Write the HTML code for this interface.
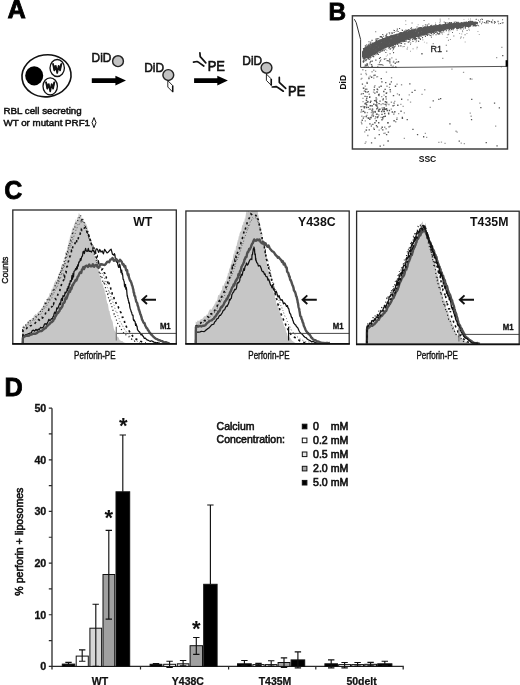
<!DOCTYPE html>
<html lang="en"><head><meta charset="utf-8"><title>Figure: perforin binding to liposomes</title>
<style>html,body{margin:0;padding:0;background:#fff}body{width:520px;height:685px;overflow:hidden}svg{display:block;font-family:"Liberation Sans", Arial, Helvetica, sans-serif;filter:blur(0.35px)}</style></head><body>
<svg width="520" height="685" viewBox="0 0 520 685">
<rect width="520" height="685" fill="#fff"/>
<g id="panelA">
<text x="7.6" y="18" font-size="25.4" font-weight="bold" fill="#000" stroke="#000" stroke-width="0.8">A</text>
<ellipse cx="46.5" cy="75.8" rx="24.6" ry="21" fill="#fff" stroke="#111" stroke-width="1.6" transform="rotate(-8 46.5 75.8)"/>
<ellipse cx="34.2" cy="75.8" rx="9" ry="9.6" fill="#000"/>
<ellipse cx="57.2" cy="68" rx="7.2" ry="8.5" fill="#fff" stroke="#111" stroke-width="1.3"/>
<path d="M52.900000000000006,63.4 L54.300000000000004,70.4 L55.800000000000004,65.8 L57.2,73 L58.6,65.8 L60.1,70.4 L61.5,63.4" fill="none" stroke="#111" stroke-width="1.7" stroke-linejoin="round"/>
<path d="M53.0,63.6 L54.300000000000004,70.2 L55.0,67 z M61.400000000000006,63.6 L60.1,70.2 L59.400000000000006,67 z" fill="#111" stroke="#111" stroke-width="0.8"/>
<ellipse cx="50.2" cy="86.3" rx="7.2" ry="8.5" fill="#fff" stroke="#111" stroke-width="1.3"/>
<path d="M45.900000000000006,81.7 L47.300000000000004,88.7 L48.800000000000004,84.1 L50.2,91.3 L51.6,84.1 L53.1,88.7 L54.5,81.7" fill="none" stroke="#111" stroke-width="1.7" stroke-linejoin="round"/>
<path d="M46.0,81.89999999999999 L47.300000000000004,88.5 L48.0,85.3 z M54.400000000000006,81.89999999999999 L53.1,88.5 L52.400000000000006,85.3 z" fill="#111" stroke="#111" stroke-width="0.8"/>
<text x="3.5" y="114" font-size="9.75" font-weight="normal" text-anchor="start" fill="#111" stroke="#111" stroke-width="0.5">RBL cell secreting</text>
<text x="3.5" y="126.2" font-size="9.75" font-weight="normal" text-anchor="start" fill="#111" stroke="#111" stroke-width="0.5">WT or mutant PRF1</text>
<path d="M94,117.6 l2,5 l-2,5 l-2,-5 z" fill="#fff" stroke="#111" stroke-width="1"/>
<text x="91.6" y="62.3" font-size="13.6" fill="#111" stroke="#111" stroke-width="0.6" textLength="19.8" lengthAdjust="spacingAndGlyphs">DiD</text>
<circle cx="118" cy="61.2" r="5.4" fill="#c2c2c2" stroke="#222" stroke-width="1.45"/>
<path d="M91.8,78.2 H115.4 V75.7 L126,80.6 L115.4,85.5 V82.9 H91.8 z" fill="#000"/>
<text x="144.2" y="71.7" font-size="13.6" fill="#111" stroke="#111" stroke-width="0.6" textLength="19.8" lengthAdjust="spacingAndGlyphs">DiD</text>
<circle cx="168.3" cy="75" r="5.4" fill="#c2c2c2" stroke="#222" stroke-width="1.45"/>
<path d="M167.8,80.6 v6.4 l4.8,4.9 v-6.4 z" fill="#fff" stroke="#111" stroke-width="0.9" stroke-linejoin="round"/>
<path d="M172.70000000000002,85.6 v6.6" stroke="#111" stroke-width="1.5"/>
<path d="M199.9,52.8 L200.2,56.6 L205.8,62.9 M193.5,62.1 L197,61.5 L199,62.6 L203.8,66" fill="none" stroke="#111" stroke-width="1.7" stroke-linecap="round" stroke-linejoin="round"/>
<text x="207.7" y="71.4" font-size="14.2" fill="#111" stroke="#111" stroke-width="0.7" textLength="17.2" lengthAdjust="spacingAndGlyphs">PE</text>
<path d="M194.1,78.2 H217.3 V75.7 L227.9,80.6 L217.3,85.5 V82.9 H194.1 z" fill="#000"/>
<text x="242.3" y="64.6" font-size="13.6" fill="#111" stroke="#111" stroke-width="0.6" textLength="19.8" lengthAdjust="spacingAndGlyphs">DiD</text>
<circle cx="266.5" cy="67.8" r="5.4" fill="#c2c2c2" stroke="#222" stroke-width="1.45"/>
<path d="M266.4,74 v6.4 l4.8,4.9 v-6.4 z" fill="#fff" stroke="#111" stroke-width="0.9" stroke-linejoin="round"/>
<path d="M271.29999999999995,79 v6.6" stroke="#111" stroke-width="1.5"/>
<path d="M279.3,77.4 L279.3,82.3 L285.7,88.4 M272.2,87 L276.1,86.6 L278.2,87.8 L283.3,91.2" fill="none" stroke="#111" stroke-width="1.7" stroke-linecap="round" stroke-linejoin="round"/>
<text x="288.1" y="96.2" font-size="14.2" fill="#111" stroke="#111" stroke-width="0.7" textLength="17.2" lengthAdjust="spacingAndGlyphs">PE</text>
</g>
<g id="panelB">
<text x="328.5" y="19.5" font-size="24.3" font-weight="bold" fill="#000" stroke="#000" stroke-width="0.8">B</text>
<rect x="352.4" y="15.8" width="155.10000000000002" height="133.2" fill="#fff" stroke="#3a3a3a" stroke-width="1.45"/>
<polygon points="362.0,51.9 364.0,48.2 366.0,46.8 368.0,45.5 370.0,44.3 372.0,43.3 374.0,42.3 376.0,41.2 378.0,40.2 380.0,39.4 382.0,38.7 384.0,37.9 386.0,37.1 388.0,36.4 390.0,35.7 392.0,35.1 394.0,34.6 396.0,34.0 398.0,33.4 400.0,32.8 402.0,32.2 404.0,31.6 406.0,31.0 408.0,30.5 410.0,30.0 412.0,29.6 414.0,29.1 416.0,28.7 418.0,28.3 420.0,27.8 422.0,27.4 424.0,27.0 426.0,26.5 428.0,26.2 430.0,25.9 432.0,25.7 434.0,25.4 436.0,25.1 438.0,24.9 440.0,24.6 442.0,24.4 444.0,24.1 446.0,23.8 448.0,23.7 450.0,23.5 452.0,23.4 454.0,23.2 456.0,23.0 458.0,22.9 460.0,22.7 462.0,22.5 464.0,22.4 466.0,22.2 468.0,22.0 470.0,21.9 472.0,21.9 474.0,22.0 476.0,22.0 478.0,22.1 478.0,23.7 476.0,24.1 474.0,24.4 472.0,24.8 470.0,25.1 468.0,25.5 466.0,25.8 464.0,26.2 462.0,26.5 460.0,26.9 458.0,27.2 456.0,27.6 454.0,27.9 452.0,28.3 450.0,28.6 448.0,29.0 446.0,29.4 444.0,29.8 442.0,30.3 440.0,30.7 438.0,31.2 436.0,31.6 434.0,32.1 432.0,32.6 430.0,33.0 428.0,33.5 426.0,34.0 424.0,34.6 422.0,35.2 420.0,35.8 418.0,36.4 416.0,37.0 414.0,37.6 412.0,38.2 410.0,38.8 408.0,39.4 406.0,40.1 404.0,40.9 402.0,41.7 400.0,42.4 398.0,43.2 396.0,44.0 394.0,44.7 392.0,45.5 390.0,46.3 388.0,47.1 386.0,48.0 384.0,49.0 382.0,49.9 380.0,50.8 378.0,51.8 376.0,53.0 374.0,54.2 372.0,55.4 370.0,56.6 368.0,57.4 366.0,57.9 364.0,58.5 362.0,57.1" fill="#585858"/>
<path d="M421.9,37.6h0.9v0.9h-0.9zM469.2,25.9h0.9v0.9h-0.9zM413.5,28.3h0.9v0.9h-0.9zM461.3,33.5h0.9v0.9h-0.9zM431.1,30.6h0.9v0.9h-0.9zM454.8,27.2h0.9v0.9h-0.9zM425.0,35.2h0.9v0.9h-0.9zM466.5,33.1h0.9v0.9h-0.9zM390.7,38.4h0.9v0.9h-0.9zM431.8,32.2h0.9v0.9h-0.9zM431.1,37.1h0.9v0.9h-0.9zM370.0,44.7h0.9v0.9h-0.9zM409.2,38.0h0.9v0.9h-0.9zM438.6,24.2h0.9v0.9h-0.9zM469.3,25.2h0.9v0.9h-0.9zM478.4,25.7h0.9v0.9h-0.9zM459.2,33.1h0.9v0.9h-0.9zM373.1,47.9h0.9v0.9h-0.9zM367.7,50.9h0.9v0.9h-0.9zM441.3,26.5h0.9v0.9h-0.9zM393.0,29.8h0.9v0.9h-0.9zM374.3,50.3h0.9v0.9h-0.9zM457.2,22.1h0.9v0.9h-0.9zM454.9,26.2h0.9v0.9h-0.9zM462.5,25.3h0.9v0.9h-0.9zM435.1,22.6h0.9v0.9h-0.9zM368.4,49.8h0.9v0.9h-0.9zM362.9,61.3h0.9v0.9h-0.9zM457.8,27.9h0.9v0.9h-0.9zM386.4,49.9h0.9v0.9h-0.9zM426.4,42.5h0.9v0.9h-0.9zM462.3,31.4h0.9v0.9h-0.9zM397.7,43.1h0.9v0.9h-0.9zM477.5,31.0h0.9v0.9h-0.9zM375.4,48.5h0.9v0.9h-0.9zM415.8,29.3h0.9v0.9h-0.9zM470.1,18.5h0.9v0.9h-0.9zM462.3,27.4h0.9v0.9h-0.9zM473.2,21.4h0.9v0.9h-0.9zM397.5,34.7h0.9v0.9h-0.9zM414.3,36.9h0.9v0.9h-0.9zM394.4,40.1h0.9v0.9h-0.9zM389.2,43.0h0.9v0.9h-0.9zM452.9,23.9h0.9v0.9h-0.9zM424.8,24.2h0.9v0.9h-0.9zM436.0,24.4h0.9v0.9h-0.9zM381.0,41.8h0.9v0.9h-0.9zM476.2,18.9h0.9v0.9h-0.9zM469.0,29.8h0.9v0.9h-0.9zM478.8,34.1h0.9v0.9h-0.9zM443.5,31.8h0.9v0.9h-0.9zM392.3,36.3h0.9v0.9h-0.9zM392.6,37.0h0.9v0.9h-0.9zM439.4,22.0h0.9v0.9h-0.9zM369.5,46.5h0.9v0.9h-0.9zM378.8,47.2h0.9v0.9h-0.9zM443.1,28.8h0.9v0.9h-0.9zM373.8,45.3h0.9v0.9h-0.9zM414.5,39.6h0.9v0.9h-0.9zM402.4,46.3h0.9v0.9h-0.9zM388.7,44.8h0.9v0.9h-0.9zM394.8,31.2h0.9v0.9h-0.9zM380.6,59.0h0.9v0.9h-0.9zM383.3,39.8h0.9v0.9h-0.9zM407.2,46.8h0.9v0.9h-0.9zM369.6,49.7h0.9v0.9h-0.9zM475.6,21.3h0.9v0.9h-0.9zM455.0,22.9h0.9v0.9h-0.9zM375.2,54.5h0.9v0.9h-0.9zM406.9,31.2h0.9v0.9h-0.9zM387.8,47.0h0.9v0.9h-0.9zM417.7,40.4h0.9v0.9h-0.9zM460.7,28.7h0.9v0.9h-0.9zM375.7,49.6h0.9v0.9h-0.9zM375.9,45.4h0.9v0.9h-0.9zM414.0,38.6h0.9v0.9h-0.9zM417.4,36.0h0.9v0.9h-0.9zM388.2,41.8h0.9v0.9h-0.9zM475.6,19.0h0.9v0.9h-0.9zM423.9,41.7h0.9v0.9h-0.9zM387.1,54.5h0.9v0.9h-0.9zM416.4,48.4h0.9v0.9h-0.9zM399.5,42.0h0.9v0.9h-0.9zM376.1,42.8h0.9v0.9h-0.9zM363.3,55.2h0.9v0.9h-0.9zM417.5,33.3h0.9v0.9h-0.9zM420.9,31.5h0.9v0.9h-0.9zM456.8,23.2h0.9v0.9h-0.9zM405.4,24.0h0.9v0.9h-0.9zM432.6,34.2h0.9v0.9h-0.9zM366.2,55.5h0.9v0.9h-0.9zM450.4,30.3h0.9v0.9h-0.9zM442.1,25.8h0.9v0.9h-0.9zM418.3,31.7h0.9v0.9h-0.9zM479.0,21.4h0.9v0.9h-0.9zM385.8,55.7h0.9v0.9h-0.9zM475.4,25.3h0.9v0.9h-0.9zM440.9,31.8h0.9v0.9h-0.9zM459.7,28.6h0.9v0.9h-0.9zM415.6,30.8h0.9v0.9h-0.9zM390.4,38.4h0.9v0.9h-0.9zM378.2,46.0h0.9v0.9h-0.9zM368.7,45.5h0.9v0.9h-0.9zM415.4,41.5h0.9v0.9h-0.9zM463.5,19.2h0.9v0.9h-0.9zM410.1,50.8h0.9v0.9h-0.9zM364.1,52.8h0.9v0.9h-0.9zM464.7,41.6h0.9v0.9h-0.9zM457.2,23.8h0.9v0.9h-0.9zM390.8,41.5h0.9v0.9h-0.9zM468.1,18.7h0.9v0.9h-0.9zM467.9,27.2h0.9v0.9h-0.9zM392.2,50.3h0.9v0.9h-0.9zM441.9,34.2h0.9v0.9h-0.9zM417.7,24.3h0.9v0.9h-0.9zM418.1,32.4h0.9v0.9h-0.9zM383.3,35.7h0.9v0.9h-0.9zM373.0,74.8h1.4v1.4h-1.4zM374.6,111.7h1.4v1.4h-1.4zM374.6,110.8h1.4v1.4h-1.4zM385.5,103.7h1.4v1.4h-1.4zM375.3,104.5h1.4v1.4h-1.4zM380.4,116.7h1.4v1.4h-1.4zM368.5,93.5h1.4v1.4h-1.4zM371.8,108.0h1.4v1.4h-1.4zM371.0,109.8h1.4v1.4h-1.4zM382.2,118.2h1.4v1.4h-1.4zM385.6,98.3h1.4v1.4h-1.4zM370.0,117.1h1.4v1.4h-1.4zM383.8,108.7h1.4v1.4h-1.4zM385.5,105.1h1.4v1.4h-1.4zM387.3,122.0h1.4v1.4h-1.4zM389.7,91.1h1.4v1.4h-1.4zM375.4,100.6h1.4v1.4h-1.4zM373.0,127.4h1.4v1.4h-1.4zM389.5,125.6h1.4v1.4h-1.4zM383.9,108.4h1.4v1.4h-1.4zM390.7,101.5h1.4v1.4h-1.4zM390.6,108.4h1.4v1.4h-1.4zM367.1,134.8h1.4v1.4h-1.4zM376.2,104.0h1.4v1.4h-1.4zM395.0,121.0h1.4v1.4h-1.4zM378.6,93.5h1.4v1.4h-1.4zM381.0,95.9h1.4v1.4h-1.4zM386.3,85.6h1.4v1.4h-1.4zM385.4,128.1h1.4v1.4h-1.4zM381.5,107.3h1.4v1.4h-1.4zM380.4,103.8h1.4v1.4h-1.4zM393.1,113.7h1.4v1.4h-1.4zM375.8,113.5h1.4v1.4h-1.4zM382.7,110.8h1.4v1.4h-1.4zM361.1,123.0h1.4v1.4h-1.4zM388.2,103.8h1.4v1.4h-1.4zM378.0,114.3h1.4v1.4h-1.4zM384.0,126.5h1.4v1.4h-1.4zM371.2,115.0h1.4v1.4h-1.4zM360.6,93.8h1.3v1.3h-1.3zM373.1,77.5h1.3v1.3h-1.3zM366.4,81.7h1.3v1.3h-1.3zM367.0,100.8h1.3v1.3h-1.3zM365.0,70.0h1.3v1.3h-1.3zM366.7,117.3h1.3v1.3h-1.3zM360.9,92.9h1.3v1.3h-1.3zM373.1,69.6h1.3v1.3h-1.3zM368.3,76.7h1.3v1.3h-1.3zM374.3,111.0h1.3v1.3h-1.3zM376.3,91.1h1.3v1.3h-1.3zM362.3,105.8h1.3v1.3h-1.3zM362.3,97.7h1.3v1.3h-1.3zM364.6,85.5h1.3v1.3h-1.3zM364.7,120.2h1.3v1.3h-1.3zM363.4,116.0h1.3v1.3h-1.3zM362.2,69.1h1.3v1.3h-1.3zM363.6,90.6h1.3v1.3h-1.3zM368.4,108.8h1.3v1.3h-1.3zM369.6,75.5h1.3v1.3h-1.3zM369.1,96.0h1.3v1.3h-1.3zM377.2,89.2h1.3v1.3h-1.3zM361.2,77.7h1.3v1.3h-1.3zM369.3,108.3h1.3v1.3h-1.3zM374.3,85.0h1.3v1.3h-1.3zM376.2,98.4h1.3v1.3h-1.3zM360.5,73.6h1.3v1.3h-1.3zM362.6,87.4h1.3v1.3h-1.3zM365.8,74.0h1.3v1.3h-1.3zM366.0,106.3h1.3v1.3h-1.3zM364.8,102.3h1.3v1.3h-1.3zM362.8,110.7h1.3v1.3h-1.3zM371.5,110.4h1.3v1.3h-1.3zM393.3,112.3h1.3v1.3h-1.3zM389.7,89.1h1.3v1.3h-1.3zM390.9,77.1h1.3v1.3h-1.3zM362.8,106.1h1.3v1.3h-1.3zM400.2,103.8h1.3v1.3h-1.3zM382.1,103.0h1.3v1.3h-1.3zM396.4,117.3h1.3v1.3h-1.3zM371.4,71.1h1.3v1.3h-1.3zM407.3,99.3h1.3v1.3h-1.3zM383.2,132.8h1.3v1.3h-1.3zM383.4,94.5h1.3v1.3h-1.3zM364.5,142.8h1.3v1.3h-1.3zM374.9,70.8h1.3v1.3h-1.3zM370.7,125.7h1.3v1.3h-1.3zM382.4,108.5h1.3v1.3h-1.3zM376.9,75.9h1.3v1.3h-1.3zM376.8,106.0h1.3v1.3h-1.3zM372.4,111.3h1.3v1.3h-1.3zM360.5,78.4h1.3v1.3h-1.3zM364.1,131.3h1.3v1.3h-1.3zM371.5,114.3h1.3v1.3h-1.3zM398.0,113.0h1.3v1.3h-1.3zM380.7,127.9h1.3v1.3h-1.3zM366.3,88.6h1.3v1.3h-1.3zM396.8,93.3h1.3v1.3h-1.3zM370.8,124.6h1.3v1.3h-1.3zM362.4,101.0h1.3v1.3h-1.3zM378.5,94.9h1.3v1.3h-1.3zM396.4,83.6h1.3v1.3h-1.3zM365.3,72.8h1.3v1.3h-1.3zM403.7,112.2h1.3v1.3h-1.3zM384.5,132.5h1.3v1.3h-1.3zM372.9,91.5h1.3v1.3h-1.3zM402.5,105.7h1.3v1.3h-1.3zM366.6,91.8h1.3v1.3h-1.3zM360.8,121.6h1.3v1.3h-1.3zM386.2,92.2h1.3v1.3h-1.3zM385.8,71.4h1.3v1.3h-1.3zM388.8,86.7h1.3v1.3h-1.3zM378.5,129.5h1.3v1.3h-1.3zM386.6,110.2h1.3v1.3h-1.3zM376.0,102.1h1.3v1.3h-1.3zM369.8,108.6h1.3v1.3h-1.3zM375.9,105.1h1.3v1.3h-1.3zM408.6,94.2h1.3v1.3h-1.3zM424.7,132.7h1.3v1.3h-1.3zM366.1,126.8h1.3v1.3h-1.3zM374.5,118.0h1.3v1.3h-1.3zM383.0,144.6h1.3v1.3h-1.3zM393.7,104.7h1.3v1.3h-1.3zM361.2,115.6h1.3v1.3h-1.3zM365.3,141.3h1.3v1.3h-1.3zM370.7,112.0h1.3v1.3h-1.3zM376.1,76.3h1.3v1.3h-1.3zM365.4,129.4h1.3v1.3h-1.3zM364.2,89.8h1.3v1.3h-1.3zM440.8,141.5h1.3v1.3h-1.3zM361.5,110.9h1.3v1.3h-1.3zM382.8,103.3h1.3v1.3h-1.3zM366.8,112.0h1.3v1.3h-1.3zM403.7,137.8h1.3v1.3h-1.3zM366.2,114.7h1.3v1.3h-1.3zM386.3,103.2h1.3v1.3h-1.3zM409.9,101.5h1.3v1.3h-1.3zM360.3,111.4h1.3v1.3h-1.3zM394.1,100.7h1.3v1.3h-1.3zM377.9,94.6h1.3v1.3h-1.3zM371.3,65.6h1.3v1.3h-1.3zM391.5,66.4h1.3v1.3h-1.3zM389.2,59.5h1.3v1.3h-1.3zM392.8,61.6h1.3v1.3h-1.3zM364.5,65.8h1.3v1.3h-1.3zM389.3,62.4h1.3v1.3h-1.3zM377.1,65.9h1.3v1.3h-1.3zM365.3,59.6h1.3v1.3h-1.3zM377.6,63.9h1.3v1.3h-1.3zM385.2,57.9h1.3v1.3h-1.3zM369.3,63.2h1.3v1.3h-1.3zM395.1,66.0h1.3v1.3h-1.3zM382.4,64.7h1.3v1.3h-1.3zM393.0,60.8h1.3v1.3h-1.3zM365.8,64.1h1.3v1.3h-1.3zM363.5,66.4h1.3v1.3h-1.3zM366.3,63.1h1.3v1.3h-1.3zM391.2,57.3h1.3v1.3h-1.3zM392.6,65.5h1.3v1.3h-1.3zM378.6,63.8h1.3v1.3h-1.3zM395.5,58.8h1.3v1.3h-1.3zM365.9,58.8h1.3v1.3h-1.3zM367.5,65.8h1.3v1.3h-1.3zM426.0,136.7h1.3v1.3h-1.3zM463.7,142.9h1.3v1.3h-1.3zM455.4,130.6h1.3v1.3h-1.3zM495.0,125.4h1.3v1.3h-1.3zM424.1,89.1h1.3v1.3h-1.3zM496.0,57.0h1.3v1.3h-1.3zM442.1,57.8h1.3v1.3h-1.3zM451.3,68.4h1.3v1.3h-1.3zM479.2,102.5h1.3v1.3h-1.3zM438.2,141.7h1.3v1.3h-1.3zM460.6,142.5h1.3v1.3h-1.3zM432.6,43.0h1.3v1.3h-1.3zM429.6,106.7h1.3v1.3h-1.3zM471.3,78.4h1.3v1.3h-1.3zM456.5,131.4h1.3v1.3h-1.3zM462.9,71.8h1.3v1.3h-1.3zM501.2,46.8h1.3v1.3h-1.3zM421.4,93.8h1.3v1.3h-1.3zM469.6,112.5h1.3v1.3h-1.3zM470.5,115.6h1.3v1.3h-1.3zM444.4,142.7h1.3v1.3h-1.3zM400.9,84.1h1.3v1.3h-1.3z" fill="#9a9a9a"/>
<path d="M388.7,44.4h1.1v1.1h-1.1zM366.2,56.6h1.1v1.1h-1.1zM412.9,33.0h1.1v1.1h-1.1zM409.5,35.3h1.1v1.1h-1.1zM364.1,52.1h1.1v1.1h-1.1zM367.5,52.3h1.1v1.1h-1.1zM399.8,38.5h1.1v1.1h-1.1zM378.7,44.0h1.1v1.1h-1.1zM424.4,33.9h1.1v1.1h-1.1zM396.6,37.3h1.1v1.1h-1.1zM472.5,25.5h1.1v1.1h-1.1zM385.2,45.0h1.1v1.1h-1.1zM371.7,52.1h1.1v1.1h-1.1zM449.7,27.2h1.1v1.1h-1.1zM374.8,42.9h1.1v1.1h-1.1zM393.9,37.3h1.1v1.1h-1.1zM414.4,34.2h1.1v1.1h-1.1zM377.1,47.0h1.1v1.1h-1.1zM431.3,27.3h1.1v1.1h-1.1zM419.1,33.1h1.1v1.1h-1.1zM403.1,34.8h1.1v1.1h-1.1zM433.8,32.8h1.1v1.1h-1.1zM380.6,40.8h1.1v1.1h-1.1zM457.9,24.2h1.1v1.1h-1.1zM437.8,26.6h1.1v1.1h-1.1zM369.6,61.8h1.1v1.1h-1.1zM399.0,38.0h1.1v1.1h-1.1zM407.3,33.4h1.1v1.1h-1.1zM364.2,50.4h1.1v1.1h-1.1zM417.5,28.3h1.1v1.1h-1.1zM458.0,24.1h1.1v1.1h-1.1zM420.2,35.6h1.1v1.1h-1.1zM418.4,27.1h1.1v1.1h-1.1zM467.9,24.5h1.1v1.1h-1.1zM405.5,35.2h1.1v1.1h-1.1zM434.1,28.0h1.1v1.1h-1.1zM427.0,34.8h1.1v1.1h-1.1zM384.7,42.9h1.1v1.1h-1.1zM395.4,38.8h1.1v1.1h-1.1zM404.1,35.6h1.1v1.1h-1.1zM373.7,49.4h1.1v1.1h-1.1zM443.1,27.6h1.1v1.1h-1.1zM370.4,50.3h1.1v1.1h-1.1zM457.4,26.8h1.1v1.1h-1.1zM366.8,47.4h1.1v1.1h-1.1zM459.1,25.5h1.1v1.1h-1.1zM450.1,27.1h1.1v1.1h-1.1zM398.7,36.0h1.1v1.1h-1.1zM392.4,46.7h1.1v1.1h-1.1zM372.2,42.5h1.1v1.1h-1.1zM374.4,48.3h1.1v1.1h-1.1zM406.8,37.5h1.1v1.1h-1.1zM419.6,31.9h1.1v1.1h-1.1zM399.1,38.2h1.1v1.1h-1.1zM393.6,32.0h1.1v1.1h-1.1zM432.6,26.6h1.1v1.1h-1.1zM410.5,31.0h1.1v1.1h-1.1zM365.1,49.1h1.1v1.1h-1.1zM461.4,25.2h1.1v1.1h-1.1zM447.1,22.5h1.1v1.1h-1.1zM396.1,37.7h1.1v1.1h-1.1zM425.3,31.2h1.1v1.1h-1.1zM365.6,54.8h1.1v1.1h-1.1zM373.2,49.8h1.1v1.1h-1.1zM390.4,40.9h1.1v1.1h-1.1zM372.2,49.2h1.1v1.1h-1.1zM368.3,50.7h1.1v1.1h-1.1zM457.8,25.4h1.1v1.1h-1.1zM422.7,32.3h1.1v1.1h-1.1zM391.2,42.7h1.1v1.1h-1.1zM393.0,44.8h1.1v1.1h-1.1zM475.0,24.5h1.1v1.1h-1.1zM404.6,34.7h1.1v1.1h-1.1zM368.4,51.5h1.1v1.1h-1.1zM390.7,40.1h1.1v1.1h-1.1zM373.1,56.2h1.1v1.1h-1.1zM363.3,57.2h1.1v1.1h-1.1zM371.9,47.9h1.1v1.1h-1.1zM413.8,36.9h1.1v1.1h-1.1zM472.8,23.5h1.1v1.1h-1.1zM456.3,24.8h1.1v1.1h-1.1zM393.3,37.4h1.1v1.1h-1.1zM373.6,49.1h1.1v1.1h-1.1zM444.5,24.4h1.1v1.1h-1.1zM389.3,42.3h1.1v1.1h-1.1zM473.8,25.1h1.1v1.1h-1.1zM454.8,26.6h1.1v1.1h-1.1zM439.2,24.0h1.1v1.1h-1.1zM379.0,42.0h1.1v1.1h-1.1zM363.6,53.2h1.1v1.1h-1.1zM363.6,53.2h1.1v1.1h-1.1zM432.9,30.8h1.1v1.1h-1.1zM469.6,20.6h1.1v1.1h-1.1zM474.2,24.0h1.1v1.1h-1.1zM469.4,23.0h1.1v1.1h-1.1zM379.0,47.6h1.1v1.1h-1.1zM376.2,48.5h1.1v1.1h-1.1zM461.5,26.7h1.1v1.1h-1.1zM453.0,23.1h1.1v1.1h-1.1zM447.4,26.8h1.1v1.1h-1.1zM367.1,47.4h1.1v1.1h-1.1zM445.0,23.0h1.1v1.1h-1.1zM440.6,26.2h1.1v1.1h-1.1zM445.9,26.8h1.1v1.1h-1.1zM389.6,44.1h1.1v1.1h-1.1zM396.5,30.3h1.1v1.1h-1.1zM397.1,43.6h1.1v1.1h-1.1zM373.8,46.2h1.1v1.1h-1.1zM370.3,55.4h1.1v1.1h-1.1zM448.3,29.7h1.1v1.1h-1.1zM371.8,54.6h1.1v1.1h-1.1zM428.3,23.5h1.1v1.1h-1.1zM391.5,38.7h1.1v1.1h-1.1zM363.0,53.5h1.1v1.1h-1.1zM471.7,22.5h1.1v1.1h-1.1zM466.3,22.6h1.1v1.1h-1.1zM400.8,41.5h1.1v1.1h-1.1zM377.5,41.1h1.1v1.1h-1.1zM381.4,43.8h1.1v1.1h-1.1zM419.2,34.0h1.1v1.1h-1.1zM382.1,42.5h1.1v1.1h-1.1zM462.9,24.8h1.1v1.1h-1.1zM391.9,35.9h1.1v1.1h-1.1zM462.1,25.0h1.1v1.1h-1.1zM399.3,41.2h1.1v1.1h-1.1zM412.4,32.1h1.1v1.1h-1.1zM411.4,37.2h1.1v1.1h-1.1zM375.0,48.2h1.1v1.1h-1.1zM362.6,54.6h1.1v1.1h-1.1zM405.4,33.9h1.1v1.1h-1.1zM437.2,26.3h1.1v1.1h-1.1zM410.8,33.3h1.1v1.1h-1.1zM415.3,33.3h1.1v1.1h-1.1zM415.9,31.6h1.1v1.1h-1.1zM381.1,43.6h1.1v1.1h-1.1zM409.5,39.6h1.1v1.1h-1.1zM416.1,33.2h1.1v1.1h-1.1zM401.9,29.9h1.1v1.1h-1.1zM422.5,28.0h1.1v1.1h-1.1zM432.9,28.8h1.1v1.1h-1.1zM403.0,33.1h1.1v1.1h-1.1zM467.4,23.5h1.1v1.1h-1.1zM433.8,32.8h1.1v1.1h-1.1zM382.2,38.0h1.1v1.1h-1.1zM415.9,38.0h1.1v1.1h-1.1zM371.1,47.2h1.1v1.1h-1.1zM369.8,49.1h1.1v1.1h-1.1zM380.3,45.5h1.1v1.1h-1.1zM366.3,49.0h1.1v1.1h-1.1zM461.0,22.3h1.1v1.1h-1.1zM372.5,47.8h1.1v1.1h-1.1zM371.6,43.8h1.1v1.1h-1.1zM459.0,26.0h1.1v1.1h-1.1zM469.0,23.4h1.1v1.1h-1.1zM396.8,28.6h1.1v1.1h-1.1zM451.9,26.3h1.1v1.1h-1.1zM373.1,44.4h1.1v1.1h-1.1zM390.3,42.6h1.1v1.1h-1.1zM376.1,44.4h1.1v1.1h-1.1zM363.2,57.9h1.1v1.1h-1.1zM415.2,32.6h1.1v1.1h-1.1zM389.5,41.4h1.1v1.1h-1.1zM424.0,29.8h1.1v1.1h-1.1zM473.8,23.2h1.1v1.1h-1.1zM445.8,27.6h1.1v1.1h-1.1zM382.7,43.7h1.1v1.1h-1.1zM364.2,53.8h1.1v1.1h-1.1zM370.5,47.0h1.1v1.1h-1.1zM399.5,42.9h1.1v1.1h-1.1zM382.1,40.6h1.1v1.1h-1.1zM372.1,53.8h1.1v1.1h-1.1zM433.9,27.3h1.1v1.1h-1.1zM367.4,57.3h1.1v1.1h-1.1zM399.9,39.4h1.1v1.1h-1.1zM366.2,57.2h1.1v1.1h-1.1zM447.6,25.3h1.1v1.1h-1.1zM367.0,52.8h1.1v1.1h-1.1zM456.2,24.8h1.1v1.1h-1.1zM403.1,34.4h1.1v1.1h-1.1zM465.3,25.6h1.1v1.1h-1.1zM383.0,47.0h1.1v1.1h-1.1zM380.1,48.5h1.1v1.1h-1.1zM368.9,51.7h1.1v1.1h-1.1zM376.7,47.8h1.1v1.1h-1.1zM387.5,39.9h1.1v1.1h-1.1zM385.2,48.7h1.1v1.1h-1.1zM408.6,36.0h1.1v1.1h-1.1zM363.1,56.2h1.1v1.1h-1.1zM381.3,50.7h1.1v1.1h-1.1zM414.8,33.6h1.1v1.1h-1.1zM375.6,38.3h1.1v1.1h-1.1zM368.7,52.6h1.1v1.1h-1.1zM450.0,24.1h1.1v1.1h-1.1zM452.2,26.7h1.1v1.1h-1.1zM396.2,33.8h1.1v1.1h-1.1zM473.4,23.2h1.1v1.1h-1.1zM390.7,43.5h1.1v1.1h-1.1zM425.5,26.8h1.1v1.1h-1.1zM397.5,37.8h1.1v1.1h-1.1zM370.5,51.3h1.1v1.1h-1.1zM366.1,52.1h1.1v1.1h-1.1zM373.3,45.6h1.1v1.1h-1.1zM367.1,56.1h1.1v1.1h-1.1zM430.0,25.3h1.1v1.1h-1.1zM384.4,43.4h1.1v1.1h-1.1zM403.8,38.9h1.1v1.1h-1.1zM372.8,46.0h1.1v1.1h-1.1zM470.4,23.8h1.1v1.1h-1.1zM472.0,22.5h1.1v1.1h-1.1zM471.0,23.2h1.1v1.1h-1.1zM387.2,41.9h1.1v1.1h-1.1zM394.9,39.4h1.1v1.1h-1.1zM405.6,33.6h1.1v1.1h-1.1zM409.2,34.6h1.1v1.1h-1.1zM362.6,54.1h1.1v1.1h-1.1zM396.9,40.1h1.1v1.1h-1.1zM364.3,56.1h1.1v1.1h-1.1zM379.6,45.8h1.1v1.1h-1.1zM419.1,27.5h1.1v1.1h-1.1zM428.3,29.0h1.1v1.1h-1.1zM436.0,30.0h1.1v1.1h-1.1zM388.9,38.9h1.1v1.1h-1.1zM473.8,24.2h1.1v1.1h-1.1zM426.5,33.5h1.1v1.1h-1.1zM364.4,56.9h1.1v1.1h-1.1zM424.4,25.9h1.1v1.1h-1.1zM438.4,28.4h1.1v1.1h-1.1zM411.5,32.5h1.1v1.1h-1.1zM409.1,37.4h1.1v1.1h-1.1zM451.1,23.1h1.1v1.1h-1.1zM418.9,35.4h1.1v1.1h-1.1zM433.0,26.7h1.1v1.1h-1.1zM379.3,47.4h1.1v1.1h-1.1zM392.7,40.5h1.1v1.1h-1.1zM368.6,53.8h1.1v1.1h-1.1zM424.5,27.8h1.1v1.1h-1.1zM424.3,29.4h1.1v1.1h-1.1zM362.6,51.7h1.1v1.1h-1.1zM447.1,26.4h1.1v1.1h-1.1zM412.9,30.2h1.1v1.1h-1.1zM428.5,33.5h1.1v1.1h-1.1zM381.4,47.0h1.1v1.1h-1.1zM366.4,51.6h1.1v1.1h-1.1zM377.0,52.8h1.1v1.1h-1.1zM439.2,30.3h1.1v1.1h-1.1zM395.0,38.7h1.1v1.1h-1.1zM406.1,33.4h1.1v1.1h-1.1zM423.1,26.9h1.1v1.1h-1.1zM426.4,31.4h1.1v1.1h-1.1zM381.6,45.4h1.1v1.1h-1.1zM439.7,26.8h1.1v1.1h-1.1zM362.9,57.1h1.1v1.1h-1.1zM365.5,51.9h1.1v1.1h-1.1zM432.9,32.5h1.1v1.1h-1.1zM430.7,28.6h1.1v1.1h-1.1zM404.4,39.8h1.1v1.1h-1.1zM404.6,40.9h1.1v1.1h-1.1zM376.4,52.4h1.1v1.1h-1.1zM472.8,23.5h1.1v1.1h-1.1zM403.7,36.1h1.1v1.1h-1.1zM450.2,28.1h1.1v1.1h-1.1zM383.1,43.0h1.1v1.1h-1.1zM377.4,48.8h1.1v1.1h-1.1zM418.6,31.5h1.1v1.1h-1.1zM371.5,39.8h1.1v1.1h-1.1zM370.7,48.5h1.1v1.1h-1.1zM450.2,22.2h1.1v1.1h-1.1zM434.3,28.4h1.1v1.1h-1.1zM379.4,48.9h1.1v1.1h-1.1zM363.4,51.6h1.1v1.1h-1.1zM362.6,51.6h1.1v1.1h-1.1zM386.4,42.6h1.1v1.1h-1.1zM371.4,47.7h1.1v1.1h-1.1zM453.0,27.0h1.1v1.1h-1.1zM362.5,54.2h1.1v1.1h-1.1zM369.7,42.8h1.1v1.1h-1.1zM465.3,23.4h1.1v1.1h-1.1zM385.2,35.3h1.1v1.1h-1.1zM393.9,29.9h1.1v1.1h-1.1zM419.6,38.2h1.1v1.1h-1.1zM392.7,37.6h1.1v1.1h-1.1zM364.7,54.2h1.1v1.1h-1.1zM368.3,53.0h1.1v1.1h-1.1zM466.6,23.0h1.1v1.1h-1.1zM381.2,44.2h1.1v1.1h-1.1zM375.6,52.0h1.1v1.1h-1.1zM394.0,46.4h1.1v1.1h-1.1zM449.1,25.1h1.1v1.1h-1.1zM424.9,35.9h1.1v1.1h-1.1zM414.6,29.7h1.1v1.1h-1.1zM436.5,31.8h1.1v1.1h-1.1zM402.8,38.2h1.1v1.1h-1.1zM440.9,26.4h1.1v1.1h-1.1zM364.7,50.6h1.1v1.1h-1.1zM465.3,25.2h1.1v1.1h-1.1zM390.8,43.6h1.1v1.1h-1.1zM386.0,41.9h1.1v1.1h-1.1zM382.2,34.0h1.1v1.1h-1.1zM428.1,28.8h1.1v1.1h-1.1zM396.4,42.9h1.1v1.1h-1.1zM373.6,49.9h1.1v1.1h-1.1zM462.3,25.4h1.1v1.1h-1.1zM408.2,36.1h1.1v1.1h-1.1zM475.5,25.1h1.1v1.1h-1.1zM402.7,38.0h1.1v1.1h-1.1zM367.5,53.6h1.1v1.1h-1.1zM390.6,43.0h1.1v1.1h-1.1zM382.0,45.8h1.1v1.1h-1.1zM417.1,36.1h1.1v1.1h-1.1zM398.4,34.6h1.1v1.1h-1.1zM398.6,34.9h1.1v1.1h-1.1zM390.2,40.4h1.1v1.1h-1.1zM365.6,50.9h1.1v1.1h-1.1zM370.2,60.8h1.1v1.1h-1.1zM409.0,30.6h1.1v1.1h-1.1zM378.0,40.4h1.1v1.1h-1.1zM383.3,43.8h1.1v1.1h-1.1zM402.2,40.1h1.1v1.1h-1.1zM469.3,25.2h1.1v1.1h-1.1zM363.3,49.0h1.1v1.1h-1.1zM363.8,51.7h1.1v1.1h-1.1zM405.4,29.4h1.1v1.1h-1.1zM419.3,34.7h1.1v1.1h-1.1zM465.3,24.1h1.1v1.1h-1.1zM451.0,29.0h1.1v1.1h-1.1zM381.1,36.7h1.1v1.1h-1.1zM368.9,53.9h1.1v1.1h-1.1zM431.5,31.6h1.1v1.1h-1.1zM467.4,23.5h1.1v1.1h-1.1zM442.6,24.2h1.1v1.1h-1.1zM403.5,35.6h1.1v1.1h-1.1zM445.0,26.6h1.1v1.1h-1.1zM379.5,50.1h1.1v1.1h-1.1zM386.6,39.8h1.1v1.1h-1.1zM370.3,50.2h1.1v1.1h-1.1zM433.7,32.2h1.1v1.1h-1.1zM369.1,55.4h1.1v1.1h-1.1zM418.8,33.6h1.1v1.1h-1.1zM395.7,39.8h1.1v1.1h-1.1zM362.8,57.4h1.1v1.1h-1.1zM386.4,33.5h1.1v1.1h-1.1zM426.6,31.7h1.1v1.1h-1.1zM459.2,23.7h1.1v1.1h-1.1zM380.9,45.2h1.1v1.1h-1.1zM470.2,23.2h1.1v1.1h-1.1zM363.3,51.4h1.1v1.1h-1.1zM408.4,33.4h1.1v1.1h-1.1zM381.9,40.8h1.1v1.1h-1.1zM429.6,31.1h1.1v1.1h-1.1zM363.9,52.3h1.1v1.1h-1.1zM390.2,36.2h1.1v1.1h-1.1zM376.3,49.7h1.1v1.1h-1.1zM447.0,26.3h1.1v1.1h-1.1zM377.0,42.0h1.1v1.1h-1.1zM471.6,22.5h1.1v1.1h-1.1zM379.4,51.9h1.1v1.1h-1.1zM378.5,46.0h1.1v1.1h-1.1zM469.0,22.5h1.1v1.1h-1.1zM408.1,35.7h1.1v1.1h-1.1zM398.9,40.1h1.1v1.1h-1.1zM429.3,30.9h1.1v1.1h-1.1zM396.3,38.3h1.1v1.1h-1.1zM377.7,48.3h1.1v1.1h-1.1zM364.9,52.5h1.1v1.1h-1.1zM365.4,46.5h1.1v1.1h-1.1zM459.1,27.0h1.1v1.1h-1.1zM438.3,33.1h1.1v1.1h-1.1zM389.3,41.1h1.1v1.1h-1.1zM375.2,53.5h1.1v1.1h-1.1zM363.8,51.4h1.1v1.1h-1.1zM429.2,27.9h1.1v1.1h-1.1zM389.5,43.5h1.1v1.1h-1.1zM373.8,51.6h1.1v1.1h-1.1zM391.7,40.5h1.1v1.1h-1.1zM469.5,26.0h1.1v1.1h-1.1zM377.2,53.5h1.1v1.1h-1.1zM392.2,43.0h1.1v1.1h-1.1zM400.7,32.0h1.1v1.1h-1.1zM364.8,49.5h1.1v1.1h-1.1zM464.3,24.5h1.1v1.1h-1.1zM375.9,41.7h1.1v1.1h-1.1zM363.7,58.7h1.1v1.1h-1.1zM398.2,40.3h1.1v1.1h-1.1zM364.3,47.7h1.1v1.1h-1.1zM363.9,60.5h1.1v1.1h-1.1zM381.9,47.5h1.1v1.1h-1.1zM440.2,29.2h1.1v1.1h-1.1zM383.4,41.7h1.1v1.1h-1.1zM469.8,22.8h1.1v1.1h-1.1zM436.1,27.2h1.1v1.1h-1.1zM387.9,41.7h1.1v1.1h-1.1zM441.4,27.6h1.1v1.1h-1.1zM463.8,21.9h1.1v1.1h-1.1zM363.4,48.4h1.1v1.1h-1.1zM379.7,35.9h1.1v1.1h-1.1zM469.2,24.1h1.1v1.1h-1.1zM395.5,39.1h1.1v1.1h-1.1zM407.8,38.2h1.1v1.1h-1.1zM465.5,25.1h1.1v1.1h-1.1zM439.0,31.5h1.1v1.1h-1.1zM450.6,26.4h1.1v1.1h-1.1zM389.1,36.5h1.1v1.1h-1.1zM388.3,37.6h1.1v1.1h-1.1zM366.7,57.1h1.1v1.1h-1.1zM376.3,47.0h1.1v1.1h-1.1zM365.7,49.7h1.1v1.1h-1.1zM363.9,50.6h1.1v1.1h-1.1zM473.1,23.0h1.1v1.1h-1.1zM459.1,26.2h1.1v1.1h-1.1zM367.0,51.7h1.1v1.1h-1.1zM367.9,45.3h1.1v1.1h-1.1zM402.3,36.9h1.1v1.1h-1.1zM379.7,40.7h1.1v1.1h-1.1zM430.5,31.1h1.1v1.1h-1.1zM440.3,29.4h1.1v1.1h-1.1zM369.8,45.6h1.1v1.1h-1.1zM453.1,25.1h1.1v1.1h-1.1zM394.0,43.9h1.1v1.1h-1.1zM439.0,28.4h1.1v1.1h-1.1zM380.8,47.5h1.1v1.1h-1.1zM372.4,53.0h1.1v1.1h-1.1zM389.0,38.2h1.1v1.1h-1.1zM396.5,42.7h1.1v1.1h-1.1zM379.4,45.2h1.1v1.1h-1.1zM448.6,22.9h1.1v1.1h-1.1zM368.4,41.2h1.1v1.1h-1.1zM405.6,38.2h1.1v1.1h-1.1zM463.5,21.8h1.1v1.1h-1.1zM364.2,52.7h1.1v1.1h-1.1zM375.6,49.3h1.1v1.1h-1.1zM472.0,21.0h1.1v1.1h-1.1zM393.9,35.7h1.1v1.1h-1.1zM456.7,24.0h1.1v1.1h-1.1zM444.4,27.4h1.1v1.1h-1.1zM468.1,25.2h1.1v1.1h-1.1zM423.5,33.1h1.1v1.1h-1.1zM378.1,44.5h1.1v1.1h-1.1zM376.9,48.2h1.1v1.1h-1.1zM381.7,40.0h1.1v1.1h-1.1zM376.8,43.4h1.1v1.1h-1.1zM362.8,52.2h1.1v1.1h-1.1zM375.2,52.8h1.1v1.1h-1.1zM387.5,43.8h1.1v1.1h-1.1zM414.4,38.2h1.1v1.1h-1.1zM365.6,55.5h1.1v1.1h-1.1zM414.7,34.9h1.1v1.1h-1.1zM425.9,31.6h1.1v1.1h-1.1zM433.3,29.6h1.1v1.1h-1.1zM398.1,37.7h1.1v1.1h-1.1zM469.1,24.7h1.1v1.1h-1.1zM387.5,38.8h1.1v1.1h-1.1zM398.8,36.7h1.1v1.1h-1.1zM456.4,26.9h1.1v1.1h-1.1zM376.3,46.9h1.1v1.1h-1.1zM437.6,28.2h1.1v1.1h-1.1zM461.7,24.7h1.1v1.1h-1.1zM399.7,39.1h1.1v1.1h-1.1zM459.0,23.4h1.1v1.1h-1.1zM404.0,36.5h1.1v1.1h-1.1zM414.9,33.6h1.1v1.1h-1.1zM426.1,31.2h1.1v1.1h-1.1zM423.7,30.2h1.1v1.1h-1.1zM393.8,37.8h1.1v1.1h-1.1zM384.5,43.1h1.1v1.1h-1.1zM411.1,35.4h1.1v1.1h-1.1zM407.5,34.4h1.1v1.1h-1.1zM448.1,27.6h1.1v1.1h-1.1zM370.2,49.8h1.1v1.1h-1.1zM467.7,25.4h1.1v1.1h-1.1zM365.0,52.2h1.1v1.1h-1.1zM465.2,21.7h1.1v1.1h-1.1zM423.5,34.6h1.1v1.1h-1.1zM450.8,27.7h1.1v1.1h-1.1zM378.5,51.5h1.1v1.1h-1.1zM397.5,42.0h1.1v1.1h-1.1zM375.0,41.6h1.1v1.1h-1.1zM378.2,42.2h1.1v1.1h-1.1zM395.2,41.7h1.1v1.1h-1.1zM369.9,50.6h1.1v1.1h-1.1zM461.1,27.1h1.1v1.1h-1.1zM364.3,47.8h1.1v1.1h-1.1zM364.1,51.1h1.1v1.1h-1.1zM452.7,27.5h1.1v1.1h-1.1zM414.7,35.8h1.1v1.1h-1.1zM424.4,29.7h1.1v1.1h-1.1zM418.7,34.9h1.1v1.1h-1.1zM399.9,35.7h1.1v1.1h-1.1zM401.3,34.2h1.1v1.1h-1.1zM363.4,51.2h1.1v1.1h-1.1zM379.8,42.2h1.1v1.1h-1.1zM442.4,27.7h1.1v1.1h-1.1zM374.7,43.6h1.1v1.1h-1.1zM405.4,37.0h1.1v1.1h-1.1zM400.5,38.5h1.1v1.1h-1.1zM367.6,47.3h1.1v1.1h-1.1zM364.3,54.7h1.1v1.1h-1.1zM425.6,34.0h1.1v1.1h-1.1zM444.3,28.5h1.1v1.1h-1.1zM410.0,37.7h1.1v1.1h-1.1zM394.5,40.8h1.1v1.1h-1.1zM468.8,25.4h1.1v1.1h-1.1zM475.4,24.5h1.1v1.1h-1.1zM438.2,28.6h1.1v1.1h-1.1zM473.3,22.6h1.1v1.1h-1.1zM407.6,41.5h1.1v1.1h-1.1zM373.4,46.2h1.1v1.1h-1.1zM445.8,27.3h1.1v1.1h-1.1zM391.6,39.9h1.1v1.1h-1.1zM441.4,29.9h1.1v1.1h-1.1zM383.7,50.2h1.1v1.1h-1.1zM449.6,27.5h1.1v1.1h-1.1zM464.3,25.6h1.1v1.1h-1.1zM377.3,46.0h1.1v1.1h-1.1zM388.2,45.9h1.1v1.1h-1.1zM364.1,54.2h1.1v1.1h-1.1zM466.7,24.7h1.1v1.1h-1.1zM431.2,30.4h1.1v1.1h-1.1zM445.3,26.0h1.1v1.1h-1.1zM369.3,45.1h1.1v1.1h-1.1zM392.5,39.2h1.1v1.1h-1.1zM457.6,23.1h1.1v1.1h-1.1zM459.0,24.2h1.1v1.1h-1.1zM368.5,56.9h1.1v1.1h-1.1zM396.3,38.6h1.1v1.1h-1.1zM447.1,25.9h1.1v1.1h-1.1zM418.1,40.8h1.1v1.1h-1.1zM392.6,40.5h1.1v1.1h-1.1zM374.4,43.7h1.1v1.1h-1.1zM439.7,31.6h1.1v1.1h-1.1zM381.6,46.5h1.1v1.1h-1.1zM425.9,33.7h1.1v1.1h-1.1zM429.1,29.3h1.1v1.1h-1.1zM387.5,42.9h1.1v1.1h-1.1zM372.1,49.3h1.1v1.1h-1.1zM423.0,28.1h1.1v1.1h-1.1zM460.8,25.5h1.1v1.1h-1.1zM370.7,50.9h1.1v1.1h-1.1zM363.3,58.0h1.1v1.1h-1.1zM362.5,53.5h1.1v1.1h-1.1zM392.3,41.5h1.1v1.1h-1.1zM378.8,41.3h1.1v1.1h-1.1zM376.9,44.0h1.1v1.1h-1.1zM424.0,29.4h1.1v1.1h-1.1zM466.7,24.0h1.1v1.1h-1.1zM380.6,45.9h1.1v1.1h-1.1zM425.8,31.2h1.1v1.1h-1.1zM457.4,25.5h1.1v1.1h-1.1zM382.6,40.3h1.1v1.1h-1.1zM362.8,52.0h1.1v1.1h-1.1zM391.5,36.9h1.1v1.1h-1.1zM426.8,24.4h1.1v1.1h-1.1zM438.4,29.8h1.1v1.1h-1.1zM381.1,45.6h1.1v1.1h-1.1zM412.4,33.3h1.1v1.1h-1.1zM397.7,38.5h1.1v1.1h-1.1zM444.5,27.6h1.1v1.1h-1.1zM362.9,48.2h1.1v1.1h-1.1zM371.5,46.6h1.1v1.1h-1.1zM376.5,43.3h1.1v1.1h-1.1zM426.2,28.3h1.1v1.1h-1.1zM449.3,26.9h1.1v1.1h-1.1zM386.3,45.2h1.1v1.1h-1.1zM364.7,57.7h1.1v1.1h-1.1zM435.9,25.8h1.1v1.1h-1.1zM362.7,56.3h1.1v1.1h-1.1zM404.5,31.8h1.1v1.1h-1.1zM439.5,26.3h1.1v1.1h-1.1zM368.6,52.0h1.1v1.1h-1.1zM379.5,48.7h1.1v1.1h-1.1zM440.5,28.0h1.1v1.1h-1.1zM433.2,31.0h1.1v1.1h-1.1zM382.8,39.1h1.1v1.1h-1.1zM415.1,28.4h1.1v1.1h-1.1zM411.4,36.1h1.1v1.1h-1.1zM382.7,37.9h1.1v1.1h-1.1zM378.1,38.2h1.1v1.1h-1.1zM458.6,26.2h1.1v1.1h-1.1zM379.9,45.5h1.1v1.1h-1.1zM439.8,31.1h1.1v1.1h-1.1zM389.0,39.3h1.1v1.1h-1.1zM458.6,24.4h1.1v1.1h-1.1zM462.6,25.4h1.1v1.1h-1.1zM424.8,29.2h1.1v1.1h-1.1zM472.9,21.7h1.1v1.1h-1.1zM405.0,38.5h1.1v1.1h-1.1zM455.4,23.1h1.1v1.1h-1.1zM401.2,36.5h1.1v1.1h-1.1zM387.0,37.5h1.1v1.1h-1.1zM377.6,45.1h1.1v1.1h-1.1zM463.0,24.0h1.1v1.1h-1.1zM371.7,51.4h1.1v1.1h-1.1zM465.6,24.2h1.1v1.1h-1.1zM390.9,41.2h1.1v1.1h-1.1zM364.3,53.8h1.1v1.1h-1.1zM432.9,26.5h1.1v1.1h-1.1zM438.8,25.3h1.1v1.1h-1.1zM365.8,49.5h1.1v1.1h-1.1zM449.9,25.1h1.1v1.1h-1.1zM450.1,26.6h1.1v1.1h-1.1zM456.9,24.8h1.1v1.1h-1.1zM463.5,25.0h1.1v1.1h-1.1zM377.0,45.9h1.1v1.1h-1.1zM369.1,58.7h1.1v1.1h-1.1zM449.1,27.0h1.1v1.1h-1.1zM425.3,32.1h1.1v1.1h-1.1zM384.9,38.4h1.1v1.1h-1.1zM368.2,56.8h1.1v1.1h-1.1zM377.0,50.3h1.1v1.1h-1.1zM388.2,41.0h1.1v1.1h-1.1zM381.9,44.7h1.1v1.1h-1.1zM384.5,42.5h1.1v1.1h-1.1zM388.4,38.2h1.1v1.1h-1.1zM470.7,21.0h1.1v1.1h-1.1zM423.2,30.9h1.1v1.1h-1.1zM363.7,50.5h1.1v1.1h-1.1zM443.7,28.2h1.1v1.1h-1.1zM391.1,39.4h1.1v1.1h-1.1zM378.0,41.4h1.1v1.1h-1.1zM456.1,27.9h1.1v1.1h-1.1zM373.9,52.3h1.1v1.1h-1.1zM362.5,55.4h1.1v1.1h-1.1zM472.7,25.1h1.1v1.1h-1.1zM362.6,51.4h1.1v1.1h-1.1zM447.0,26.6h1.1v1.1h-1.1zM375.1,44.0h1.1v1.1h-1.1zM451.8,25.9h1.1v1.1h-1.1zM382.3,47.0h1.1v1.1h-1.1zM377.9,45.0h1.1v1.1h-1.1zM433.8,27.6h1.1v1.1h-1.1zM425.6,30.4h1.1v1.1h-1.1zM366.8,53.4h1.1v1.1h-1.1zM445.6,23.7h1.1v1.1h-1.1zM424.5,29.0h1.1v1.1h-1.1zM396.4,41.5h1.1v1.1h-1.1zM460.1,27.6h1.1v1.1h-1.1zM363.4,56.9h1.1v1.1h-1.1zM377.1,45.8h1.1v1.1h-1.1zM408.7,41.2h1.1v1.1h-1.1zM394.7,41.3h1.1v1.1h-1.1zM404.0,34.7h1.1v1.1h-1.1zM412.4,33.9h1.1v1.1h-1.1zM426.9,25.7h1.1v1.1h-1.1zM391.3,39.6h1.1v1.1h-1.1zM453.4,26.6h1.1v1.1h-1.1zM428.9,29.6h1.1v1.1h-1.1zM401.4,35.2h1.1v1.1h-1.1zM443.8,26.1h1.1v1.1h-1.1zM404.1,35.4h1.1v1.1h-1.1zM459.4,25.0h1.1v1.1h-1.1zM386.4,44.8h1.1v1.1h-1.1zM434.3,29.4h1.1v1.1h-1.1zM372.6,47.1h1.1v1.1h-1.1zM381.0,42.6h1.1v1.1h-1.1zM373.1,53.0h1.1v1.1h-1.1zM389.2,44.9h1.1v1.1h-1.1zM437.7,33.7h1.1v1.1h-1.1zM368.3,53.1h1.1v1.1h-1.1zM395.2,38.9h1.1v1.1h-1.1zM473.6,23.7h1.1v1.1h-1.1zM401.0,32.3h1.1v1.1h-1.1zM376.2,45.8h1.1v1.1h-1.1zM377.1,45.1h1.1v1.1h-1.1zM395.7,42.4h1.1v1.1h-1.1zM446.2,27.0h1.1v1.1h-1.1zM433.0,25.6h1.1v1.1h-1.1zM404.2,36.2h1.1v1.1h-1.1zM371.5,46.4h1.1v1.1h-1.1zM439.4,26.4h1.1v1.1h-1.1zM462.6,22.7h1.1v1.1h-1.1zM440.5,28.8h1.1v1.1h-1.1zM399.4,38.5h1.1v1.1h-1.1zM458.6,27.5h1.1v1.1h-1.1zM443.9,25.7h1.1v1.1h-1.1zM431.2,24.7h1.1v1.1h-1.1zM426.2,28.1h1.1v1.1h-1.1zM424.5,31.3h1.1v1.1h-1.1zM368.0,45.4h1.1v1.1h-1.1zM435.6,30.4h1.1v1.1h-1.1zM424.7,30.6h1.1v1.1h-1.1zM403.3,39.8h1.1v1.1h-1.1zM423.7,27.5h1.1v1.1h-1.1zM465.8,25.2h1.1v1.1h-1.1zM375.0,43.8h1.1v1.1h-1.1zM395.7,34.2h1.1v1.1h-1.1zM407.4,35.9h1.1v1.1h-1.1zM413.9,33.3h1.1v1.1h-1.1zM373.1,50.6h1.1v1.1h-1.1zM410.9,27.3h1.1v1.1h-1.1zM368.3,46.9h1.1v1.1h-1.1zM436.2,27.1h1.1v1.1h-1.1zM410.1,30.8h1.1v1.1h-1.1zM411.2,29.8h1.1v1.1h-1.1zM398.2,40.4h1.1v1.1h-1.1zM431.8,28.6h1.1v1.1h-1.1zM396.1,39.0h1.1v1.1h-1.1zM473.7,22.7h1.1v1.1h-1.1zM392.1,42.9h1.1v1.1h-1.1zM397.0,39.6h1.1v1.1h-1.1zM362.9,51.6h1.1v1.1h-1.1zM433.7,30.0h1.1v1.1h-1.1zM391.7,40.2h1.1v1.1h-1.1zM439.4,29.3h1.1v1.1h-1.1zM467.2,22.9h1.1v1.1h-1.1zM447.6,26.2h1.1v1.1h-1.1zM396.1,39.3h1.1v1.1h-1.1zM444.2,28.0h1.1v1.1h-1.1zM448.7,24.8h1.1v1.1h-1.1zM416.2,30.4h1.1v1.1h-1.1zM378.9,49.1h1.1v1.1h-1.1zM425.9,29.7h1.1v1.1h-1.1zM450.0,26.9h1.1v1.1h-1.1zM385.6,39.0h1.1v1.1h-1.1zM414.5,37.1h1.1v1.1h-1.1zM392.0,45.0h1.1v1.1h-1.1zM454.5,25.3h1.1v1.1h-1.1zM381.6,48.1h1.1v1.1h-1.1zM399.9,37.7h1.1v1.1h-1.1zM436.8,28.4h1.1v1.1h-1.1zM384.3,43.4h1.1v1.1h-1.1zM406.2,38.1h1.1v1.1h-1.1zM400.2,34.4h1.1v1.1h-1.1zM392.8,36.2h1.1v1.1h-1.1zM465.6,24.4h1.1v1.1h-1.1zM451.3,25.4h1.1v1.1h-1.1zM462.3,24.7h1.1v1.1h-1.1zM451.8,24.9h1.1v1.1h-1.1zM425.2,30.9h1.1v1.1h-1.1zM468.9,23.7h1.1v1.1h-1.1zM428.1,29.8h1.1v1.1h-1.1zM371.5,51.5h1.1v1.1h-1.1zM379.6,45.9h1.1v1.1h-1.1zM372.4,45.5h1.1v1.1h-1.1zM462.1,24.8h1.1v1.1h-1.1zM460.2,23.8h1.1v1.1h-1.1zM422.0,32.1h1.1v1.1h-1.1zM460.6,22.4h1.1v1.1h-1.1zM445.8,27.3h1.1v1.1h-1.1zM432.9,27.6h1.1v1.1h-1.1zM412.3,33.6h1.1v1.1h-1.1zM459.0,23.2h1.1v1.1h-1.1zM415.3,32.8h1.1v1.1h-1.1zM371.3,52.7h1.1v1.1h-1.1zM407.8,38.2h1.1v1.1h-1.1zM371.7,51.1h1.1v1.1h-1.1zM407.6,31.3h1.1v1.1h-1.1zM456.2,25.3h1.1v1.1h-1.1zM362.7,55.6h1.1v1.1h-1.1zM416.2,30.1h1.1v1.1h-1.1zM429.3,30.9h1.1v1.1h-1.1zM399.1,35.2h1.1v1.1h-1.1zM470.2,25.1h1.1v1.1h-1.1zM425.5,32.1h1.1v1.1h-1.1zM363.6,49.9h1.1v1.1h-1.1zM466.0,22.7h1.1v1.1h-1.1zM389.4,45.4h1.1v1.1h-1.1zM406.8,34.9h1.1v1.1h-1.1zM461.1,27.1h1.1v1.1h-1.1zM424.1,31.6h1.1v1.1h-1.1zM390.3,43.1h1.1v1.1h-1.1zM405.6,33.5h1.1v1.1h-1.1zM411.7,34.2h1.1v1.1h-1.1zM401.0,35.1h1.1v1.1h-1.1zM399.5,32.0h1.1v1.1h-1.1zM385.5,40.5h1.1v1.1h-1.1zM451.3,24.1h1.1v1.1h-1.1zM383.4,46.2h1.1v1.1h-1.1zM409.4,38.9h1.1v1.1h-1.1zM446.3,26.1h1.1v1.1h-1.1zM389.5,40.0h1.1v1.1h-1.1zM419.2,34.1h1.1v1.1h-1.1zM425.4,30.6h1.1v1.1h-1.1zM436.9,27.6h1.1v1.1h-1.1zM459.4,24.4h1.1v1.1h-1.1zM386.3,42.1h1.1v1.1h-1.1zM362.7,56.1h1.1v1.1h-1.1zM422.0,36.9h1.1v1.1h-1.1zM428.4,31.1h1.1v1.1h-1.1zM422.4,25.5h1.1v1.1h-1.1zM423.0,28.2h1.1v1.1h-1.1zM420.5,28.7h1.1v1.1h-1.1zM431.4,30.1h1.1v1.1h-1.1zM403.6,40.9h1.1v1.1h-1.1zM442.3,28.3h1.1v1.1h-1.1zM364.1,54.6h1.1v1.1h-1.1zM443.9,29.5h1.1v1.1h-1.1zM393.5,37.2h1.1v1.1h-1.1zM450.6,26.6h1.1v1.1h-1.1zM382.0,39.6h1.1v1.1h-1.1zM386.4,39.6h1.1v1.1h-1.1zM400.5,38.8h1.1v1.1h-1.1zM426.3,31.0h1.1v1.1h-1.1zM416.8,32.3h1.1v1.1h-1.1zM364.2,57.9h1.1v1.1h-1.1zM417.8,35.8h1.1v1.1h-1.1zM464.1,24.0h1.1v1.1h-1.1zM395.6,39.3h1.1v1.1h-1.1zM419.9,39.0h1.1v1.1h-1.1zM405.7,32.4h1.1v1.1h-1.1zM398.4,41.9h1.1v1.1h-1.1zM377.6,49.5h1.1v1.1h-1.1zM372.3,49.6h1.1v1.1h-1.1zM431.7,29.2h1.1v1.1h-1.1zM369.8,52.2h1.1v1.1h-1.1zM457.1,25.0h1.1v1.1h-1.1zM370.4,56.6h1.1v1.1h-1.1zM380.5,45.6h1.1v1.1h-1.1zM438.4,28.2h1.1v1.1h-1.1zM443.9,27.6h1.1v1.1h-1.1zM435.7,30.7h1.1v1.1h-1.1zM367.1,47.0h1.1v1.1h-1.1zM424.6,29.9h1.1v1.1h-1.1zM466.1,22.5h1.1v1.1h-1.1zM381.6,50.3h1.1v1.1h-1.1zM362.8,53.1h1.1v1.1h-1.1zM363.0,51.1h1.1v1.1h-1.1zM366.7,46.3h1.1v1.1h-1.1zM387.4,41.7h1.1v1.1h-1.1zM455.9,24.3h1.1v1.1h-1.1zM407.0,38.0h1.1v1.1h-1.1zM417.8,33.4h1.1v1.1h-1.1zM401.4,36.3h1.1v1.1h-1.1zM447.1,25.5h1.1v1.1h-1.1zM392.9,37.0h1.1v1.1h-1.1zM399.0,34.3h1.1v1.1h-1.1zM395.4,41.0h1.1v1.1h-1.1zM445.3,22.0h1.1v1.1h-1.1zM416.8,32.4h1.1v1.1h-1.1zM472.2,23.7h1.1v1.1h-1.1zM434.3,29.7h1.1v1.1h-1.1zM421.7,29.2h1.1v1.1h-1.1zM472.7,24.0h1.1v1.1h-1.1zM387.1,37.8h1.1v1.1h-1.1zM400.2,39.9h1.1v1.1h-1.1zM431.9,27.6h1.1v1.1h-1.1zM421.1,35.4h1.1v1.1h-1.1zM384.5,39.2h1.1v1.1h-1.1zM362.5,54.0h1.1v1.1h-1.1zM419.2,34.9h1.1v1.1h-1.1zM449.6,26.6h1.1v1.1h-1.1zM452.0,25.5h1.1v1.1h-1.1zM449.0,27.9h1.1v1.1h-1.1zM383.6,40.0h1.1v1.1h-1.1zM454.6,26.4h1.1v1.1h-1.1zM463.4,22.2h1.1v1.1h-1.1zM391.2,44.4h1.1v1.1h-1.1zM447.1,27.7h1.1v1.1h-1.1zM376.5,46.8h1.1v1.1h-1.1zM379.7,36.5h1.1v1.1h-1.1zM421.8,30.0h1.1v1.1h-1.1zM377.1,42.6h1.1v1.1h-1.1zM381.7,44.5h1.1v1.1h-1.1zM403.8,30.7h1.1v1.1h-1.1zM367.3,54.1h1.1v1.1h-1.1zM379.6,39.2h1.1v1.1h-1.1zM418.4,36.8h1.1v1.1h-1.1zM411.2,30.4h1.1v1.1h-1.1zM405.8,33.9h1.1v1.1h-1.1zM375.8,45.9h1.1v1.1h-1.1zM374.8,46.7h1.1v1.1h-1.1zM416.5,30.2h1.1v1.1h-1.1zM397.3,36.7h1.1v1.1h-1.1zM364.5,52.9h1.1v1.1h-1.1zM475.6,22.8h1.1v1.1h-1.1zM425.1,31.4h1.1v1.1h-1.1zM445.7,28.2h1.1v1.1h-1.1zM390.9,44.6h1.1v1.1h-1.1zM410.9,34.9h1.1v1.1h-1.1zM474.6,23.2h1.1v1.1h-1.1zM456.7,23.1h1.1v1.1h-1.1zM382.4,44.5h1.1v1.1h-1.1zM444.6,22.5h1.1v1.1h-1.1zM442.9,29.4h1.1v1.1h-1.1zM450.0,27.5h1.1v1.1h-1.1zM364.1,52.7h1.1v1.1h-1.1zM376.6,47.5h1.1v1.1h-1.1zM364.9,54.2h1.1v1.1h-1.1zM415.6,35.1h1.1v1.1h-1.1zM468.3,22.6h1.1v1.1h-1.1zM462.9,26.3h1.1v1.1h-1.1zM396.7,40.5h1.1v1.1h-1.1zM369.7,53.6h1.1v1.1h-1.1zM416.5,32.2h1.1v1.1h-1.1zM426.1,33.9h1.1v1.1h-1.1zM396.2,37.5h1.1v1.1h-1.1zM402.5,41.2h1.1v1.1h-1.1zM474.8,25.3h1.1v1.1h-1.1zM378.5,48.6h1.1v1.1h-1.1zM391.7,41.1h1.1v1.1h-1.1zM461.9,27.0h1.1v1.1h-1.1zM364.6,49.2h1.1v1.1h-1.1zM445.5,26.0h1.1v1.1h-1.1zM473.9,21.7h1.1v1.1h-1.1zM365.2,56.4h1.1v1.1h-1.1zM467.1,25.7h1.1v1.1h-1.1zM430.8,28.3h1.1v1.1h-1.1zM441.7,30.1h1.1v1.1h-1.1zM368.6,49.8h1.1v1.1h-1.1zM370.0,53.2h1.1v1.1h-1.1zM406.4,36.6h1.1v1.1h-1.1zM371.6,52.2h1.1v1.1h-1.1zM430.9,33.2h1.1v1.1h-1.1zM376.1,47.6h1.1v1.1h-1.1zM364.0,55.6h1.1v1.1h-1.1zM466.4,23.5h1.1v1.1h-1.1zM456.7,25.9h1.1v1.1h-1.1zM402.4,35.7h1.1v1.1h-1.1zM368.0,58.3h1.1v1.1h-1.1zM424.5,28.5h1.1v1.1h-1.1zM403.0,33.5h1.1v1.1h-1.1zM405.9,40.5h1.1v1.1h-1.1zM424.5,31.8h1.1v1.1h-1.1zM365.2,54.7h1.1v1.1h-1.1zM435.7,27.2h1.1v1.1h-1.1zM457.3,24.8h1.1v1.1h-1.1zM382.8,42.1h1.1v1.1h-1.1zM383.3,44.9h1.1v1.1h-1.1zM452.9,25.2h1.1v1.1h-1.1zM407.5,36.7h1.1v1.1h-1.1zM388.1,43.1h1.1v1.1h-1.1zM472.9,23.0h1.1v1.1h-1.1zM365.2,56.9h1.1v1.1h-1.1zM377.5,42.7h1.1v1.1h-1.1zM405.9,35.1h1.1v1.1h-1.1zM376.7,49.7h1.1v1.1h-1.1zM393.0,52.1h1.1v1.1h-1.1zM465.1,23.8h1.1v1.1h-1.1zM368.0,49.4h1.1v1.1h-1.1zM365.3,60.1h1.1v1.1h-1.1zM437.4,26.5h1.1v1.1h-1.1zM363.0,61.1h1.1v1.1h-1.1zM448.4,25.7h1.1v1.1h-1.1zM362.5,55.3h1.1v1.1h-1.1zM451.9,24.7h1.1v1.1h-1.1zM401.0,36.9h1.1v1.1h-1.1zM463.2,24.8h1.1v1.1h-1.1zM371.2,54.9h1.1v1.1h-1.1zM374.7,48.6h1.1v1.1h-1.1zM376.2,40.9h1.1v1.1h-1.1zM366.7,56.5h1.1v1.1h-1.1zM408.1,37.1h1.1v1.1h-1.1zM383.6,45.0h1.1v1.1h-1.1zM434.9,31.7h1.1v1.1h-1.1zM449.0,25.1h1.1v1.1h-1.1zM365.8,51.2h1.1v1.1h-1.1zM438.3,25.0h1.1v1.1h-1.1zM365.1,55.9h1.1v1.1h-1.1zM448.9,24.4h1.1v1.1h-1.1zM456.4,28.0h1.1v1.1h-1.1zM407.8,41.6h1.1v1.1h-1.1zM405.8,36.3h1.1v1.1h-1.1zM457.5,25.0h1.1v1.1h-1.1zM451.8,27.0h1.1v1.1h-1.1zM393.3,41.6h1.1v1.1h-1.1zM420.3,34.0h1.1v1.1h-1.1zM362.6,51.6h1.1v1.1h-1.1zM410.5,33.9h1.1v1.1h-1.1zM369.8,48.9h1.1v1.1h-1.1zM456.6,22.2h1.1v1.1h-1.1zM388.4,40.7h1.1v1.1h-1.1zM440.8,25.5h1.1v1.1h-1.1zM365.5,58.9h1.1v1.1h-1.1zM408.0,29.5h1.1v1.1h-1.1zM410.2,30.7h1.1v1.1h-1.1zM363.2,53.1h1.1v1.1h-1.1zM471.2,23.5h1.1v1.1h-1.1zM368.4,53.8h1.1v1.1h-1.1zM381.3,45.0h1.1v1.1h-1.1zM367.9,50.6h1.1v1.1h-1.1zM433.8,28.9h1.1v1.1h-1.1zM420.8,32.1h1.1v1.1h-1.1zM418.0,28.0h1.1v1.1h-1.1zM368.4,50.4h1.1v1.1h-1.1zM457.1,25.1h1.1v1.1h-1.1zM369.9,49.3h1.1v1.1h-1.1zM407.8,32.5h1.1v1.1h-1.1zM369.9,50.5h1.1v1.1h-1.1zM397.6,41.3h1.1v1.1h-1.1zM455.9,27.0h1.1v1.1h-1.1zM371.9,43.4h1.1v1.1h-1.1zM373.3,45.7h1.1v1.1h-1.1zM451.0,27.6h1.1v1.1h-1.1zM399.3,36.6h1.1v1.1h-1.1zM452.9,23.9h1.1v1.1h-1.1zM467.4,23.6h1.1v1.1h-1.1zM444.2,26.1h1.1v1.1h-1.1zM389.9,43.2h1.1v1.1h-1.1zM401.0,43.0h1.1v1.1h-1.1zM463.3,24.0h1.1v1.1h-1.1zM449.5,26.5h1.1v1.1h-1.1zM410.7,33.4h1.1v1.1h-1.1zM469.8,24.4h1.1v1.1h-1.1zM399.5,36.8h1.1v1.1h-1.1zM425.1,28.4h1.1v1.1h-1.1zM366.0,55.8h1.1v1.1h-1.1zM400.7,36.7h1.1v1.1h-1.1zM371.3,49.7h1.1v1.1h-1.1zM471.5,23.9h1.1v1.1h-1.1zM425.2,24.4h1.1v1.1h-1.1zM448.7,29.2h1.1v1.1h-1.1zM363.9,48.7h1.1v1.1h-1.1zM426.2,29.8h1.1v1.1h-1.1zM383.5,49.2h1.1v1.1h-1.1zM413.7,37.0h1.1v1.1h-1.1zM381.3,42.2h1.1v1.1h-1.1zM411.0,27.5h1.1v1.1h-1.1zM385.0,46.7h1.1v1.1h-1.1zM386.8,41.1h1.1v1.1h-1.1zM420.2,30.7h1.1v1.1h-1.1zM469.6,22.5h1.1v1.1h-1.1zM404.6,35.8h1.1v1.1h-1.1zM412.7,34.6h1.1v1.1h-1.1zM370.6,51.8h1.1v1.1h-1.1zM385.6,40.3h1.1v1.1h-1.1zM380.6,46.6h1.1v1.1h-1.1zM367.3,44.7h1.1v1.1h-1.1zM422.2,29.8h1.1v1.1h-1.1zM417.2,31.4h1.1v1.1h-1.1zM435.3,27.3h1.1v1.1h-1.1zM404.0,32.1h1.1v1.1h-1.1zM404.9,34.7h1.1v1.1h-1.1zM387.3,42.1h1.1v1.1h-1.1zM410.1,36.5h1.1v1.1h-1.1zM395.1,38.8h1.1v1.1h-1.1zM391.8,40.1h1.1v1.1h-1.1zM456.1,25.5h1.1v1.1h-1.1zM407.6,38.9h1.1v1.1h-1.1zM384.7,46.2h1.1v1.1h-1.1zM443.6,26.9h1.1v1.1h-1.1zM372.9,56.2h1.1v1.1h-1.1zM401.5,39.7h1.1v1.1h-1.1zM365.6,49.6h1.1v1.1h-1.1zM438.6,29.5h1.1v1.1h-1.1zM368.9,52.7h1.1v1.1h-1.1zM439.1,33.3h1.1v1.1h-1.1zM372.5,47.1h1.1v1.1h-1.1zM430.6,31.3h1.1v1.1h-1.1zM423.0,33.9h1.1v1.1h-1.1zM410.7,29.8h1.1v1.1h-1.1zM439.1,27.7h1.1v1.1h-1.1zM405.7,30.5h1.1v1.1h-1.1zM445.3,25.6h1.1v1.1h-1.1zM370.3,41.6h1.1v1.1h-1.1zM457.3,28.0h1.1v1.1h-1.1zM419.1,32.2h1.1v1.1h-1.1zM408.3,38.7h1.1v1.1h-1.1zM399.0,37.0h1.1v1.1h-1.1zM445.2,28.7h1.1v1.1h-1.1zM394.7,36.1h1.1v1.1h-1.1zM403.0,31.7h1.1v1.1h-1.1zM385.5,44.3h1.1v1.1h-1.1zM395.9,35.9h1.1v1.1h-1.1zM388.5,40.3h1.1v1.1h-1.1zM445.6,28.0h1.1v1.1h-1.1zM402.0,33.9h1.1v1.1h-1.1zM375.1,46.9h1.1v1.1h-1.1zM417.8,33.8h1.1v1.1h-1.1zM418.6,37.5h1.1v1.1h-1.1zM388.7,45.6h1.1v1.1h-1.1zM453.5,28.0h1.1v1.1h-1.1zM376.9,38.3h1.1v1.1h-1.1zM400.0,38.0h1.1v1.1h-1.1zM364.7,52.7h1.1v1.1h-1.1zM416.5,26.4h1.1v1.1h-1.1zM443.8,27.1h1.1v1.1h-1.1zM413.3,37.1h1.1v1.1h-1.1zM410.7,34.2h1.1v1.1h-1.1zM431.9,27.4h1.1v1.1h-1.1zM420.3,33.4h1.1v1.1h-1.1zM391.6,45.4h1.1v1.1h-1.1zM411.6,32.6h1.1v1.1h-1.1zM368.1,48.6h1.1v1.1h-1.1zM416.1,34.9h1.1v1.1h-1.1zM417.7,37.7h1.1v1.1h-1.1zM407.0,29.8h1.1v1.1h-1.1zM401.6,29.5h1.1v1.1h-1.1zM390.8,32.5h1.1v1.1h-1.1zM412.2,34.5h1.1v1.1h-1.1zM388.1,39.7h1.1v1.1h-1.1zM472.8,23.9h1.1v1.1h-1.1zM369.0,46.7h1.1v1.1h-1.1zM460.7,23.6h1.1v1.1h-1.1zM474.6,21.4h1.1v1.1h-1.1zM459.8,24.0h1.1v1.1h-1.1zM385.2,43.9h1.1v1.1h-1.1zM410.0,32.5h1.1v1.1h-1.1zM374.9,47.6h1.1v1.1h-1.1zM424.8,28.6h1.1v1.1h-1.1zM475.1,22.6h1.1v1.1h-1.1zM425.6,32.9h1.1v1.1h-1.1zM445.7,27.2h1.1v1.1h-1.1zM386.9,42.1h1.1v1.1h-1.1zM386.7,42.0h1.1v1.1h-1.1zM453.3,23.4h1.1v1.1h-1.1zM376.2,44.0h1.1v1.1h-1.1zM408.3,32.6h1.1v1.1h-1.1zM426.9,29.4h1.1v1.1h-1.1zM412.4,37.6h1.1v1.1h-1.1zM398.2,38.1h1.1v1.1h-1.1zM369.8,54.3h1.1v1.1h-1.1zM368.7,56.8h1.1v1.1h-1.1zM368.2,53.7h1.1v1.1h-1.1zM450.6,28.0h1.1v1.1h-1.1zM422.6,31.5h1.1v1.1h-1.1zM362.9,53.1h1.1v1.1h-1.1zM443.4,25.6h1.1v1.1h-1.1zM391.9,45.3h1.1v1.1h-1.1zM373.8,48.2h1.1v1.1h-1.1zM462.0,25.2h1.1v1.1h-1.1zM418.7,30.4h1.1v1.1h-1.1zM395.4,42.2h1.1v1.1h-1.1zM365.1,56.4h1.1v1.1h-1.1zM470.1,22.4h1.1v1.1h-1.1zM401.5,35.3h1.1v1.1h-1.1zM364.5,51.3h1.1v1.1h-1.1zM465.9,24.8h1.1v1.1h-1.1zM461.3,23.6h1.1v1.1h-1.1zM449.6,25.3h1.1v1.1h-1.1zM470.1,25.1h1.1v1.1h-1.1zM408.1,37.1h1.1v1.1h-1.1zM395.8,38.2h1.1v1.1h-1.1zM436.3,28.7h1.1v1.1h-1.1zM458.0,26.4h1.1v1.1h-1.1zM406.7,35.9h1.1v1.1h-1.1zM374.1,45.3h1.1v1.1h-1.1zM392.4,43.8h1.1v1.1h-1.1zM385.3,51.9h1.1v1.1h-1.1zM416.1,35.4h1.1v1.1h-1.1zM395.4,41.9h1.1v1.1h-1.1zM397.3,40.1h1.1v1.1h-1.1zM451.0,26.3h1.1v1.1h-1.1zM391.6,40.5h1.1v1.1h-1.1zM384.6,45.6h1.1v1.1h-1.1zM380.0,50.6h1.1v1.1h-1.1zM390.6,41.9h1.1v1.1h-1.1zM372.6,48.5h1.1v1.1h-1.1zM383.2,42.2h1.1v1.1h-1.1zM452.3,27.1h1.1v1.1h-1.1zM452.5,27.2h1.1v1.1h-1.1zM448.1,27.3h1.1v1.1h-1.1zM436.9,30.0h1.1v1.1h-1.1zM394.4,41.7h1.1v1.1h-1.1zM468.8,23.4h1.1v1.1h-1.1zM409.2,35.1h1.1v1.1h-1.1zM370.6,54.5h1.1v1.1h-1.1zM434.7,28.3h1.1v1.1h-1.1zM419.4,37.9h1.1v1.1h-1.1zM393.4,39.9h1.1v1.1h-1.1zM377.7,51.5h1.1v1.1h-1.1zM457.5,26.5h1.1v1.1h-1.1zM413.8,35.8h1.1v1.1h-1.1zM383.2,44.3h1.1v1.1h-1.1zM428.3,27.3h1.1v1.1h-1.1zM416.9,31.6h1.1v1.1h-1.1zM367.2,55.4h1.1v1.1h-1.1zM374.5,50.0h1.1v1.1h-1.1zM429.0,27.9h1.1v1.1h-1.1zM368.9,47.5h1.1v1.1h-1.1zM408.6,33.7h1.1v1.1h-1.1zM385.9,45.5h1.1v1.1h-1.1zM379.0,46.9h1.1v1.1h-1.1zM370.2,49.7h1.1v1.1h-1.1zM397.4,35.9h1.1v1.1h-1.1zM462.7,24.9h1.1v1.1h-1.1zM456.0,21.8h1.1v1.1h-1.1zM370.7,49.9h1.1v1.1h-1.1zM431.2,29.8h1.1v1.1h-1.1zM429.1,28.1h1.1v1.1h-1.1zM428.5,31.8h1.1v1.1h-1.1zM433.8,28.8h1.1v1.1h-1.1zM391.7,47.1h1.1v1.1h-1.1zM424.6,31.2h1.1v1.1h-1.1zM463.3,25.0h1.1v1.1h-1.1zM438.4,27.8h1.1v1.1h-1.1zM364.2,52.3h1.1v1.1h-1.1zM373.2,49.8h1.1v1.1h-1.1zM394.8,42.1h1.1v1.1h-1.1zM364.2,51.4h1.1v1.1h-1.1zM374.7,53.0h1.1v1.1h-1.1zM452.9,23.1h1.1v1.1h-1.1zM381.7,41.9h1.1v1.1h-1.1zM401.0,36.1h1.1v1.1h-1.1zM362.5,52.3h1.1v1.1h-1.1zM452.2,26.0h1.1v1.1h-1.1zM364.4,50.3h1.1v1.1h-1.1zM455.0,25.0h1.1v1.1h-1.1zM380.7,44.1h1.1v1.1h-1.1zM369.0,51.7h1.1v1.1h-1.1zM463.5,23.3h1.1v1.1h-1.1zM440.5,30.4h1.1v1.1h-1.1zM396.3,41.5h1.1v1.1h-1.1zM440.3,28.5h1.1v1.1h-1.1zM367.5,48.9h1.1v1.1h-1.1zM468.2,21.0h1.1v1.1h-1.1zM432.8,31.5h1.1v1.1h-1.1zM439.0,29.3h1.1v1.1h-1.1zM403.0,32.7h1.1v1.1h-1.1zM365.1,51.6h1.1v1.1h-1.1zM410.0,31.4h1.1v1.1h-1.1zM465.5,25.8h1.1v1.1h-1.1zM364.4,57.4h1.1v1.1h-1.1zM434.3,29.3h1.1v1.1h-1.1zM414.2,31.2h1.1v1.1h-1.1zM471.5,22.4h1.1v1.1h-1.1zM381.2,41.0h1.1v1.1h-1.1zM365.4,50.3h1.1v1.1h-1.1zM376.6,49.9h1.1v1.1h-1.1zM387.3,45.7h1.1v1.1h-1.1zM430.0,32.4h1.1v1.1h-1.1zM380.0,45.4h1.1v1.1h-1.1zM402.1,40.7h1.1v1.1h-1.1zM466.6,23.2h1.1v1.1h-1.1zM459.3,26.0h1.1v1.1h-1.1zM371.5,46.3h1.1v1.1h-1.1zM449.6,25.5h1.1v1.1h-1.1zM414.5,33.4h1.1v1.1h-1.1zM429.5,28.0h1.1v1.1h-1.1zM420.8,27.1h1.1v1.1h-1.1zM451.7,26.6h1.1v1.1h-1.1zM369.3,49.9h1.1v1.1h-1.1zM377.1,50.1h1.1v1.1h-1.1zM365.4,52.1h1.1v1.1h-1.1zM434.1,30.3h1.1v1.1h-1.1zM402.5,38.9h1.1v1.1h-1.1zM404.9,37.8h1.1v1.1h-1.1zM392.9,40.7h1.1v1.1h-1.1zM362.8,54.9h1.1v1.1h-1.1zM474.8,23.1h1.1v1.1h-1.1zM436.2,27.4h1.1v1.1h-1.1zM473.1,22.8h1.1v1.1h-1.1zM407.3,34.6h1.1v1.1h-1.1zM400.9,38.8h1.1v1.1h-1.1zM362.7,56.9h1.1v1.1h-1.1zM464.3,23.0h1.1v1.1h-1.1zM466.5,22.4h1.1v1.1h-1.1zM427.7,29.9h1.1v1.1h-1.1zM371.2,52.8h1.1v1.1h-1.1zM363.6,54.5h1.1v1.1h-1.1zM385.8,35.8h1.1v1.1h-1.1zM375.2,42.6h1.1v1.1h-1.1zM465.3,22.0h1.1v1.1h-1.1zM373.7,50.0h1.1v1.1h-1.1zM439.5,23.7h1.1v1.1h-1.1zM389.0,44.0h1.1v1.1h-1.1zM388.3,47.7h1.1v1.1h-1.1zM393.5,36.7h1.1v1.1h-1.1zM451.8,25.3h1.1v1.1h-1.1zM380.2,49.8h1.1v1.1h-1.1zM424.5,31.5h1.1v1.1h-1.1zM450.2,24.9h1.1v1.1h-1.1zM467.9,20.9h1.1v1.1h-1.1zM407.9,33.2h1.1v1.1h-1.1zM386.2,42.5h1.1v1.1h-1.1zM418.5,35.9h1.1v1.1h-1.1zM373.3,51.5h1.1v1.1h-1.1zM401.9,38.3h1.1v1.1h-1.1zM364.2,53.0h1.1v1.1h-1.1zM401.5,39.0h1.1v1.1h-1.1zM362.6,57.6h1.1v1.1h-1.1zM453.1,27.6h1.1v1.1h-1.1zM399.9,33.1h1.1v1.1h-1.1zM384.5,40.9h1.1v1.1h-1.1zM399.4,34.5h1.1v1.1h-1.1zM390.3,36.1h1.1v1.1h-1.1zM451.0,27.0h1.1v1.1h-1.1zM462.0,25.2h1.1v1.1h-1.1zM401.9,39.3h1.1v1.1h-1.1zM416.3,31.7h1.1v1.1h-1.1zM367.1,53.9h1.1v1.1h-1.1zM388.7,32.2h1.1v1.1h-1.1zM462.7,25.4h1.1v1.1h-1.1zM456.6,29.5h1.1v1.1h-1.1zM423.5,29.8h1.1v1.1h-1.1zM449.0,28.9h1.1v1.1h-1.1zM422.1,32.8h1.1v1.1h-1.1zM385.9,34.5h1.1v1.1h-1.1zM406.3,32.2h1.1v1.1h-1.1zM427.0,29.3h1.1v1.1h-1.1zM459.3,26.3h1.1v1.1h-1.1zM363.6,55.4h1.1v1.1h-1.1zM402.4,41.2h1.1v1.1h-1.1zM367.1,49.9h1.1v1.1h-1.1zM418.5,29.9h1.1v1.1h-1.1zM398.8,33.8h1.1v1.1h-1.1zM396.6,38.0h1.1v1.1h-1.1zM369.3,54.5h1.1v1.1h-1.1zM414.4,38.7h1.1v1.1h-1.1zM369.1,53.0h1.1v1.1h-1.1zM367.8,49.2h1.1v1.1h-1.1zM412.3,33.8h1.1v1.1h-1.1zM415.2,36.4h1.1v1.1h-1.1zM379.0,43.9h1.1v1.1h-1.1zM410.2,33.7h1.1v1.1h-1.1zM419.5,34.4h1.1v1.1h-1.1zM366.3,54.1h1.1v1.1h-1.1zM401.5,39.8h1.1v1.1h-1.1zM435.8,26.2h1.1v1.1h-1.1zM441.5,32.3h1.1v1.1h-1.1zM436.8,32.8h1.1v1.1h-1.1zM368.3,53.2h1.1v1.1h-1.1zM373.9,44.8h1.1v1.1h-1.1zM470.1,21.4h1.1v1.1h-1.1zM371.0,47.2h1.1v1.1h-1.1zM444.1,28.3h1.1v1.1h-1.1zM393.9,40.6h1.1v1.1h-1.1zM363.0,52.4h1.1v1.1h-1.1zM386.2,41.1h1.1v1.1h-1.1zM434.9,24.2h1.1v1.1h-1.1zM423.6,33.4h1.1v1.1h-1.1zM457.5,21.7h1.1v1.1h-1.1zM457.3,23.7h1.1v1.1h-1.1zM373.7,48.3h1.1v1.1h-1.1zM442.4,25.3h1.1v1.1h-1.1zM431.3,29.8h1.1v1.1h-1.1zM394.0,38.1h1.1v1.1h-1.1zM438.9,31.2h1.1v1.1h-1.1zM364.4,51.3h1.1v1.1h-1.1zM421.4,34.2h1.1v1.1h-1.1zM447.8,27.8h1.1v1.1h-1.1zM369.2,56.4h1.1v1.1h-1.1zM381.7,41.9h1.1v1.1h-1.1zM375.9,40.1h1.1v1.1h-1.1zM418.6,33.9h1.1v1.1h-1.1zM369.2,52.8h1.1v1.1h-1.1zM447.5,26.5h1.1v1.1h-1.1zM375.2,44.5h1.1v1.1h-1.1zM432.2,28.4h1.1v1.1h-1.1zM394.9,43.6h1.1v1.1h-1.1zM413.3,38.2h1.1v1.1h-1.1zM432.5,31.1h1.1v1.1h-1.1zM362.9,48.0h1.1v1.1h-1.1zM390.7,43.2h1.1v1.1h-1.1zM457.6,26.7h1.1v1.1h-1.1zM447.5,27.6h1.1v1.1h-1.1zM450.0,26.4h1.1v1.1h-1.1zM431.2,27.1h1.1v1.1h-1.1zM372.8,51.7h1.1v1.1h-1.1zM453.7,22.8h1.1v1.1h-1.1zM422.3,34.6h1.1v1.1h-1.1zM366.5,50.9h1.1v1.1h-1.1zM460.6,25.7h1.1v1.1h-1.1zM419.6,33.5h1.1v1.1h-1.1zM392.7,40.7h1.1v1.1h-1.1zM404.8,33.3h1.1v1.1h-1.1zM391.9,38.8h1.1v1.1h-1.1zM362.6,52.2h1.1v1.1h-1.1zM363.2,52.6h1.1v1.1h-1.1zM403.8,37.3h1.1v1.1h-1.1zM371.8,49.3h1.1v1.1h-1.1zM430.1,29.2h1.1v1.1h-1.1zM408.6,37.2h1.1v1.1h-1.1zM382.4,40.0h1.1v1.1h-1.1zM469.7,22.9h1.1v1.1h-1.1zM474.8,24.4h1.1v1.1h-1.1zM443.4,27.6h1.1v1.1h-1.1zM457.5,25.5h1.1v1.1h-1.1zM425.3,26.8h1.1v1.1h-1.1zM392.9,38.8h1.1v1.1h-1.1zM457.6,28.0h1.1v1.1h-1.1zM467.0,23.4h1.1v1.1h-1.1zM442.4,25.6h1.1v1.1h-1.1zM439.2,24.7h1.1v1.1h-1.1zM391.5,40.2h1.1v1.1h-1.1zM414.8,32.3h1.1v1.1h-1.1zM390.1,41.6h1.1v1.1h-1.1zM388.6,45.5h1.1v1.1h-1.1zM393.4,39.6h1.1v1.1h-1.1zM380.6,45.2h1.1v1.1h-1.1zM371.0,53.6h1.1v1.1h-1.1zM362.7,55.9h1.1v1.1h-1.1zM402.2,34.3h1.1v1.1h-1.1zM417.0,32.0h1.1v1.1h-1.1zM365.8,54.5h1.1v1.1h-1.1zM386.4,40.3h1.1v1.1h-1.1zM414.8,37.5h1.1v1.1h-1.1zM466.9,22.2h1.1v1.1h-1.1zM418.8,37.4h1.1v1.1h-1.1zM366.8,54.2h1.1v1.1h-1.1zM474.2,24.4h1.1v1.1h-1.1zM392.2,40.8h1.1v1.1h-1.1zM457.0,23.4h1.1v1.1h-1.1zM365.9,44.5h1.1v1.1h-1.1zM383.8,44.3h1.1v1.1h-1.1zM382.0,46.5h1.1v1.1h-1.1zM383.0,44.2h1.1v1.1h-1.1zM434.5,29.1h1.1v1.1h-1.1zM376.5,50.7h1.1v1.1h-1.1zM421.3,34.0h1.1v1.1h-1.1zM376.2,42.8h1.1v1.1h-1.1zM438.4,30.9h1.1v1.1h-1.1zM366.7,50.8h1.1v1.1h-1.1zM448.7,27.5h1.1v1.1h-1.1zM371.0,47.3h1.1v1.1h-1.1zM375.4,39.6h1.1v1.1h-1.1zM426.0,29.0h1.1v1.1h-1.1zM464.8,24.5h1.1v1.1h-1.1zM440.5,29.4h1.1v1.1h-1.1zM427.2,26.8h1.1v1.1h-1.1zM390.2,43.9h1.1v1.1h-1.1zM365.3,51.7h1.1v1.1h-1.1zM424.3,31.1h1.1v1.1h-1.1zM389.8,36.3h1.1v1.1h-1.1zM381.9,44.5h1.1v1.1h-1.1zM404.3,43.3h1.1v1.1h-1.1zM416.4,33.3h1.1v1.1h-1.1zM474.2,24.5h1.1v1.1h-1.1zM437.1,29.3h1.1v1.1h-1.1zM389.3,43.0h1.1v1.1h-1.1zM371.5,50.9h1.1v1.1h-1.1zM442.9,30.4h1.1v1.1h-1.1zM399.6,40.9h1.1v1.1h-1.1zM413.3,30.4h1.1v1.1h-1.1zM428.3,28.1h1.1v1.1h-1.1zM421.1,29.4h1.1v1.1h-1.1zM382.0,49.7h1.1v1.1h-1.1zM435.4,28.8h1.1v1.1h-1.1zM387.2,35.9h1.1v1.1h-1.1zM443.7,29.3h1.1v1.1h-1.1zM384.0,42.8h1.1v1.1h-1.1zM411.4,35.5h1.1v1.1h-1.1zM362.8,53.6h1.1v1.1h-1.1zM405.7,32.7h1.1v1.1h-1.1zM392.8,35.1h1.1v1.1h-1.1zM474.5,23.4h1.1v1.1h-1.1zM367.5,58.2h1.1v1.1h-1.1zM363.6,54.3h1.1v1.1h-1.1zM408.8,35.5h1.1v1.1h-1.1zM415.3,35.8h1.1v1.1h-1.1zM393.2,47.3h1.1v1.1h-1.1zM372.1,52.2h1.1v1.1h-1.1zM464.6,26.3h1.1v1.1h-1.1zM373.2,55.5h1.1v1.1h-1.1zM380.5,46.1h1.1v1.1h-1.1zM473.4,21.7h1.1v1.1h-1.1zM390.9,40.7h1.1v1.1h-1.1zM447.5,24.7h1.1v1.1h-1.1zM462.0,24.9h1.1v1.1h-1.1zM368.8,50.9h1.1v1.1h-1.1zM426.7,29.1h1.1v1.1h-1.1zM397.2,39.3h1.1v1.1h-1.1zM416.4,32.0h1.1v1.1h-1.1zM398.1,45.2h1.1v1.1h-1.1zM424.4,27.6h1.1v1.1h-1.1zM378.7,45.6h1.1v1.1h-1.1zM400.8,39.8h1.1v1.1h-1.1zM379.4,47.2h1.1v1.1h-1.1zM426.4,34.3h1.1v1.1h-1.1zM386.1,45.1h1.1v1.1h-1.1zM417.1,32.5h1.1v1.1h-1.1zM372.7,54.2h1.1v1.1h-1.1zM382.9,38.2h1.1v1.1h-1.1zM440.8,28.3h1.1v1.1h-1.1zM389.5,38.6h1.1v1.1h-1.1zM406.9,36.7h1.1v1.1h-1.1zM431.6,28.3h1.1v1.1h-1.1zM420.6,28.2h1.1v1.1h-1.1zM459.0,25.5h1.1v1.1h-1.1zM377.4,49.0h1.1v1.1h-1.1zM444.6,25.6h1.1v1.1h-1.1zM456.3,26.7h1.1v1.1h-1.1zM475.2,24.9h1.1v1.1h-1.1zM386.0,44.3h1.1v1.1h-1.1zM472.2,23.4h1.1v1.1h-1.1zM362.8,55.3h1.1v1.1h-1.1zM438.7,27.2h1.1v1.1h-1.1zM368.0,54.4h1.1v1.1h-1.1zM367.5,56.8h1.1v1.1h-1.1zM390.4,45.7h1.1v1.1h-1.1zM458.9,23.7h1.1v1.1h-1.1zM473.0,24.1h1.1v1.1h-1.1zM446.3,26.9h1.1v1.1h-1.1zM432.5,31.8h1.1v1.1h-1.1zM379.5,46.4h1.1v1.1h-1.1zM400.4,38.0h1.1v1.1h-1.1zM474.6,23.3h1.1v1.1h-1.1zM387.9,43.1h1.1v1.1h-1.1zM407.1,34.1h1.1v1.1h-1.1zM371.0,47.6h1.1v1.1h-1.1zM432.0,29.8h1.1v1.1h-1.1zM372.0,49.0h1.1v1.1h-1.1zM369.1,46.1h1.1v1.1h-1.1zM391.9,32.6h1.1v1.1h-1.1zM391.4,40.7h1.1v1.1h-1.1zM377.9,53.9h1.1v1.1h-1.1zM438.1,27.1h1.1v1.1h-1.1zM383.5,44.9h1.1v1.1h-1.1zM366.0,55.0h1.1v1.1h-1.1zM364.4,49.5h1.1v1.1h-1.1zM415.5,32.8h1.1v1.1h-1.1zM392.9,45.3h1.1v1.1h-1.1zM427.7,30.1h1.1v1.1h-1.1zM413.9,29.2h1.1v1.1h-1.1zM473.4,22.7h1.1v1.1h-1.1zM457.8,24.7h1.1v1.1h-1.1zM388.1,38.1h1.1v1.1h-1.1zM399.2,41.1h1.1v1.1h-1.1zM395.4,38.6h1.1v1.1h-1.1zM398.1,45.6h1.1v1.1h-1.1zM362.6,60.8h1.1v1.1h-1.1zM421.9,33.2h1.1v1.1h-1.1zM422.3,30.3h1.1v1.1h-1.1zM394.4,39.6h1.1v1.1h-1.1zM369.4,53.5h1.1v1.1h-1.1zM453.4,26.5h1.1v1.1h-1.1zM364.8,45.3h1.1v1.1h-1.1zM433.1,27.4h1.1v1.1h-1.1zM414.5,36.9h1.1v1.1h-1.1zM387.8,41.9h1.1v1.1h-1.1zM440.1,27.6h1.1v1.1h-1.1zM454.9,23.1h1.1v1.1h-1.1zM475.2,23.0h1.1v1.1h-1.1zM379.7,41.0h1.1v1.1h-1.1zM394.6,35.4h1.1v1.1h-1.1zM435.5,26.3h1.1v1.1h-1.1zM422.6,33.2h1.1v1.1h-1.1zM430.9,27.8h1.1v1.1h-1.1zM413.8,37.1h1.1v1.1h-1.1zM378.7,43.4h1.1v1.1h-1.1zM462.7,23.7h1.1v1.1h-1.1zM405.4,35.1h1.1v1.1h-1.1zM405.8,31.9h1.1v1.1h-1.1zM378.5,51.3h1.1v1.1h-1.1zM412.1,39.1h1.1v1.1h-1.1zM411.5,28.7h1.1v1.1h-1.1zM380.1,43.9h1.1v1.1h-1.1zM374.0,50.1h1.1v1.1h-1.1zM426.1,27.6h1.1v1.1h-1.1zM451.2,28.8h1.1v1.1h-1.1zM364.4,48.8h1.1v1.1h-1.1zM394.9,42.4h1.1v1.1h-1.1zM369.9,44.0h1.1v1.1h-1.1zM372.5,49.1h1.1v1.1h-1.1zM392.2,41.9h1.1v1.1h-1.1zM447.9,24.3h1.1v1.1h-1.1zM367.3,51.2h1.1v1.1h-1.1zM396.5,43.9h1.1v1.1h-1.1zM402.6,36.6h1.1v1.1h-1.1zM406.0,37.1h1.1v1.1h-1.1zM372.1,42.8h1.1v1.1h-1.1zM431.3,27.3h1.1v1.1h-1.1zM380.0,48.5h1.1v1.1h-1.1zM393.7,37.9h1.1v1.1h-1.1zM363.1,56.1h1.1v1.1h-1.1zM376.6,45.6h1.1v1.1h-1.1zM374.6,47.3h1.1v1.1h-1.1zM436.3,28.0h1.1v1.1h-1.1zM380.4,48.3h1.1v1.1h-1.1zM452.2,28.0h1.1v1.1h-1.1zM455.6,26.7h1.1v1.1h-1.1zM376.7,40.6h1.1v1.1h-1.1zM423.2,33.2h1.1v1.1h-1.1zM393.8,43.2h1.1v1.1h-1.1zM393.4,40.9h1.1v1.1h-1.1zM435.6,27.8h1.1v1.1h-1.1zM427.1,32.5h1.1v1.1h-1.1zM448.9,25.1h1.1v1.1h-1.1zM418.2,34.5h1.1v1.1h-1.1zM465.0,25.5h1.1v1.1h-1.1zM435.5,34.2h1.1v1.1h-1.1zM393.9,38.1h1.1v1.1h-1.1zM366.1,49.4h1.1v1.1h-1.1zM441.4,25.5h1.1v1.1h-1.1zM408.2,37.4h1.1v1.1h-1.1zM461.7,24.6h1.1v1.1h-1.1zM420.0,31.2h1.1v1.1h-1.1zM404.2,30.4h1.1v1.1h-1.1zM398.7,39.5h1.1v1.1h-1.1zM405.5,38.3h1.1v1.1h-1.1zM407.6,33.0h1.1v1.1h-1.1zM410.0,36.4h1.1v1.1h-1.1zM439.3,24.9h1.1v1.1h-1.1zM397.2,43.4h1.1v1.1h-1.1zM415.2,34.2h1.1v1.1h-1.1zM443.2,27.2h1.1v1.1h-1.1zM378.4,43.9h1.1v1.1h-1.1zM366.6,52.8h1.1v1.1h-1.1zM367.3,50.1h1.1v1.1h-1.1zM441.0,26.8h1.1v1.1h-1.1zM431.4,28.9h1.1v1.1h-1.1zM435.4,27.7h1.1v1.1h-1.1zM432.7,29.1h1.1v1.1h-1.1zM399.0,27.9h1.1v1.1h-1.1zM449.8,22.8h1.1v1.1h-1.1zM457.5,26.0h1.1v1.1h-1.1zM410.8,36.3h1.1v1.1h-1.1zM362.6,56.0h1.1v1.1h-1.1zM382.4,43.9h1.1v1.1h-1.1zM387.6,41.7h1.1v1.1h-1.1zM415.4,38.6h1.1v1.1h-1.1zM409.9,33.6h1.1v1.1h-1.1zM386.7,42.8h1.1v1.1h-1.1zM456.7,26.3h1.1v1.1h-1.1zM381.9,37.3h1.1v1.1h-1.1zM376.7,51.3h1.1v1.1h-1.1zM394.1,41.0h1.1v1.1h-1.1zM404.4,32.0h1.1v1.1h-1.1zM393.2,40.2h1.1v1.1h-1.1zM447.6,27.7h1.1v1.1h-1.1zM415.4,39.1h1.1v1.1h-1.1zM364.9,51.1h1.1v1.1h-1.1zM398.0,42.0h1.1v1.1h-1.1zM416.5,31.7h1.1v1.1h-1.1zM446.9,27.9h1.1v1.1h-1.1zM385.4,41.2h1.1v1.1h-1.1zM419.9,27.1h1.1v1.1h-1.1zM403.2,39.7h1.1v1.1h-1.1zM458.3,24.3h1.1v1.1h-1.1zM365.3,47.9h1.1v1.1h-1.1zM364.7,55.0h1.1v1.1h-1.1zM456.2,27.3h1.1v1.1h-1.1zM374.7,50.1h1.1v1.1h-1.1zM464.7,21.8h1.1v1.1h-1.1zM408.4,32.8h1.1v1.1h-1.1zM430.4,28.5h1.1v1.1h-1.1zM377.5,43.4h1.1v1.1h-1.1zM452.7,28.2h1.1v1.1h-1.1zM377.1,53.3h1.1v1.1h-1.1zM368.3,57.1h1.1v1.1h-1.1zM468.8,25.0h1.1v1.1h-1.1zM398.6,36.7h1.1v1.1h-1.1zM462.3,23.5h1.1v1.1h-1.1zM432.0,29.6h1.1v1.1h-1.1zM433.3,29.5h1.1v1.1h-1.1zM364.3,54.7h1.1v1.1h-1.1zM379.6,42.6h1.1v1.1h-1.1zM418.7,30.7h1.1v1.1h-1.1zM372.5,53.7h1.1v1.1h-1.1zM463.2,23.1h1.1v1.1h-1.1zM372.3,56.0h1.1v1.1h-1.1zM447.3,28.4h1.1v1.1h-1.1zM363.8,53.0h1.1v1.1h-1.1zM394.8,37.9h1.1v1.1h-1.1zM414.1,31.7h1.1v1.1h-1.1zM367.7,45.4h1.1v1.1h-1.1zM400.4,38.6h1.1v1.1h-1.1zM431.1,32.7h1.1v1.1h-1.1zM369.9,55.5h1.1v1.1h-1.1zM464.8,27.6h1.1v1.1h-1.1zM411.8,33.8h1.1v1.1h-1.1zM385.3,39.4h1.1v1.1h-1.1zM408.2,39.0h1.1v1.1h-1.1zM465.8,25.4h1.1v1.1h-1.1zM456.4,26.3h1.1v1.1h-1.1zM420.6,30.5h1.1v1.1h-1.1zM371.3,49.3h1.1v1.1h-1.1zM383.3,49.3h1.1v1.1h-1.1zM379.0,41.0h1.1v1.1h-1.1zM465.0,26.1h1.1v1.1h-1.1zM471.2,23.7h1.1v1.1h-1.1zM390.9,45.5h1.1v1.1h-1.1zM364.8,51.1h1.1v1.1h-1.1zM389.7,38.6h1.1v1.1h-1.1zM439.6,28.3h1.1v1.1h-1.1zM374.6,48.7h1.1v1.1h-1.1zM366.0,49.3h1.1v1.1h-1.1zM415.8,35.9h1.1v1.1h-1.1zM445.8,28.1h1.1v1.1h-1.1zM420.4,31.0h1.1v1.1h-1.1zM410.2,34.5h1.1v1.1h-1.1zM368.0,50.2h1.1v1.1h-1.1zM418.2,31.1h1.1v1.1h-1.1zM391.8,36.8h1.1v1.1h-1.1zM373.3,52.8h1.1v1.1h-1.1zM373.8,51.6h1.1v1.1h-1.1zM453.3,25.1h1.1v1.1h-1.1zM457.7,24.2h1.1v1.1h-1.1zM367.7,51.8h1.1v1.1h-1.1zM458.5,26.4h1.1v1.1h-1.1zM413.0,35.9h1.1v1.1h-1.1zM369.5,48.3h1.1v1.1h-1.1zM412.9,34.0h1.1v1.1h-1.1zM409.4,33.2h1.1v1.1h-1.1zM397.4,40.1h1.1v1.1h-1.1zM376.8,48.7h1.1v1.1h-1.1zM457.4,26.0h1.1v1.1h-1.1zM408.8,35.1h1.1v1.1h-1.1zM467.7,23.6h1.1v1.1h-1.1zM407.2,36.2h1.1v1.1h-1.1zM432.4,26.0h1.1v1.1h-1.1zM379.2,45.5h1.1v1.1h-1.1zM382.6,41.9h1.1v1.1h-1.1zM363.7,50.4h1.1v1.1h-1.1zM385.4,45.6h1.1v1.1h-1.1zM460.1,26.6h1.1v1.1h-1.1zM379.7,47.8h1.1v1.1h-1.1zM420.3,32.6h1.1v1.1h-1.1zM365.6,46.9h1.1v1.1h-1.1zM380.8,36.1h1.1v1.1h-1.1zM364.3,47.4h1.1v1.1h-1.1zM423.2,29.2h1.1v1.1h-1.1zM390.6,34.8h1.1v1.1h-1.1zM448.9,22.1h1.1v1.1h-1.1zM362.8,55.4h1.1v1.1h-1.1zM467.3,22.7h1.1v1.1h-1.1zM367.3,53.8h1.1v1.1h-1.1zM380.7,44.3h1.1v1.1h-1.1zM372.2,43.2h1.1v1.1h-1.1zM390.9,42.2h1.1v1.1h-1.1zM378.3,47.8h1.1v1.1h-1.1zM389.5,53.2h1.1v1.1h-1.1zM446.3,25.5h1.1v1.1h-1.1zM406.2,30.2h1.1v1.1h-1.1zM462.6,24.5h1.1v1.1h-1.1zM440.8,26.6h1.1v1.1h-1.1zM424.1,29.4h1.1v1.1h-1.1zM453.8,25.8h1.1v1.1h-1.1zM436.2,27.4h1.1v1.1h-1.1zM391.4,45.3h1.1v1.1h-1.1zM430.3,34.9h1.1v1.1h-1.1zM440.0,30.4h1.1v1.1h-1.1zM466.8,25.9h1.1v1.1h-1.1zM462.2,24.4h1.1v1.1h-1.1zM447.7,22.7h1.1v1.1h-1.1zM419.7,27.2h1.1v1.1h-1.1zM445.3,28.2h1.1v1.1h-1.1zM457.3,23.9h1.1v1.1h-1.1zM412.4,40.9h1.1v1.1h-1.1zM468.1,26.4h1.1v1.1h-1.1zM445.7,30.1h1.1v1.1h-1.1zM381.4,46.0h1.1v1.1h-1.1zM376.3,44.5h1.1v1.1h-1.1zM403.6,36.7h1.1v1.1h-1.1zM462.6,26.2h1.1v1.1h-1.1zM431.9,28.5h1.1v1.1h-1.1zM445.2,24.8h1.1v1.1h-1.1zM446.5,24.6h1.1v1.1h-1.1zM451.0,21.9h1.1v1.1h-1.1zM397.7,42.5h1.1v1.1h-1.1zM452.5,27.1h1.1v1.1h-1.1zM390.4,35.3h1.1v1.1h-1.1zM446.4,24.4h1.1v1.1h-1.1zM362.6,53.7h1.1v1.1h-1.1zM369.0,51.1h1.1v1.1h-1.1zM449.1,23.9h1.1v1.1h-1.1zM403.6,38.5h1.1v1.1h-1.1zM389.9,41.8h1.1v1.1h-1.1zM453.6,27.2h1.1v1.1h-1.1zM423.4,30.6h1.1v1.1h-1.1zM383.3,45.3h1.1v1.1h-1.1zM434.0,25.5h1.1v1.1h-1.1zM448.4,27.3h1.1v1.1h-1.1zM369.8,50.1h1.1v1.1h-1.1zM450.6,25.5h1.1v1.1h-1.1zM375.1,46.3h1.1v1.1h-1.1zM392.8,48.6h1.1v1.1h-1.1zM378.7,49.7h1.1v1.1h-1.1zM460.6,23.3h1.1v1.1h-1.1zM396.4,30.5h1.1v1.1h-1.1zM409.4,34.6h1.1v1.1h-1.1zM474.3,23.9h1.1v1.1h-1.1zM373.2,55.6h1.1v1.1h-1.1zM411.9,35.7h1.1v1.1h-1.1zM468.0,23.8h1.1v1.1h-1.1zM403.2,37.4h1.1v1.1h-1.1zM391.7,37.9h1.1v1.1h-1.1zM368.3,43.8h1.1v1.1h-1.1zM410.3,32.4h1.1v1.1h-1.1zM394.4,46.0h1.1v1.1h-1.1zM429.5,27.3h1.1v1.1h-1.1zM366.5,49.2h1.1v1.1h-1.1zM469.8,22.5h1.1v1.1h-1.1zM392.8,37.5h1.1v1.1h-1.1zM394.3,35.5h1.1v1.1h-1.1zM411.3,31.2h1.1v1.1h-1.1zM408.4,28.9h1.1v1.1h-1.1zM393.0,41.1h1.1v1.1h-1.1zM452.3,25.7h1.1v1.1h-1.1zM431.7,26.7h1.1v1.1h-1.1zM440.7,26.7h1.1v1.1h-1.1zM460.2,24.4h1.1v1.1h-1.1zM364.0,47.7h1.1v1.1h-1.1zM388.9,47.1h1.1v1.1h-1.1zM460.2,27.7h1.1v1.1h-1.1zM371.7,45.0h1.1v1.1h-1.1zM364.6,50.6h1.1v1.1h-1.1zM396.1,38.8h1.1v1.1h-1.1zM384.3,38.0h1.1v1.1h-1.1zM442.3,26.6h1.1v1.1h-1.1zM399.3,41.8h1.1v1.1h-1.1zM472.8,22.1h1.1v1.1h-1.1zM430.8,25.8h1.1v1.1h-1.1zM394.8,44.5h1.1v1.1h-1.1zM432.7,28.1h1.1v1.1h-1.1zM383.9,46.0h1.1v1.1h-1.1zM451.0,28.0h1.1v1.1h-1.1zM446.5,25.9h1.1v1.1h-1.1zM410.5,35.6h1.1v1.1h-1.1zM458.3,26.4h1.1v1.1h-1.1zM373.9,53.8h1.1v1.1h-1.1zM387.5,44.8h1.1v1.1h-1.1zM395.1,40.2h1.1v1.1h-1.1zM471.1,24.2h1.1v1.1h-1.1zM387.2,41.5h1.1v1.1h-1.1zM467.8,24.2h1.1v1.1h-1.1zM401.3,39.8h1.1v1.1h-1.1zM368.8,50.8h1.1v1.1h-1.1zM395.4,42.5h1.1v1.1h-1.1zM470.7,23.4h1.1v1.1h-1.1zM462.7,25.5h1.1v1.1h-1.1zM402.7,39.0h1.1v1.1h-1.1zM444.5,24.4h1.1v1.1h-1.1zM454.1,26.6h1.0v1.0h-1.0zM462.3,26.1h1.0v1.0h-1.0zM467.9,22.2h1.0v1.0h-1.0zM452.4,23.2h1.0v1.0h-1.0zM456.4,26.4h1.0v1.0h-1.0zM452.9,24.4h1.0v1.0h-1.0zM472.7,22.7h1.0v1.0h-1.0zM445.4,28.9h1.0v1.0h-1.0zM487.8,20.5h1.0v1.0h-1.0zM497.5,20.7h1.0v1.0h-1.0zM452.0,25.5h1.0v1.0h-1.0zM467.2,24.0h1.0v1.0h-1.0zM481.9,21.5h1.0v1.0h-1.0zM486.2,20.5h1.0v1.0h-1.0zM446.7,25.4h1.0v1.0h-1.0zM500.0,23.1h1.0v1.0h-1.0zM473.0,22.0h1.0v1.0h-1.0zM458.1,22.2h1.0v1.0h-1.0zM497.6,21.2h1.0v1.0h-1.0zM458.0,23.3h1.0v1.0h-1.0zM486.1,21.3h1.0v1.0h-1.0zM491.6,22.3h1.0v1.0h-1.0zM466.1,21.4h1.0v1.0h-1.0zM494.1,21.1h1.0v1.0h-1.0zM447.3,25.7h1.0v1.0h-1.0zM459.1,25.0h1.0v1.0h-1.0zM464.3,25.2h1.0v1.0h-1.0zM469.1,21.4h1.0v1.0h-1.0zM458.6,23.5h1.0v1.0h-1.0zM489.3,21.1h1.0v1.0h-1.0zM484.7,22.5h1.0v1.0h-1.0zM475.7,21.9h1.0v1.0h-1.0zM481.9,19.0h1.0v1.0h-1.0zM493.9,21.4h1.0v1.0h-1.0zM481.1,23.2h1.0v1.0h-1.0zM492.2,19.5h1.0v1.0h-1.0zM447.3,25.4h1.0v1.0h-1.0zM471.5,20.7h1.0v1.0h-1.0zM452.4,27.2h1.0v1.0h-1.0zM487.6,22.6h1.0v1.0h-1.0zM452.3,25.6h1.0v1.0h-1.0zM446.3,27.2h1.0v1.0h-1.0zM476.0,25.3h1.0v1.0h-1.0zM456.3,24.4h1.0v1.0h-1.0zM477.7,25.1h1.0v1.0h-1.0zM454.6,26.3h1.0v1.0h-1.0zM445.0,25.8h1.0v1.0h-1.0zM452.4,24.8h1.0v1.0h-1.0zM445.6,24.5h1.0v1.0h-1.0zM486.2,22.5h1.0v1.0h-1.0zM445.3,26.7h1.0v1.0h-1.0zM450.3,25.0h1.0v1.0h-1.0zM472.7,22.2h1.0v1.0h-1.0zM468.5,24.4h1.0v1.0h-1.0zM450.1,26.0h1.0v1.0h-1.0zM488.8,20.7h1.0v1.0h-1.0zM486.3,21.5h1.0v1.0h-1.0zM483.8,22.0h1.0v1.0h-1.0zM445.2,24.8h1.0v1.0h-1.0zM445.7,26.2h1.0v1.0h-1.0zM472.7,22.6h1.0v1.0h-1.0zM458.4,22.6h1.0v1.0h-1.0zM464.9,22.8h1.0v1.0h-1.0zM491.2,21.0h1.0v1.0h-1.0zM502.6,22.2h1.0v1.0h-1.0zM454.8,21.5h1.0v1.0h-1.0zM501.7,22.6h1.0v1.0h-1.0zM447.3,26.8h1.0v1.0h-1.0zM461.4,23.2h1.0v1.0h-1.0zM461.4,22.1h1.0v1.0h-1.0zM455.4,25.5h1.0v1.0h-1.0zM452.7,26.8h1.0v1.0h-1.0zM449.2,25.6h1.0v1.0h-1.0zM460.5,22.5h1.0v1.0h-1.0zM449.3,25.5h1.0v1.0h-1.0zM452.0,24.5h1.0v1.0h-1.0zM468.0,22.1h1.0v1.0h-1.0zM481.4,18.4h1.0v1.0h-1.0zM498.3,23.3h1.0v1.0h-1.0zM479.3,21.2h1.0v1.0h-1.0zM445.7,26.3h1.0v1.0h-1.0zM490.9,21.8h1.0v1.0h-1.0zM479.4,21.6h1.0v1.0h-1.0zM456.1,24.0h1.0v1.0h-1.0zM448.2,22.8h1.0v1.0h-1.0zM453.7,21.8h1.0v1.0h-1.0zM445.4,26.9h1.0v1.0h-1.0zM493.9,22.7h1.0v1.0h-1.0zM486.0,21.2h1.0v1.0h-1.0zM446.6,26.3h1.0v1.0h-1.0zM447.9,26.2h1.0v1.0h-1.0zM502.1,19.3h1.0v1.0h-1.0zM495.0,21.8h1.0v1.0h-1.0zM487.4,20.2h1.0v1.0h-1.0zM447.2,27.5h1.0v1.0h-1.0zM386.7,43.3h0.9v0.9h-0.9zM445.8,44.8h0.9v0.9h-0.9zM448.4,18.4h0.9v0.9h-0.9zM377.8,51.6h0.9v0.9h-0.9zM406.7,48.6h0.9v0.9h-0.9zM416.7,46.8h0.9v0.9h-0.9zM370.4,47.2h0.9v0.9h-0.9zM419.2,30.2h0.9v0.9h-0.9zM468.9,22.4h0.9v0.9h-0.9zM376.9,49.8h0.9v0.9h-0.9zM437.1,27.3h0.9v0.9h-0.9zM447.5,34.3h0.9v0.9h-0.9zM441.4,27.3h0.9v0.9h-0.9zM443.7,24.5h0.9v0.9h-0.9zM432.7,34.4h0.9v0.9h-0.9zM389.0,33.4h0.9v0.9h-0.9zM436.8,29.2h0.9v0.9h-0.9zM477.2,24.6h0.9v0.9h-0.9zM390.4,46.0h0.9v0.9h-0.9zM380.1,57.0h0.9v0.9h-0.9zM476.8,22.9h0.9v0.9h-0.9zM381.2,42.6h0.9v0.9h-0.9zM467.0,25.3h0.9v0.9h-0.9zM427.6,34.2h0.9v0.9h-0.9zM432.2,30.9h0.9v0.9h-0.9zM426.4,29.5h0.9v0.9h-0.9zM449.9,39.2h0.9v0.9h-0.9zM416.0,40.6h0.9v0.9h-0.9zM412.6,48.4h0.9v0.9h-0.9zM403.6,46.1h0.9v0.9h-0.9zM462.1,30.5h0.9v0.9h-0.9zM452.0,32.1h0.9v0.9h-0.9zM452.7,29.3h0.9v0.9h-0.9zM443.7,21.6h0.9v0.9h-0.9zM410.1,28.2h0.9v0.9h-0.9zM448.5,31.4h0.9v0.9h-0.9zM446.6,37.2h0.9v0.9h-0.9zM412.8,37.6h0.9v0.9h-0.9zM414.1,33.0h0.9v0.9h-0.9zM403.1,36.2h0.9v0.9h-0.9zM460.7,36.6h0.9v0.9h-0.9zM391.5,40.4h0.9v0.9h-0.9zM466.6,30.0h0.9v0.9h-0.9zM453.4,35.5h0.9v0.9h-0.9zM374.4,51.6h0.9v0.9h-0.9zM405.3,20.4h0.9v0.9h-0.9zM424.6,26.9h0.9v0.9h-0.9zM410.1,43.9h0.9v0.9h-0.9zM372.6,51.3h0.9v0.9h-0.9zM363.6,53.9h0.9v0.9h-0.9zM382.8,35.8h0.9v0.9h-0.9zM450.0,27.2h0.9v0.9h-0.9zM365.3,52.1h0.9v0.9h-0.9zM475.8,18.7h0.9v0.9h-0.9zM432.5,28.1h0.9v0.9h-0.9zM369.9,57.6h0.9v0.9h-0.9zM375.3,31.3h0.9v0.9h-0.9zM394.3,41.0h0.9v0.9h-0.9zM397.8,31.0h0.9v0.9h-0.9zM447.9,39.8h0.9v0.9h-0.9zM460.2,37.7h0.9v0.9h-0.9zM462.9,28.6h0.9v0.9h-0.9zM363.2,60.0h0.9v0.9h-0.9zM439.8,20.5h0.9v0.9h-0.9zM379.0,61.8h0.9v0.9h-0.9zM439.0,24.7h0.9v0.9h-0.9zM363.7,56.6h0.9v0.9h-0.9zM404.9,36.3h0.9v0.9h-0.9zM391.7,36.1h0.9v0.9h-0.9zM391.3,43.1h0.9v0.9h-0.9zM452.2,27.5h0.9v0.9h-0.9zM407.3,30.0h0.9v0.9h-0.9zM464.6,34.3h0.9v0.9h-0.9zM389.7,49.0h0.9v0.9h-0.9zM416.3,33.1h0.9v0.9h-0.9zM418.6,35.3h0.9v0.9h-0.9zM376.0,53.7h0.9v0.9h-0.9zM472.5,22.0h0.9v0.9h-0.9zM463.2,37.4h0.9v0.9h-0.9zM390.3,48.1h0.9v0.9h-0.9zM371.8,49.0h0.9v0.9h-0.9zM448.3,33.7h0.9v0.9h-0.9zM386.2,40.3h0.9v0.9h-0.9zM478.1,19.8h0.9v0.9h-0.9zM439.1,27.4h0.9v0.9h-0.9zM449.4,22.5h0.9v0.9h-0.9zM433.4,27.7h0.9v0.9h-0.9zM473.6,23.5h0.9v0.9h-0.9zM468.5,26.6h0.9v0.9h-0.9zM468.4,28.7h0.9v0.9h-0.9zM413.8,37.1h0.9v0.9h-0.9zM430.8,36.4h0.9v0.9h-0.9zM363.5,59.1h0.9v0.9h-0.9zM422.4,39.4h0.9v0.9h-0.9zM435.3,32.1h0.9v0.9h-0.9zM480.0,19.3h0.9v0.9h-0.9zM400.0,33.6h0.9v0.9h-0.9zM364.7,51.2h0.9v0.9h-0.9zM362.0,51.6h0.9v0.9h-0.9zM428.3,29.9h0.9v0.9h-0.9zM376.2,51.6h0.9v0.9h-0.9zM423.6,20.1h0.9v0.9h-0.9zM389.6,46.4h0.9v0.9h-0.9zM410.3,42.6h0.9v0.9h-0.9zM474.9,22.3h0.9v0.9h-0.9zM368.1,55.0h0.9v0.9h-0.9zM396.2,35.8h0.9v0.9h-0.9zM411.6,22.6h0.9v0.9h-0.9zM439.1,25.6h0.9v0.9h-0.9zM439.7,18.7h0.9v0.9h-0.9zM475.6,25.0h0.9v0.9h-0.9zM429.3,34.8h0.9v0.9h-0.9zM389.9,36.7h0.9v0.9h-0.9zM370.7,50.6h0.9v0.9h-0.9zM441.3,28.7h0.9v0.9h-0.9zM442.0,25.9h0.9v0.9h-0.9zM475.1,25.2h0.9v0.9h-0.9zM388.0,113.1h1.4v1.4h-1.4zM387.4,140.3h1.4v1.4h-1.4zM392.8,94.9h1.4v1.4h-1.4zM388.7,109.8h1.4v1.4h-1.4zM384.8,108.6h1.4v1.4h-1.4zM381.3,119.1h1.4v1.4h-1.4zM380.6,77.9h1.4v1.4h-1.4zM369.0,96.5h1.4v1.4h-1.4zM370.3,116.8h1.4v1.4h-1.4zM387.7,131.4h1.4v1.4h-1.4zM385.9,133.9h1.4v1.4h-1.4zM375.6,120.0h1.4v1.4h-1.4zM369.1,118.7h1.4v1.4h-1.4zM377.8,110.3h1.4v1.4h-1.4zM394.8,85.5h1.4v1.4h-1.4zM369.2,123.2h1.4v1.4h-1.4zM380.4,85.5h1.4v1.4h-1.4zM376.0,108.2h1.4v1.4h-1.4zM379.2,108.6h1.4v1.4h-1.4zM378.3,110.5h1.4v1.4h-1.4zM379.5,145.4h1.4v1.4h-1.4zM385.2,96.0h1.4v1.4h-1.4zM378.0,94.1h1.4v1.4h-1.4zM381.9,116.7h1.4v1.4h-1.4zM381.5,126.6h1.4v1.4h-1.4zM372.7,115.3h1.4v1.4h-1.4zM365.7,99.5h1.4v1.4h-1.4zM397.1,104.5h1.4v1.4h-1.4zM378.0,122.1h1.4v1.4h-1.4zM387.9,112.5h1.4v1.4h-1.4zM394.1,111.1h1.4v1.4h-1.4zM376.1,101.9h1.4v1.4h-1.4zM364.2,111.8h1.4v1.4h-1.4zM385.9,101.5h1.4v1.4h-1.4zM377.2,116.0h1.4v1.4h-1.4zM386.6,109.7h1.4v1.4h-1.4zM385.6,92.6h1.4v1.4h-1.4zM376.9,107.3h1.4v1.4h-1.4zM373.1,103.6h1.4v1.4h-1.4zM368.1,117.3h1.4v1.4h-1.4zM375.7,100.7h1.4v1.4h-1.4zM384.0,112.8h1.4v1.4h-1.4zM393.4,120.1h1.4v1.4h-1.4zM375.1,104.2h1.4v1.4h-1.4zM385.9,108.1h1.4v1.4h-1.4zM376.7,126.2h1.4v1.4h-1.4zM382.1,129.2h1.4v1.4h-1.4zM372.4,111.4h1.4v1.4h-1.4zM383.1,90.8h1.4v1.4h-1.4zM389.2,83.5h1.4v1.4h-1.4zM376.3,113.5h1.4v1.4h-1.4zM385.4,108.6h1.4v1.4h-1.4zM391.6,111.3h1.4v1.4h-1.4zM380.9,110.8h1.4v1.4h-1.4zM370.9,76.5h1.4v1.4h-1.4zM374.2,122.1h1.4v1.4h-1.4zM384.7,101.1h1.4v1.4h-1.4zM384.6,115.6h1.4v1.4h-1.4zM376.6,88.6h1.4v1.4h-1.4zM382.0,109.1h1.4v1.4h-1.4zM364.4,103.1h1.4v1.4h-1.4zM381.3,113.7h1.4v1.4h-1.4zM378.4,102.9h1.4v1.4h-1.4zM382.0,117.1h1.4v1.4h-1.4zM381.2,81.2h1.4v1.4h-1.4zM383.6,110.5h1.4v1.4h-1.4zM370.1,105.0h1.4v1.4h-1.4zM401.7,117.6h1.4v1.4h-1.4zM383.4,107.1h1.4v1.4h-1.4zM373.6,128.7h1.4v1.4h-1.4zM375.9,105.0h1.4v1.4h-1.4zM365.5,115.8h1.4v1.4h-1.4zM383.1,115.9h1.4v1.4h-1.4zM371.9,109.2h1.4v1.4h-1.4zM392.4,105.0h1.4v1.4h-1.4zM383.7,108.5h1.4v1.4h-1.4zM387.2,122.0h1.4v1.4h-1.4zM363.7,107.1h1.4v1.4h-1.4zM372.2,123.8h1.3v1.3h-1.3zM375.5,97.3h1.3v1.3h-1.3zM366.5,82.6h1.3v1.3h-1.3zM364.1,105.9h1.3v1.3h-1.3zM374.2,92.4h1.3v1.3h-1.3zM367.9,117.8h1.3v1.3h-1.3zM376.5,91.5h1.3v1.3h-1.3zM371.7,105.3h1.3v1.3h-1.3zM374.3,74.6h1.3v1.3h-1.3zM375.1,116.2h1.3v1.3h-1.3zM373.5,89.1h1.3v1.3h-1.3zM368.3,78.0h1.3v1.3h-1.3zM375.4,99.6h1.3v1.3h-1.3zM365.7,103.5h1.3v1.3h-1.3zM362.6,92.9h1.3v1.3h-1.3zM366.1,97.7h1.3v1.3h-1.3zM369.4,105.2h1.3v1.3h-1.3zM367.7,106.7h1.3v1.3h-1.3zM367.4,101.2h1.3v1.3h-1.3zM360.9,109.3h1.3v1.3h-1.3zM364.4,95.7h1.3v1.3h-1.3zM365.2,88.6h1.3v1.3h-1.3zM366.0,104.1h1.3v1.3h-1.3zM365.0,91.1h1.3v1.3h-1.3zM378.3,109.0h1.3v1.3h-1.3zM369.7,101.7h1.3v1.3h-1.3zM367.6,90.9h1.3v1.3h-1.3zM363.1,87.6h1.3v1.3h-1.3zM366.3,101.7h1.3v1.3h-1.3zM361.6,119.6h1.3v1.3h-1.3zM363.0,110.7h1.3v1.3h-1.3zM375.8,125.0h1.3v1.3h-1.3zM373.9,99.9h1.3v1.3h-1.3zM361.8,83.5h1.3v1.3h-1.3zM396.2,118.7h1.3v1.3h-1.3zM384.5,103.8h1.3v1.3h-1.3zM382.7,98.2h1.3v1.3h-1.3zM360.4,105.9h1.3v1.3h-1.3zM382.3,99.3h1.3v1.3h-1.3zM384.5,88.7h1.3v1.3h-1.3zM365.8,129.5h1.3v1.3h-1.3zM374.4,137.4h1.3v1.3h-1.3zM385.1,82.0h1.3v1.3h-1.3zM409.2,83.2h1.3v1.3h-1.3zM401.7,116.8h1.3v1.3h-1.3zM398.7,94.3h1.3v1.3h-1.3zM370.9,142.3h1.3v1.3h-1.3zM390.7,81.2h1.3v1.3h-1.3zM373.8,86.5h1.3v1.3h-1.3zM393.4,102.5h1.3v1.3h-1.3zM379.4,100.5h1.3v1.3h-1.3zM365.9,106.9h1.3v1.3h-1.3zM370.2,100.6h1.3v1.3h-1.3zM372.4,113.2h1.3v1.3h-1.3zM406.6,118.9h1.3v1.3h-1.3zM400.4,110.6h1.3v1.3h-1.3zM366.4,96.0h1.3v1.3h-1.3zM388.4,126.3h1.3v1.3h-1.3zM374.5,111.1h1.3v1.3h-1.3zM376.8,116.9h1.3v1.3h-1.3zM368.6,129.3h1.3v1.3h-1.3zM378.6,86.5h1.3v1.3h-1.3zM411.5,91.7h1.3v1.3h-1.3zM362.7,117.5h1.3v1.3h-1.3zM389.6,88.9h1.3v1.3h-1.3zM378.6,133.9h1.3v1.3h-1.3zM390.4,64.5h1.3v1.3h-1.3zM386.6,60.0h1.3v1.3h-1.3zM383.8,58.5h1.3v1.3h-1.3zM371.5,65.8h1.3v1.3h-1.3zM389.1,58.4h1.3v1.3h-1.3zM394.6,62.6h1.3v1.3h-1.3zM364.7,64.4h1.3v1.3h-1.3zM365.6,65.3h1.3v1.3h-1.3zM370.9,63.9h1.3v1.3h-1.3zM379.5,63.9h1.3v1.3h-1.3zM371.6,60.5h1.3v1.3h-1.3zM397.9,61.1h1.3v1.3h-1.3zM389.2,61.3h1.3v1.3h-1.3zM396.2,61.5h1.3v1.3h-1.3zM366.8,63.5h1.3v1.3h-1.3zM381.2,64.0h1.3v1.3h-1.3zM375.2,59.4h1.3v1.3h-1.3zM378.9,57.8h1.3v1.3h-1.3zM362.8,61.4h1.3v1.3h-1.3zM388.1,60.3h1.3v1.3h-1.3zM366.5,64.7h1.3v1.3h-1.3zM379.8,60.2h1.3v1.3h-1.3zM449.3,123.3h1.3v1.3h-1.3zM423.0,136.1h1.3v1.3h-1.3zM480.2,106.9h1.3v1.3h-1.3zM446.1,50.4h1.3v1.3h-1.3zM470.9,118.9h1.3v1.3h-1.3zM485.6,142.0h1.3v1.3h-1.3zM471.1,98.7h1.3v1.3h-1.3zM414.3,89.8h1.3v1.3h-1.3zM438.2,98.7h1.3v1.3h-1.3zM416.9,133.9h1.3v1.3h-1.3zM502.1,54.9h1.3v1.3h-1.3zM440.0,98.0h1.3v1.3h-1.3zM421.3,53.1h1.3v1.3h-1.3zM458.6,140.5h1.3v1.3h-1.3zM498.7,107.2h1.3v1.3h-1.3zM469.7,78.2h1.3v1.3h-1.3zM500.8,65.9h1.3v1.3h-1.3zM401.0,98.6h1.3v1.3h-1.3zM412.3,128.7h1.3v1.3h-1.3zM496.4,145.2h1.3v1.3h-1.3zM400.2,45.2h1.3v1.3h-1.3zM432.6,100.3h1.3v1.3h-1.3zM493.9,102.5h1.3v1.3h-1.3z" fill="#555"/>
<path d="M397,67.4 L507,66.4" fill="none" stroke="#555" stroke-width="1"/>
<path d="M354.3,19.2 L356.2,22.6 L360.6,39.5 V67.4 H397" fill="none" stroke="#333" stroke-width="1.0" stroke-linejoin="round"/>
<rect x="505.6" y="60.2" width="2.2" height="6.4" fill="#000"/>
<text x="430.6" y="52.3" font-size="9" font-weight="normal" text-anchor="start" fill="#222" stroke="#222" stroke-width="0.3">R1</text>
<text x="427.5" y="161.6" font-size="8.6" font-weight="bold" text-anchor="middle" fill="#111" >SSC</text>
<text transform="translate(346.3,82.2) rotate(-90)" font-size="8.6" font-weight="bold" text-anchor="middle" fill="#111">DiD</text>
</g>
<g id="panelC">
<text x="4.2" y="199.4" font-size="25" font-weight="bold" fill="#000" stroke="#000" stroke-width="0.8">C</text>
<g id="hist1">
<clipPath id="clip1"><rect x="12.8" y="210" width="163.5" height="133.8"/></clipPath>
<g clip-path="url(#clip1)">
<polygon points="22.7,343.2 22.7,327.0 23.6,325.3 24.6,326.3 25.5,325.4 26.5,323.4 27.4,323.1 28.4,321.1 29.3,320.3 30.3,319.6 31.2,319.9 32.1,317.7 33.0,319.0 33.9,315.4 34.7,314.9 35.6,313.7 36.5,315.0 37.4,312.8 38.3,312.2 39.1,310.9 40.0,311.0 40.9,309.3 41.8,307.7 42.4,307.5 43.0,305.9 43.6,304.1 44.2,305.8 44.7,304.2 45.3,303.1 45.9,303.0 46.5,299.9 47.1,298.7 47.7,297.8 48.3,296.7 48.9,296.8 49.5,292.7 50.0,293.8 50.6,293.1 51.2,291.1 51.8,288.4 52.4,290.7 52.9,286.1 53.3,287.8 53.8,284.6 54.2,282.8 54.7,282.4 55.2,280.7 55.6,280.0 56.1,281.9 56.5,281.0 57.0,277.9 57.5,278.4 57.9,276.3 58.4,275.3 58.9,276.3 59.3,272.1 59.8,274.1 60.2,272.0 60.7,270.8 61.2,266.0 61.6,265.3 62.1,263.9 62.5,264.6 63.0,266.8 63.3,265.2 63.6,263.8 63.9,258.7 64.2,260.7 64.6,259.9 64.9,258.9 65.2,257.7 65.5,252.9 65.8,251.9 66.1,254.1 66.4,252.7 66.7,252.3 67.0,248.7 67.4,250.0 67.7,244.7 68.0,248.0 68.3,246.4 68.6,242.2 68.9,239.5 69.2,241.0 69.5,240.6 69.8,237.6 70.2,234.8 70.5,234.8 70.8,236.6 71.1,231.4 71.4,234.9 71.8,230.0 72.2,228.6 72.7,227.0 73.1,230.6 73.5,229.0 73.9,224.7 74.3,222.3 74.7,224.3 75.2,224.4 75.6,218.5 76.0,220.7 76.6,220.9 77.1,217.6 77.7,217.1 78.2,217.3 78.8,213.1 79.6,214.1 80.4,217.0 81.2,217.3 81.9,218.0 82.7,217.8 83.5,221.9 83.9,219.4 84.4,222.6 84.8,224.9 85.2,223.2 85.7,222.4 86.1,224.3 86.6,224.6 87.0,226.1 87.4,227.1 87.8,229.5 88.1,230.8 88.5,232.4 88.9,234.7 89.2,236.0 89.6,237.2 90.0,236.6 90.4,239.4 90.8,239.9 91.1,238.8 91.5,242.3 91.8,242.2 92.1,245.3 92.4,246.8 92.7,245.2 93.0,247.5 93.2,248.8 93.5,249.0 93.8,248.8 94.1,250.0 94.4,256.4 94.7,256.2 95.0,255.7 95.3,258.1 95.6,257.0 95.9,260.6 96.1,263.1 96.4,263.2 96.7,262.7 97.0,266.7 97.3,267.5 97.6,263.9 97.9,266.9 98.1,268.3 98.4,268.5 98.7,271.5 99.0,270.0 99.3,274.5 99.7,276.3 100.0,273.1 100.4,277.7 100.7,276.5 101.1,279.7 101.4,281.1 101.8,283.9 102.1,284.0 102.5,282.7 102.8,285.9 103.2,284.0 103.5,288.1 103.8,287.8 104.1,288.2 104.4,289.3 104.7,290.4 105.0,294.4 105.2,292.2 105.5,294.1 105.8,295.1 106.1,296.2 106.4,299.9 106.7,300.5 107.0,302.0 107.3,304.1 107.6,303.5 107.8,303.0 108.1,304.9 108.4,307.3 108.7,309.2 109.0,311.1 109.3,310.8 109.6,311.1 109.9,313.5 110.2,315.7 110.6,315.0 110.9,318.0 111.2,319.1 111.5,319.3 111.8,320.2 112.2,320.4 112.5,321.6 112.8,322.6 113.1,325.2 113.4,326.6 113.7,328.4 114.0,328.7 114.4,330.7 114.7,330.6 115.0,331.3 115.6,332.2 116.2,333.7 116.9,335.2 117.5,337.0 118.1,336.9 118.8,337.9 119.4,339.7 120.0,340.3 121.2,340.9 122.3,340.9 123.5,342.2 124.7,342.8 125.8,343.0 127.0,343.2 127.0,343.2" fill="#c6c6c6"/>
<polyline points="22.7,342.9 22.7,341.3 22.7,340.2 22.8,339.5 22.8,337.8 22.8,336.2 22.8,334.8 22.8,333.5 22.8,332.6 22.8,332.0 22.9,330.7 22.9,329.2 22.9,327.9 23.9,326.1 25.0,326.2 26.0,324.4 27.0,324.0 28.1,322.3 29.1,323.0 30.2,320.6 31.2,320.7 32.2,319.9 33.1,319.0 34.1,318.2 35.1,316.6 36.0,316.6 37.0,316.1 37.9,314.4 38.9,314.4 39.9,313.2 40.8,310.3 41.8,310.9 42.5,308.3 43.1,308.6 43.8,306.7 44.4,306.9 45.1,303.4 45.8,304.9 46.4,301.0 47.1,299.9 47.8,298.6 48.4,297.8 49.1,299.3 49.8,297.7 50.4,296.9 51.1,293.2 51.7,293.8 52.4,293.0 52.9,291.6 53.4,288.8 53.9,290.2 54.4,288.1 54.9,286.8 55.5,284.1 56.0,283.3 56.5,283.6 57.0,281.4 57.5,280.1 58.0,280.7 58.5,277.5 58.9,278.0 59.4,273.5 59.9,274.3 60.3,273.8 60.8,269.8 61.2,271.3 61.7,268.4 62.2,268.6 62.6,267.4 63.1,264.2 63.6,266.2 64.0,262.2 64.5,260.5 64.9,260.5 65.2,257.7 65.6,256.5 65.9,257.9 66.3,254.0 66.6,254.5 67.0,254.5 67.4,251.5 67.7,251.7 68.1,250.5 68.4,246.5 68.8,244.9 69.1,246.4 69.5,245.5 69.9,244.2 70.2,242.4 70.6,240.3 71.0,240.8 71.4,238.7 71.8,237.6 72.1,236.9 72.5,232.2 72.9,233.7 73.2,231.8 73.6,228.3 74.0,228.0 74.5,228.6 75.0,226.6 75.5,225.5 76.0,223.1 76.5,223.0 77.0,223.0 77.5,222.2 78.0,219.2 78.8,219.1 79.7,215.7 80.5,215.1 81.1,217.8 81.7,220.0 82.2,218.2 82.8,219.4 83.4,221.9 84.0,222.2 84.5,222.8 85.0,224.1 85.5,226.4 86.0,229.2 86.5,227.9 87.0,231.7 87.5,230.0 88.0,232.0 88.4,234.9 88.8,233.5 89.2,236.0 89.7,236.6 90.1,238.2 90.5,242.0 90.9,240.4 91.3,243.9 91.8,245.9 92.2,244.5 92.6,248.2 93.0,247.3 93.3,250.3 93.7,250.8 94.0,251.1 94.4,254.5 94.7,255.0 95.0,254.7 95.4,256.9 95.7,257.1 96.1,258.3 96.4,262.1 96.7,263.5 97.1,261.5 97.4,265.7 97.8,266.1 98.1,264.6 98.4,266.2 98.8,268.7 99.1,271.8 99.5,273.0 99.8,271.7 100.3,273.7 100.7,276.8 101.2,275.2 101.7,276.0 102.2,278.4 102.6,280.7 103.1,282.7 103.6,283.9 104.1,281.6 104.5,283.5 105.0,284.6 105.4,287.6 105.8,288.2 106.3,291.3 106.7,291.5 107.1,292.7 107.5,294.2 107.9,293.9 108.4,297.4 108.8,298.6 109.2,299.7 109.6,300.8 110.0,300.2 110.5,301.1 110.9,303.3 111.3,305.6 111.7,305.4 112.1,308.4 112.6,309.6 113.0,310.4 113.4,311.0 113.8,311.4 114.2,314.2 114.7,313.9 115.1,315.9 115.5,317.7 115.9,318.6 116.3,319.0 116.7,321.5 117.2,321.6 117.6,323.0 118.0,324.3 118.8,325.8 119.5,325.8 120.2,327.9 121.0,328.7 121.8,330.2 122.5,330.7 123.2,332.0 124.0,333.6 125.0,333.3 126.1,335.0 127.1,335.5 128.1,336.1 129.2,336.9 130.2,337.7 131.3,339.2 132.5,339.4 133.6,340.9 134.7,341.3 135.9,342.0 137.0,343.2" fill="none" stroke="#222" stroke-width="1.2" stroke-dasharray="1.1 2.7"/>
<polyline points="22.7,343.1 22.7,342.0 22.7,340.0 22.8,339.2 22.8,337.2 22.8,336.0 22.8,335.0 22.8,333.5 22.8,332.2 22.9,331.2 22.9,330.2 22.9,328.4 23.9,327.8 25.0,327.5 26.0,325.8 27.0,326.4 28.1,323.9 29.1,323.8 30.2,323.9 31.2,322.0 32.2,321.3 33.1,320.1 34.1,320.9 35.1,319.8 36.0,317.3 37.0,317.4 37.9,315.7 38.9,314.5 39.9,314.1 40.8,314.3 41.8,313.1 42.5,311.4 43.2,311.1 43.9,308.7 44.6,308.3 45.3,306.6 46.0,307.5 46.7,305.2 47.5,305.1 48.2,302.9 48.9,302.1 49.6,301.5 50.3,299.5 51.0,299.3 51.7,298.9 52.4,295.6 52.9,294.8 53.4,292.9 53.9,293.3 54.4,290.7 54.9,290.9 55.4,288.4 56.0,288.5 56.5,286.3 57.0,286.9 57.5,285.9 58.0,285.3 58.5,282.1 59.0,282.6 59.4,281.2 59.9,277.8 60.3,279.1 60.7,277.8 61.2,273.3 61.6,274.4 62.0,272.9 62.5,271.3 62.9,270.4 63.3,267.4 63.8,268.4 64.2,266.7 64.6,263.3 65.1,265.1 65.5,262.9 65.9,259.0 66.3,257.7 66.7,257.0 67.0,257.7 67.4,256.7 67.8,256.3 68.2,254.9 68.6,251.0 69.0,249.7 69.3,248.0 69.7,248.0 70.1,246.9 70.5,245.5 70.9,246.1 71.3,244.1 71.7,243.7 72.1,242.7 72.5,241.2 73.0,239.0 73.4,237.4 73.8,236.7 74.2,235.2 74.6,234.9 75.0,234.4 75.5,232.5 76.0,229.6 76.5,229.7 77.0,228.1 77.5,225.6 78.0,224.3 78.5,224.5 79.0,225.3 79.8,223.4 80.5,220.0 81.2,222.5 82.0,220.9 82.5,221.6 83.0,220.3 83.5,222.7 84.0,223.9 84.5,225.6 85.0,225.3 85.5,228.5 86.0,229.6 86.4,231.0 86.8,231.6 87.3,233.0 87.8,232.5 88.2,236.5 88.7,237.9 89.1,239.0 89.5,239.9 90.0,239.0 90.5,240.4 90.9,240.7 91.4,244.9 91.8,246.4 92.3,248.0 92.8,247.9 93.2,249.9 93.7,251.4 94.1,249.7 94.6,250.8 95.0,255.3 95.5,256.9 96.0,257.1 96.4,257.9 96.9,258.2 97.4,261.2 97.8,260.1 98.3,260.4 98.8,264.6 99.2,262.8 99.7,266.7 100.2,267.6 100.6,266.6 101.1,269.1 101.6,269.7 102.0,273.0 102.5,274.1 103.0,273.6 103.4,274.1 103.9,276.1 104.3,277.8 104.8,279.7 105.2,282.3 105.7,281.0 106.2,281.6 106.6,284.7 107.1,285.2 107.5,287.7 108.0,288.6 108.4,289.4 108.8,291.6 109.2,290.7 109.7,294.0 110.1,293.2 110.5,295.4 110.9,296.9 111.3,298.1 111.8,298.0 112.2,300.4 112.6,301.1 113.0,302.3 113.5,304.0 113.9,305.1 114.4,305.8 114.9,308.2 115.3,310.1 115.8,311.3 116.3,310.5 116.8,311.8 117.2,313.5 117.7,315.1 118.2,316.5 118.6,317.4 119.1,318.4 119.6,320.7 120.0,321.7 120.5,322.6 121.2,322.6 121.8,324.7 122.5,324.5 123.1,327.2 123.8,327.8 124.4,329.3 125.0,329.6 125.7,331.1 126.3,331.6 127.0,333.6 127.8,333.6 128.7,334.4 129.5,335.7 130.3,337.2 131.2,338.0 132.0,339.3 133.1,339.8 134.3,340.4 135.4,341.1 136.6,340.9 137.7,341.5 138.9,342.3 140.0,342.7" fill="none" stroke="#444" stroke-width="0.9" stroke-dasharray="0.9 2.3"/>
<polyline points="22.7,343.0 22.7,341.9 22.7,340.2 22.8,339.2 22.8,337.8 22.8,336.3 22.8,335.3 22.8,334.0 22.9,333.2 22.9,332.3 22.9,329.9 24.1,329.8 25.3,329.0 26.5,328.5 27.6,327.1 28.8,327.6 30.0,325.9 31.2,325.6 32.3,324.6 33.3,324.1 34.4,323.9 35.4,322.7 36.5,321.5 37.6,321.8 38.6,319.7 39.7,320.3 40.7,319.1 41.8,317.5 42.6,318.0 43.4,316.8 44.2,315.1 45.1,314.8 45.9,312.3 46.7,311.7 47.5,311.2 48.3,311.3 49.1,309.0 50.0,309.5 50.8,307.6 51.6,307.0 52.4,306.2 53.0,303.4 53.5,304.2 54.1,302.2 54.6,299.8 55.2,298.7 55.8,299.3 56.3,297.5 56.9,297.4 57.4,296.1 58.0,294.0 58.6,292.4 59.1,292.3 59.7,291.8 60.2,288.5 60.8,288.1 61.2,285.5 61.6,284.0 61.9,282.7 62.3,282.6 62.7,282.2 63.1,281.8 63.5,280.1 63.9,279.6 64.2,275.9 64.6,276.7 65.0,273.6 65.4,272.6 65.8,271.9 66.1,272.2 66.5,269.1 66.9,266.5 67.2,266.3 67.6,265.8 67.9,265.0 68.2,261.9 68.5,261.2 68.9,259.5 69.2,259.5 69.5,257.9 69.9,256.4 70.2,255.9 70.5,255.5 70.8,253.8 71.2,253.0 71.5,250.7 72.1,251.4 72.6,247.5 73.2,246.3 73.7,245.3 74.3,245.6 74.8,244.0 75.4,242.4 75.9,240.7 76.5,242.3 77.0,238.7 77.6,239.6 78.1,239.6 78.7,236.0 79.2,236.1 79.7,236.0 80.3,233.4 80.8,233.9 81.4,229.7 81.9,230.5 82.5,230.1 83.0,228.0 84.0,228.2 85.0,227.7 85.5,228.4 86.0,228.4 86.5,230.4 87.0,232.3 87.5,232.7 88.0,231.9 88.5,233.7 88.9,236.3 89.4,235.8 89.8,237.1 90.3,241.2 90.7,240.7 91.2,243.6 91.6,244.3 92.1,245.3 92.5,245.2 93.0,245.8 93.5,246.4 93.9,248.1 94.4,250.2 94.8,251.8 95.3,251.4 95.8,253.6 96.2,254.5 96.7,257.4 97.2,256.6 97.6,259.7 98.1,260.2 98.5,262.3 99.0,261.2 99.6,262.4 100.2,264.3 100.8,264.7 101.4,267.0 102.0,269.4 102.5,269.1 103.1,269.1 103.7,269.7 104.3,272.9 104.9,273.4 105.5,273.1 106.0,275.5 106.4,278.2 106.9,278.8 107.3,279.0 107.8,282.4 108.2,283.7 108.7,281.5 109.1,283.5 109.6,286.0 110.0,286.3 110.5,287.1 111.0,290.2 111.4,291.7 111.8,291.6 112.3,294.3 112.8,294.3 113.2,295.7 113.7,296.6 114.1,298.6 114.5,300.1 115.0,300.2 115.5,301.3 116.1,303.3 116.6,304.6 117.1,305.3 117.7,305.2 118.2,306.4 118.7,308.1 119.2,308.6 119.8,310.4 120.3,311.7 120.8,312.3 121.4,313.6 121.9,315.7 122.4,317.4 123.0,317.3 123.5,319.4 124.0,320.2 124.4,320.8 124.8,323.7 125.3,323.7 125.8,325.6 126.2,326.3 127.0,327.8 127.8,329.0 128.6,330.1 129.4,331.4 130.2,333.1 131.0,333.7 131.8,334.6 132.6,336.1 133.4,336.9 134.2,338.2 135.4,338.5 136.5,339.4 137.7,339.4 138.8,340.0 140.0,341.0 141.1,341.6 142.3,341.9 143.5,342.0 144.8,342.7 146.0,342.7" fill="none" stroke="#111" stroke-width="1.6" stroke-dasharray="2.2 3.3"/>
<polyline points="22.7,342.9 22.7,342.2 22.8,340.9 22.8,339.7 22.8,337.2 22.9,337.0 22.9,334.4 24.1,335.8 25.3,334.9 26.4,334.5 27.6,334.2 28.8,333.7 30.0,333.1 31.2,333.0 32.3,330.6 33.5,330.2 34.7,331.2 35.9,329.3 37.1,330.5 38.3,329.1 39.4,329.5 40.6,327.3 41.8,328.0 42.7,327.6 43.6,326.8 44.4,324.3 45.3,323.6 46.2,324.5 47.1,323.5 48.0,321.7 48.9,319.3 49.8,320.7 50.6,319.9 51.5,318.7 52.4,319.0 53.0,316.7 53.6,316.2 54.3,313.0 54.9,312.0 55.5,313.6 56.1,312.6 56.8,307.8 57.4,308.8 58.0,308.0 58.6,306.6 59.3,304.4 59.9,303.1 60.5,304.7 61.1,299.8 61.8,298.4 62.4,300.6 63.0,295.7 63.5,296.4 64.0,296.2 64.6,295.7 65.1,292.2 65.6,293.2 66.2,292.1 66.7,292.0 67.2,288.7 67.7,290.4 68.2,286.3 68.8,288.1 69.3,283.6 69.8,284.6 70.3,280.6 70.9,281.6 71.4,281.3 71.9,275.6 72.5,279.1 73.0,273.5 73.5,276.9 74.0,271.5 74.6,270.9 75.1,270.2 75.6,268.7 76.1,269.8 76.7,266.9 77.2,268.8 77.7,264.8 78.2,266.2 78.8,262.0 79.3,262.2 79.8,261.4 80.4,258.6 80.9,260.3 81.4,258.1 81.9,256.4 82.5,255.9 83.0,251.9 83.6,251.3 84.3,253.6 84.9,251.2 85.6,248.4 86.2,250.6 86.9,251.4 87.6,251.1 88.3,248.4 89.0,251.3 90.2,251.1 91.4,252.0 92.6,250.1 93.8,251.0 95.0,253.5 96.2,248.9 97.4,249.1 98.6,252.4 99.8,249.5 101.0,252.1 102.2,250.9 103.4,253.8 104.6,249.4 105.8,251.2 107.0,252.9 108.4,251.9 109.8,250.3 111.1,249.2 112.5,254.4 113.1,254.5 113.7,255.2 114.3,253.6 114.9,254.7 115.5,260.0 116.1,260.9 116.7,262.2 117.2,259.9 117.7,263.8 118.1,265.6 118.6,267.3 119.1,267.3 119.6,264.2 120.0,265.3 120.5,268.0 121.0,272.5 121.3,270.8 121.7,270.1 122.0,274.1 122.4,273.3 122.8,276.2 123.1,279.3 123.5,279.3 123.8,280.7 124.2,281.8 124.5,285.9 124.9,286.9 125.2,285.5 125.5,284.3 125.8,289.1 126.0,287.1 126.3,287.6 126.6,289.4 126.9,292.7 127.2,296.2 127.4,295.5 127.7,298.3 128.0,298.2 128.3,300.5 128.6,300.7 128.8,303.0 129.1,302.4 129.4,303.3 129.8,307.0 130.1,308.2 130.5,309.4 130.8,310.1 131.2,311.8 131.6,312.2 131.9,313.7 132.3,315.1 132.6,315.2 133.0,315.2 133.3,319.3 133.7,320.6 134.2,319.9 134.7,321.4 135.1,321.6 135.6,325.3 136.1,323.9 136.6,326.1 137.0,326.2 137.5,329.6 138.0,330.3 138.8,331.5 139.6,332.1 140.3,333.4 141.1,334.9 141.9,334.3 142.6,335.7 143.4,336.5 144.2,338.3 145.4,338.1 146.6,339.6 147.8,340.1 149.1,340.8 150.3,341.4 151.5,340.8 152.7,341.4 153.9,342.1 155.1,342.4 156.3,342.9 157.6,342.6 158.8,343.2 160.0,343.2" fill="none" stroke="#111" stroke-width="1.25" stroke-linejoin="round"/>
<polyline points="22.7,343.0 22.8,341.7 22.8,340.5 22.8,339.0 22.9,337.8 24.2,336.7 25.4,336.2 26.7,335.7 27.9,335.8 29.2,335.5 30.5,334.5 31.7,334.5 33.0,333.7 34.2,333.7 35.5,333.7 36.8,333.1 38.0,332.0 39.3,331.4 40.5,331.1 41.8,331.0 42.8,329.9 43.7,329.2 44.7,328.4 45.7,328.1 46.6,326.5 47.6,325.7 48.5,324.7 49.5,324.2 50.5,322.7 51.4,322.4 52.4,321.5 53.1,320.9 53.8,319.3 54.5,318.8 55.2,316.7 55.9,315.8 56.6,314.4 57.3,312.6 58.1,312.9 58.8,311.7 59.5,311.1 60.2,308.1 60.9,308.7 61.6,307.4 62.3,306.5 63.0,303.7 63.6,302.8 64.2,302.7 64.8,301.4 65.3,298.8 65.9,297.4 66.5,298.7 67.1,296.9 67.7,294.8 68.2,293.9 68.8,291.8 69.4,291.0 70.0,291.8 70.6,288.0 71.2,289.4 71.8,287.8 72.3,285.3 72.9,285.4 73.5,283.6 74.2,282.8 74.9,281.5 75.6,280.0 76.3,280.6 77.0,279.0 77.7,276.7 78.4,276.1 79.1,274.2 79.8,272.7 80.5,272.1 81.2,272.9 81.9,269.8 82.6,268.9 83.3,267.1 84.0,269.1 85.3,266.3 86.6,265.7 87.9,266.9 89.2,264.5 90.5,266.4 91.7,266.3 92.9,264.2 94.1,266.8 95.3,265.1 96.5,264.9 97.7,267.2 98.9,267.3 100.1,265.0 101.3,264.3 102.4,264.5 103.6,264.9 104.8,265.0 106.0,263.6 107.1,262.0 108.2,261.6 109.2,262.2 110.3,259.6 111.4,259.3 112.5,258.0 113.8,260.8 115.0,260.4 116.2,258.9 117.5,260.8 118.8,261.6 120.0,259.8 120.9,260.8 121.7,261.7 122.6,264.5 123.5,264.2 124.3,266.6 125.2,266.0 125.7,268.4 126.1,270.2 126.6,269.9 127.1,270.1 127.5,273.5 128.0,275.0 128.5,274.3 128.9,277.1 129.4,278.6 129.8,279.8 130.1,280.7 130.5,280.6 130.8,281.4 131.2,282.3 131.6,283.6 131.9,284.9 132.3,285.8 132.6,286.6 133.0,288.8 133.3,289.4 133.7,292.5 134.1,292.8 134.4,295.6 134.8,296.0 135.1,296.1 135.5,298.5 135.8,299.5 136.2,301.6 136.6,302.2 136.9,302.4 137.3,303.4 137.6,305.2 138.0,306.2 138.4,307.3 138.8,309.8 139.2,310.0 139.6,311.7 140.0,312.7 140.4,314.5 140.8,314.9 141.2,316.5 141.6,317.6 142.0,319.4 142.7,320.6 143.3,322.2 143.9,323.1 144.6,323.2 145.2,325.5 145.9,326.8 146.6,328.1 147.2,328.3 147.8,329.9 148.5,330.6 149.4,332.2 150.3,333.3 151.2,334.5 152.1,335.2 153.0,336.3 153.9,337.1 154.8,338.0 156.0,338.8 157.2,339.1 158.4,340.0 159.7,340.2 160.9,340.9 162.1,341.1 163.3,341.9 164.6,342.5 165.8,342.2 167.1,342.7 168.3,343.1 169.6,343.2" fill="none" stroke="#505050" stroke-width="2.4" stroke-linejoin="round"/>
</g>
<path d="M116.3,333.4 H176.3" stroke="#333" stroke-width="0.9" fill="none"/>
<path d="M116.3,326.7 V340.4" stroke="#777" stroke-width="1.2" fill="none"/>
<text x="159.9" y="329.0" font-size="8.7" font-weight="bold" fill="#111" stroke="#111" stroke-width="0.3" textLength="10.8" lengthAdjust="spacingAndGlyphs">M1</text>
<rect x="12.8" y="210" width="163.5" height="133.8" fill="none" stroke="#2a2a2a" stroke-width="1.3"/>
<path d="M12.200000000000001,343.8 H176.9" stroke="#111" stroke-width="1.7"/>
<text x="152.3" y="225.5" font-size="12.3" font-weight="bold" text-anchor="end" fill="#111" >WT</text>
<path d="M156,299.7 H142.8 M147,295.4 L142.3,299.7 L147,304.0" fill="none" stroke="#111" stroke-width="1.9" stroke-linejoin="miter"/>
<text x="74.1" y="358.8" font-size="10" fill="#111" stroke="#111" stroke-width="0.4" textLength="41.4" lengthAdjust="spacingAndGlyphs">Perforin-PE</text>
<text transform="translate(8.0,283.8) rotate(-90)" font-size="9.8" textLength="27.2" lengthAdjust="spacingAndGlyphs" fill="#111" stroke="#111" stroke-width="0.4">Counts</text>
</g>
<g id="hist2">
<clipPath id="clip2"><rect x="185.9" y="211" width="163.29999999999998" height="132.8"/></clipPath>
<g clip-path="url(#clip2)">
<polygon points="195.7,343.2 195.7,321.6 196.8,322.2 197.8,320.3 198.9,321.1 199.9,320.2 201.0,318.9 202.1,318.9 203.1,318.1 204.2,315.9 205.0,316.5 205.7,315.9 206.5,314.6 207.2,314.9 208.0,313.5 208.7,311.4 209.5,310.0 210.3,308.7 211.0,310.3 211.8,308.9 212.5,307.7 213.3,306.2 214.0,305.5 214.8,303.5 215.3,303.6 215.8,300.9 216.3,301.8 216.8,300.7 217.3,299.8 217.8,296.8 218.3,295.0 218.8,295.0 219.3,295.5 219.8,293.6 220.4,293.6 220.9,290.9 221.4,289.7 221.9,291.1 222.4,286.2 222.9,285.3 223.4,286.2 223.9,285.3 224.4,283.2 224.9,282.7 225.4,281.0 225.8,281.1 226.1,281.2 226.5,279.7 226.8,277.5 227.2,275.5 227.5,277.0 227.9,273.1 228.2,273.0 228.6,273.2 228.9,271.0 229.3,268.3 229.6,269.1 230.0,267.2 230.3,267.8 230.7,265.0 231.1,263.4 231.4,264.7 231.8,261.1 232.1,259.3 232.5,261.1 232.8,260.0 233.2,254.6 233.5,253.0 233.9,256.1 234.2,255.2 234.6,251.3 234.9,249.4 235.3,250.7 235.6,251.0 236.0,245.8 236.4,246.0 236.7,246.0 237.1,242.4 237.4,242.4 237.8,239.7 238.1,240.4 238.5,237.9 238.8,236.0 239.2,236.5 239.5,234.1 239.9,232.8 240.2,231.8 240.6,232.1 240.9,230.4 241.3,231.5 241.6,228.7 242.0,226.6 242.3,225.1 242.7,224.5 243.1,225.7 243.4,221.6 243.8,221.8 244.1,222.5 244.4,221.4 244.8,218.2 245.2,219.1 245.5,216.8 246.0,213.3 246.5,211.4 247.0,210.7 247.5,212.9 248.0,209.6 248.5,210.9 249.6,211.9 250.8,212.1 251.9,210.0 253.0,207.8 254.2,209.0 255.3,208.5 256.5,210.6 257.7,210.6 257.9,213.0 258.0,212.9 258.2,215.4 258.4,214.8 258.5,215.0 258.7,218.2 258.8,216.2 259.0,220.1 259.2,221.0 259.3,222.9 259.5,219.6 259.7,221.5 259.9,226.9 260.1,223.7 260.3,226.7 260.5,228.7 260.7,229.3 260.8,232.7 261.0,234.4 261.2,232.2 261.4,232.3 261.6,237.8 261.8,236.5 262.0,236.6 262.3,237.2 262.5,237.7 262.8,242.0 263.0,241.5 263.3,244.2 263.5,247.4 263.8,246.1 264.0,249.9 264.3,246.2 264.5,251.2 264.8,252.3 265.0,254.6 265.3,250.7 265.5,254.5 265.8,256.0 266.0,257.4 266.3,257.8 266.5,257.9 266.7,262.5 266.9,263.6 267.1,263.7 267.3,266.3 267.5,265.2 267.7,263.8 267.9,268.3 268.1,266.2 268.2,271.0 268.4,271.6 268.6,270.3 268.8,271.1 269.0,271.8 269.2,273.6 269.4,279.2 269.6,276.2 269.8,281.0 270.0,278.0 270.3,280.3 270.7,282.1 271.0,282.7 271.3,287.1 271.7,284.4 272.0,286.8 272.3,286.5 272.7,287.2 273.0,291.3 273.4,290.7 273.7,292.6 274.0,294.7 274.4,293.0 274.7,294.1 275.0,298.1 275.4,300.6 275.7,297.5 276.0,300.5 276.4,303.9 276.7,304.3 277.1,306.1 277.5,305.4 277.8,308.2 278.2,305.9 278.6,308.5 279.0,311.0 279.3,310.5 279.7,311.8 280.1,313.0 280.5,313.9 280.9,316.4 281.2,318.0 281.6,316.9 282.0,318.3 282.4,320.8 282.7,321.7 283.1,323.0 283.5,323.8 283.9,325.4 284.3,326.4 284.7,327.0 285.1,327.3 285.5,328.0 285.9,330.7 286.2,331.8 286.6,333.0 287.0,332.9 287.4,334.9 287.8,336.3 288.2,336.2 289.1,336.7 289.9,337.7 290.8,338.6 291.6,340.0 292.5,340.9 293.3,341.6 294.2,342.2 295.5,342.9 296.7,343.2 298.0,342.9 298.0,343.2" fill="#c6c6c6"/>
<polyline points="195.7,343.2 195.7,341.9 195.7,340.3 195.7,339.3 195.8,337.6 195.8,336.6 195.8,335.7 195.8,333.6 195.8,332.9 195.8,331.5 195.9,330.0 195.9,328.5 195.9,327.8 195.9,326.3 197.1,325.4 198.3,325.2 199.5,325.0 200.6,323.6 201.8,324.1 203.0,322.4 204.2,322.5 205.2,321.4 206.1,321.3 207.1,320.4 208.1,319.3 209.0,317.6 210.0,316.7 210.9,316.7 211.9,315.2 212.9,314.6 213.8,313.8 214.8,311.9 215.4,311.1 216.0,311.2 216.7,308.7 217.3,308.7 217.9,306.0 218.5,304.5 219.2,304.5 219.8,302.8 220.4,302.4 221.0,301.7 221.7,298.7 222.3,298.7 222.9,297.3 223.5,297.5 224.2,296.2 224.8,295.2 225.4,293.7 225.8,291.3 226.3,290.9 226.7,289.4 227.2,287.6 227.6,286.1 228.1,286.0 228.5,285.5 228.9,282.2 229.4,281.3 229.8,279.4 230.3,278.8 230.7,277.6 231.1,275.4 231.6,276.0 232.0,273.7 232.5,274.0 232.9,270.9 233.3,271.3 233.8,270.8 234.2,266.9 234.7,266.3 235.1,267.0 235.6,263.9 236.0,262.4 236.4,260.7 236.8,261.6 237.2,258.8 237.7,259.3 238.1,257.1 238.5,254.6 238.9,256.0 239.3,254.5 239.8,252.8 240.2,251.1 240.6,250.4 241.0,249.8 241.4,246.1 241.8,245.0 242.2,245.5 242.7,243.2 243.1,243.8 243.5,242.1 243.9,239.8 244.3,237.4 244.8,237.6 245.2,236.3 245.6,235.0 246.0,234.4 246.4,232.2 246.8,232.3 247.2,230.1 247.7,227.4 248.1,228.3 248.5,224.9 249.1,226.2 249.6,225.1 250.2,221.6 250.8,220.5 251.4,220.9 251.9,219.0 252.5,217.6 254.0,219.0 255.5,217.8 257.0,217.3 257.4,219.9 257.9,222.1 258.3,223.6 258.8,222.0 259.2,225.2 259.6,225.1 260.1,228.3 260.5,227.6 260.7,227.9 261.0,229.9 261.2,231.7 261.4,231.9 261.7,235.0 261.9,234.8 262.1,237.4 262.3,237.0 262.6,239.0 262.8,240.8 263.0,240.6 263.3,242.1 263.5,245.1 263.8,244.9 264.1,246.1 264.5,248.2 264.8,249.8 265.1,251.6 265.4,251.9 265.8,254.2 266.1,255.6 266.4,257.0 266.7,258.2 267.0,258.8 267.4,260.1 267.7,260.4 268.0,260.7 268.3,264.6 268.6,264.2 268.9,265.2 269.2,267.2 269.6,269.1 269.9,270.6 270.2,269.5 270.5,272.9 270.8,274.7 271.1,276.1 271.4,277.2 271.8,277.2 272.1,279.5 272.4,279.8 272.7,281.9 273.0,283.6 273.4,282.8 273.8,283.2 274.2,286.4 274.6,288.2 275.0,289.2 275.4,289.1 275.8,290.3 276.2,290.5 276.6,293.8 277.0,293.4 277.4,294.2 277.8,295.3 278.2,298.7 278.6,298.6 279.0,300.7 279.5,300.2 279.9,302.4 280.4,304.3 280.8,305.6 281.3,305.5 281.8,307.3 282.2,309.3 282.7,310.7 283.2,310.2 283.6,312.5 284.1,314.3 284.5,315.0 285.0,316.5 285.5,316.8 286.0,318.3 286.5,318.6 287.1,321.1 287.6,321.9 288.1,322.4 288.6,324.7 289.1,324.8 289.6,325.7 290.2,327.8 290.7,328.2 291.2,330.0 291.7,330.6 292.6,331.4 293.5,333.1 294.4,333.9 295.3,334.9 296.2,335.8 297.1,336.8 298.0,337.2 299.2,338.1 300.4,339.0 301.6,339.9 302.8,340.4 304.0,341.0 305.3,341.6 306.7,341.9 308.0,341.8 309.3,342.1 310.7,342.3 312.0,343.2" fill="none" stroke="#444" stroke-width="0.9" stroke-dasharray="0.9 2.3"/>
<polyline points="195.7,342.8 195.7,341.7 195.7,340.3 195.7,339.1 195.8,338.0 195.8,336.4 195.8,334.6 195.8,333.5 195.8,331.9 195.8,330.8 195.9,329.8 195.9,328.4 195.9,327.0 195.9,326.0 197.1,325.5 198.3,323.9 199.5,323.9 200.6,323.1 201.8,321.6 203.0,322.4 204.2,320.8 205.1,320.3 206.0,318.7 206.8,318.1 207.7,316.7 208.6,317.2 209.5,314.7 210.4,313.8 211.3,314.1 212.2,312.9 213.0,311.5 213.9,311.8 214.8,310.4 215.4,308.8 216.0,308.1 216.6,307.5 217.2,306.2 217.7,304.0 218.3,303.8 218.9,301.4 219.5,300.6 220.1,300.9 220.7,299.2 221.3,297.2 221.9,296.4 222.5,295.0 223.0,294.6 223.6,293.0 224.2,291.7 224.8,290.4 225.4,290.5 225.8,289.2 226.2,286.3 226.6,285.6 227.0,285.8 227.4,284.1 227.8,282.5 228.3,281.4 228.7,278.9 229.1,278.8 229.5,278.1 229.9,276.0 230.3,274.7 230.7,273.5 231.1,272.8 231.5,270.5 231.9,271.1 232.3,267.6 232.7,268.5 233.1,266.6 233.6,264.5 234.0,263.3 234.4,262.2 234.8,260.6 235.2,261.9 235.6,258.5 236.0,256.8 236.4,257.3 236.8,257.0 237.2,253.7 237.6,252.3 237.9,252.1 238.3,250.1 238.7,249.3 239.1,248.4 239.5,248.5 239.9,245.4 240.3,244.1 240.7,244.0 241.1,242.3 241.4,242.0 241.8,239.5 242.2,238.9 242.6,237.3 243.0,236.3 243.4,234.7 243.8,232.4 244.2,231.1 244.6,230.6 245.0,231.1 245.5,228.4 245.9,227.1 246.3,225.7 246.7,225.4 247.1,222.8 247.5,221.7 248.1,220.3 248.7,219.7 249.2,218.2 249.8,217.3 250.4,217.1 251.0,214.0 252.2,214.9 253.5,216.0 254.8,215.2 256.0,215.5 256.5,216.7 257.0,216.1 257.5,218.7 258.0,219.0 258.5,220.3 259.0,220.9 259.2,224.1 259.5,225.7 259.7,226.8 259.9,226.7 260.2,229.4 260.4,230.3 260.6,231.0 260.8,232.8 261.1,233.9 261.3,232.8 261.5,235.9 261.8,237.2 262.0,237.6 262.3,240.2 262.6,241.3 262.9,240.6 263.1,242.8 263.4,243.0 263.7,245.3 264.0,245.8 264.3,246.8 264.6,249.0 264.9,251.5 265.1,251.2 265.4,254.8 265.7,253.8 266.0,257.0 266.3,256.6 266.5,259.6 266.8,259.8 267.1,262.0 267.3,262.1 267.6,262.9 267.9,265.9 268.1,264.6 268.4,266.2 268.7,267.5 268.9,270.0 269.2,271.8 269.5,271.5 269.7,273.8 270.0,275.9 270.4,274.6 270.7,278.1 271.1,277.5 271.4,278.5 271.8,281.1 272.1,282.1 272.5,283.4 272.8,285.4 273.2,284.9 273.5,287.8 273.9,287.8 274.2,291.3 274.6,291.3 274.9,291.9 275.3,294.0 275.6,295.0 276.0,295.4 276.3,298.4 276.7,298.8 277.1,301.0 277.5,302.1 277.8,303.5 278.2,305.0 278.6,304.8 279.0,306.6 279.4,307.9 279.7,309.2 280.1,310.7 280.5,312.0 280.9,313.0 281.2,314.2 281.6,315.3 282.0,315.9 282.6,317.3 283.1,318.3 283.6,320.3 284.2,321.5 284.8,322.2 285.3,323.6 285.9,325.5 286.4,325.7 286.9,327.4 287.5,328.6 288.2,329.7 288.8,330.6 289.5,332.5 290.2,333.2 290.8,334.3 291.5,335.0 292.7,335.8 293.8,336.9 295.0,337.5 296.1,338.6 297.3,339.4 298.4,339.7 299.6,340.7 300.9,341.1 302.2,341.8 303.4,342.2 304.7,342.8 306.0,342.7" fill="none" stroke="#111" stroke-width="1.6" stroke-dasharray="2.2 3.3"/>
<polyline points="195.7,343.0 195.7,341.8 195.8,339.9 195.8,338.4 195.8,337.4 195.8,335.8 195.8,334.2 195.9,333.8 195.9,332.3 197.3,332.1 198.7,332.2 200.1,331.8 201.4,331.3 202.8,331.5 204.2,331.6 205.3,330.8 206.3,329.8 207.4,328.9 208.4,328.3 209.5,327.4 210.6,326.1 211.6,324.9 212.7,324.5 213.7,324.2 214.8,321.8 215.6,321.3 216.4,319.7 217.2,318.6 218.1,318.4 218.9,316.6 219.7,315.3 220.5,315.3 221.3,314.2 222.1,313.0 223.0,310.9 223.8,310.0 224.6,309.9 225.4,307.7 226.0,306.6 226.6,306.0 227.2,306.4 227.8,304.8 228.3,304.0 228.9,302.5 229.5,299.4 230.1,300.0 230.7,298.7 231.3,298.3 231.9,294.5 232.5,293.6 233.1,292.3 233.6,292.1 234.2,290.6 234.8,289.2 235.4,289.7 236.0,289.1 236.5,288.0 237.1,283.7 237.6,282.9 238.1,282.7 238.6,282.8 239.2,281.6 239.7,280.7 240.2,276.9 240.7,277.3 241.2,274.3 241.8,275.5 242.3,274.9 242.8,271.8 243.3,270.8 243.9,268.5 244.4,270.4 244.9,267.2 245.4,265.8 246.0,265.0 246.5,263.0 247.4,265.1 248.3,263.8 249.2,261.3 250.0,259.7 250.9,259.0 251.8,259.6 252.0,255.0 252.3,254.4 252.5,254.8 252.8,252.1 253.0,251.5 253.3,248.7 253.5,248.6 253.8,249.2 254.0,247.0 254.2,248.0 254.4,250.3 254.5,249.1 254.7,252.4 254.9,254.7 255.1,253.8 255.3,253.8 255.5,257.4 255.6,259.9 255.8,258.2 256.0,260.2 256.8,262.8 257.6,263.3 258.4,266.1 259.2,265.5 260.0,265.9 260.6,266.9 261.2,268.5 261.9,270.7 262.5,271.7 263.1,271.5 263.8,272.4 264.4,274.4 265.0,273.8 265.7,276.1 266.4,276.7 267.1,276.6 267.9,280.2 268.6,279.1 269.3,281.0 270.0,283.3 270.7,285.3 271.3,285.6 272.0,287.8 272.7,285.5 273.4,289.3 274.0,290.1 274.7,291.1 275.4,293.0 276.0,291.1 276.7,292.3 277.5,296.1 278.2,296.9 279.0,295.5 279.7,297.7 280.5,299.9 281.2,300.1 282.0,299.6 282.7,301.2 283.5,303.9 284.5,302.9 285.5,304.1 286.5,306.4 287.5,305.6 287.9,307.9 288.4,308.1 288.9,309.3 289.3,311.5 289.8,313.2 290.2,313.6 290.7,314.4 291.2,316.6 291.7,317.8 292.2,317.6 292.7,320.1 293.2,321.0 293.7,323.0 294.2,323.5 295.0,324.6 295.7,324.9 296.5,326.7 297.3,327.2 298.1,328.5 298.8,330.2 299.6,331.8 300.5,332.9 301.4,333.8 302.3,334.3 303.2,335.3 304.1,336.6 305.0,337.3 306.1,337.6 307.2,339.0 308.4,339.8 309.5,340.4 310.6,340.9 311.7,341.7 313.0,341.5 314.2,341.9 315.5,342.8 316.7,342.9 318.0,343.0" fill="none" stroke="#111" stroke-width="1.25" stroke-linejoin="round"/>
<polyline points="195.7,343.1 195.7,341.8 195.7,340.5 195.8,338.7 195.8,337.5 195.8,336.3 195.8,335.2 195.8,334.0 195.8,331.9 195.8,330.7 195.9,329.4 195.9,328.6 195.9,327.0 197.3,326.4 198.7,326.5 200.1,325.9 201.4,326.5 202.8,325.8 204.2,325.8 205.3,325.2 206.3,324.0 207.4,322.7 208.4,322.2 209.5,320.9 210.6,320.6 211.6,320.4 212.7,319.3 213.7,318.8 214.8,316.8 215.5,316.5 216.2,315.6 216.9,314.0 217.6,313.5 218.3,311.4 219.0,311.6 219.7,310.6 220.5,308.3 221.2,307.0 221.9,307.3 222.6,305.8 223.3,305.4 224.0,303.6 224.7,302.0 225.4,301.0 226.0,300.6 226.6,298.8 227.2,299.0 227.8,297.5 228.3,296.0 228.9,295.5 229.5,294.2 230.1,292.2 230.7,291.5 231.3,290.0 231.9,288.0 232.5,287.0 233.1,286.3 233.6,284.6 234.2,285.5 234.8,283.5 235.4,281.7 236.0,280.2 236.5,280.4 237.0,278.6 237.5,278.5 238.0,276.7 238.5,274.1 239.0,275.1 239.5,273.7 240.0,271.2 240.5,271.1 241.0,269.4 241.5,266.9 242.0,266.0 242.5,265.0 243.0,264.4 243.5,263.1 244.0,262.0 244.5,259.5 245.0,259.1 245.5,257.3 246.0,256.7 246.5,257.0 247.1,253.6 247.6,252.2 248.2,252.0 248.7,250.8 249.2,248.9 249.8,249.6 250.3,248.3 250.9,247.2 251.4,245.5 252.0,244.0 252.8,243.0 253.5,241.0 254.2,239.4 255.0,240.6 256.1,240.7 257.2,239.4 258.4,240.3 259.5,239.5 260.5,241.9 261.5,242.8 262.5,243.6 263.5,242.0 264.5,244.8 265.5,243.3 266.5,245.6 267.5,246.8 268.5,245.5 269.4,247.5 270.2,249.0 271.1,249.9 271.9,250.9 272.8,251.5 273.6,252.0 274.4,253.0 275.3,254.6 276.1,255.5 277.0,256.2 277.8,257.7 278.7,257.1 279.5,258.2 280.4,259.3 281.2,260.0 282.0,262.0 282.9,261.2 283.7,264.5 284.6,263.5 285.4,265.7 285.8,267.1 286.2,267.1 286.7,267.7 287.1,271.3 287.5,272.3 287.9,272.5 288.3,273.0 288.8,274.9 289.2,276.4 289.6,276.4 290.0,278.8 290.4,280.2 290.9,280.2 291.3,281.7 291.7,283.0 292.1,284.0 292.6,285.6 293.0,286.1 293.5,287.8 293.9,290.3 294.4,291.0 294.8,291.8 295.2,292.3 295.7,294.0 296.1,296.0 296.6,296.7 297.0,298.5 297.2,299.7 297.5,300.6 297.7,302.3 298.0,303.2 298.2,304.3 298.5,306.7 298.7,307.6 299.0,308.3 299.2,309.0 299.5,311.0 299.7,312.1 300.0,314.2 300.2,315.7 300.6,316.5 301.1,316.8 301.5,318.9 302.0,319.5 302.4,321.2 302.9,322.8 303.3,323.1 303.7,325.4 304.2,326.5 304.6,327.3 305.1,328.6 305.5,329.7 306.3,331.2 307.2,332.3 308.0,333.0 308.8,334.3 309.7,334.8 310.5,335.9 311.3,337.6 312.2,338.1 313.0,339.5 314.2,340.0 315.4,340.1 316.6,341.1 317.8,341.4 319.0,341.8 320.2,342.4 321.4,342.8 322.6,343.0 323.9,343.0 325.1,343.1 326.3,343.0 327.5,343.0 328.8,343.1 330.0,343.0" fill="none" stroke="#505050" stroke-width="2.4" stroke-linejoin="round"/>
</g>
<path d="M288.6,333.4 H349.2" stroke="#333" stroke-width="0.9" fill="none"/>
<path d="M288.6,326.7 V340.4" stroke="#111" stroke-width="1.2" fill="none"/>
<text x="332.8" y="329.0" font-size="8.7" font-weight="bold" fill="#111" stroke="#111" stroke-width="0.3" textLength="10.8" lengthAdjust="spacingAndGlyphs">M1</text>
<rect x="185.9" y="211" width="163.29999999999998" height="132.8" fill="none" stroke="#2a2a2a" stroke-width="1.3"/>
<path d="M185.3,343.8 H349.8" stroke="#111" stroke-width="1.7"/>
<text x="335.7" y="225.5" font-size="12.3" font-weight="bold" text-anchor="end" fill="#111" >Y438C</text>
<path d="M316.8,299.7 H303.1 M307.3,295.4 L302.6,299.7 L307.3,304.0" fill="none" stroke="#111" stroke-width="1.9" stroke-linejoin="miter"/>
<text x="248.3" y="358.8" font-size="10" fill="#111" stroke="#111" stroke-width="0.4" textLength="41.4" lengthAdjust="spacingAndGlyphs">Perforin-PE</text>
</g>
<g id="hist3">
<clipPath id="clip3"><rect x="356.6" y="211.2" width="162.60000000000002" height="133.10000000000002"/></clipPath>
<g clip-path="url(#clip3)">
<polygon points="366.8,343.7 366.8,329.0 367.7,327.0 368.6,326.8 369.6,326.1 370.5,324.0 371.4,322.8 372.4,323.4 373.3,321.3 374.2,321.2 375.0,321.7 375.7,320.8 376.5,317.7 377.2,316.6 378.0,316.1 378.7,317.1 379.5,313.6 380.3,313.3 381.0,312.0 381.8,311.2 382.5,311.6 383.3,309.5 384.0,309.4 384.8,309.7 385.4,308.6 386.0,306.4 386.6,306.7 387.2,304.8 387.7,304.8 388.3,301.4 388.9,300.8 389.5,300.7 390.1,301.2 390.7,298.7 391.3,297.0 391.9,294.9 392.5,294.0 393.0,292.6 393.6,295.2 394.2,293.7 394.8,292.7 395.4,289.8 395.9,289.7 396.3,286.4 396.8,286.3 397.2,283.4 397.7,283.7 398.2,281.7 398.6,279.8 399.1,283.2 399.5,277.5 400.0,280.4 400.5,278.6 400.9,274.2 401.4,275.3 401.9,277.0 402.3,275.8 402.8,272.4 403.2,272.4 403.7,271.0 404.2,267.6 404.6,267.9 405.1,267.0 405.5,264.8 406.0,266.1 406.4,262.9 406.8,263.5 407.3,258.6 407.7,259.6 408.1,256.3 408.5,258.5 408.9,258.6 409.4,255.7 409.8,254.8 410.2,254.0 410.6,250.7 411.0,250.5 411.5,250.4 411.9,249.7 412.3,247.1 412.7,246.6 413.1,244.7 413.6,244.8 414.0,244.4 414.4,241.4 414.8,242.2 415.2,242.0 415.7,239.2 416.1,240.5 416.5,235.8 416.9,237.9 417.4,232.7 417.8,232.6 418.2,233.9 418.7,228.4 419.1,230.5 419.6,230.7 420.0,229.9 420.4,227.3 420.9,224.2 421.4,222.8 421.8,223.2 422.4,221.3 422.9,222.2 423.5,228.1 424.5,225.9 425.5,222.6 425.8,225.3 426.1,225.8 426.4,230.2 426.6,228.2 426.9,231.8 427.2,233.1 427.5,232.0 427.8,232.8 428.1,235.5 428.4,236.0 428.8,238.3 429.1,238.0 429.4,241.8 429.7,240.9 430.0,240.5 430.4,245.2 430.7,247.1 431.0,247.1 431.3,247.6 431.6,250.5 431.8,252.0 432.1,248.0 432.4,251.8 432.6,250.4 432.9,253.3 433.2,253.9 433.4,256.3 433.7,258.6 434.0,260.7 434.2,258.6 434.5,258.4 434.8,264.9 435.0,264.9 435.3,264.8 435.6,263.5 435.8,264.3 436.1,270.3 436.4,269.2 436.6,272.2 436.9,272.9 437.2,273.9 437.4,275.3 437.7,273.4 438.0,274.6 438.3,276.7 438.6,279.7 438.8,281.0 439.1,282.0 439.4,282.2 439.7,282.8 440.0,282.4 440.3,286.1 440.6,287.2 440.9,287.6 441.1,289.8 441.4,292.2 441.7,293.2 442.0,290.2 442.3,292.3 442.6,295.0 442.9,296.5 443.1,295.8 443.4,299.8 443.7,298.9 444.0,301.3 444.4,299.4 444.8,301.5 445.1,301.6 445.5,305.8 445.9,305.9 446.3,308.7 446.6,308.5 447.0,308.6 447.4,309.8 447.8,311.0 448.1,311.5 448.5,312.4 448.9,315.3 449.3,315.3 449.6,316.9 450.0,318.8 450.4,318.6 450.9,320.3 451.4,321.1 451.9,322.2 452.3,324.2 452.8,324.0 453.3,325.8 453.8,326.3 454.3,328.7 454.8,329.0 455.2,331.6 455.7,331.7 456.2,333.2 456.7,334.0 457.7,335.4 458.6,335.9 459.6,336.6 460.6,336.5 461.5,337.5 462.5,339.2 463.4,339.5 464.4,341.0 465.4,341.4 466.3,342.4 467.3,343.1 467.3,343.7" fill="#c6c6c6"/>
<polyline points="366.8,343.7 366.8,342.3 366.8,341.1 366.9,339.5 366.9,338.1 366.9,336.6 366.9,335.4 366.9,334.6 366.9,333.1 367.0,331.2 367.0,329.9 367.0,329.0 368.1,328.3 369.1,327.4 370.2,326.3 371.2,325.8 372.3,325.7 373.4,324.8 374.4,324.2 375.5,322.8 376.3,322.3 377.1,320.8 377.9,319.9 378.8,319.8 379.6,317.8 380.4,317.0 381.2,315.9 382.0,315.8 382.8,314.6 383.7,313.5 384.5,312.9 385.3,311.3 386.1,311.1 386.7,309.7 387.3,307.8 388.0,306.6 388.6,306.0 389.2,304.7 389.8,304.2 390.5,302.8 391.1,301.9 391.7,300.5 392.3,298.7 393.0,298.5 393.6,297.9 394.2,296.1 394.8,295.1 395.5,293.0 396.1,291.6 396.7,291.2 397.2,290.3 397.7,289.4 398.2,287.6 398.7,286.6 399.2,284.2 399.7,282.9 400.2,281.9 400.7,281.2 401.2,279.8 401.7,278.3 402.3,277.6 402.8,276.4 403.3,276.4 403.8,275.5 404.3,274.4 404.8,272.5 405.3,269.5 405.8,268.9 406.3,269.6 406.8,267.6 407.3,266.8 407.8,264.0 408.2,262.9 408.7,261.3 409.1,261.2 409.6,259.6 410.0,258.7 410.5,256.6 411.0,255.1 411.4,254.9 411.9,255.0 412.3,253.1 412.8,251.7 413.2,249.3 413.7,249.0 414.1,247.6 414.6,247.1 415.1,245.3 415.5,245.1 416.0,242.6 416.4,242.6 416.9,239.6 417.3,238.7 417.8,239.1 418.4,238.2 419.1,235.8 419.7,234.5 420.4,235.4 421.0,233.4 421.7,231.1 422.3,232.3 423.3,230.7 424.3,229.5 425.0,231.3 425.6,232.2 426.3,233.9 427.0,234.8 427.5,235.9 428.0,238.0 428.5,238.2 429.0,240.7 429.5,241.7 430.0,243.4 430.5,242.7 431.0,245.7 431.6,246.5 432.1,246.4 432.6,249.5 433.1,249.7 433.6,250.1 434.1,251.4 434.6,254.6 435.1,255.3 435.6,255.1 436.0,258.0 436.5,257.1 436.9,260.0 437.4,261.0 437.8,262.8 438.3,264.1 438.7,264.9 439.1,266.4 439.6,266.7 440.0,269.1 440.5,269.1 440.9,271.0 441.3,272.3 441.8,272.7 442.2,274.9 442.7,275.9 443.1,275.7 443.6,278.0 444.0,279.0 444.4,280.5 444.9,280.3 445.3,283.2 445.8,283.6 446.2,285.7 446.7,285.7 447.1,286.4 447.6,288.7 448.0,290.4 448.5,291.9 448.9,292.6 449.4,294.5 449.8,294.2 450.3,295.4 450.7,297.2 451.2,298.9 451.6,300.4 452.1,300.2 452.5,302.5 452.9,303.3 453.3,304.8 453.6,305.3 454.0,306.7 454.4,308.8 454.8,309.5 455.1,311.8 455.5,312.3 455.9,313.3 456.3,314.3 456.6,316.1 457.0,317.3 457.4,318.2 457.8,320.4 458.1,321.0 458.5,322.6 458.9,323.7 459.5,325.0 460.0,325.4 460.6,327.5 461.2,328.2 461.8,328.9 462.3,330.5 462.9,331.2 463.5,332.7 464.1,333.6 464.6,334.7 465.2,336.2 466.3,337.3 467.3,338.0 468.4,339.0 469.4,339.7 470.5,340.4 471.6,341.2 472.6,342.2 473.7,342.6 475.0,343.0 476.2,343.1 477.5,343.0 478.7,343.6 480.0,343.7" fill="none" stroke="#505050" stroke-width="2.4" stroke-linejoin="round"/>
<polyline points="366.8,343.3 366.8,342.5 366.8,340.8 366.9,339.8 366.9,338.2 366.9,337.4 366.9,335.5 366.9,333.5 366.9,333.3 366.9,331.0 367.0,330.3 367.0,329.7 367.0,328.0 368.1,325.8 369.1,326.6 370.2,326.1 371.2,324.1 372.3,322.8 373.3,322.4 374.4,321.8 375.2,319.6 376.0,320.6 376.8,319.1 377.7,317.5 378.5,317.7 379.3,314.9 380.1,316.0 380.9,315.0 381.7,312.8 382.6,310.7 383.4,310.8 384.2,308.7 385.0,309.2 385.6,306.7 386.2,306.8 386.9,305.3 387.5,303.9 388.1,303.7 388.7,302.4 389.4,302.6 390.0,299.8 390.6,299.2 391.2,298.7 391.9,295.3 392.5,295.7 393.1,293.0 393.7,293.3 394.4,292.2 395.0,292.9 395.6,292.0 396.1,287.8 396.6,289.2 397.1,285.7 397.6,283.8 398.1,284.3 398.6,281.7 399.1,283.7 399.6,282.2 400.1,276.7 400.6,280.2 401.2,278.5 401.7,273.6 402.2,275.0 402.7,273.3 403.2,270.1 403.7,271.6 404.2,266.9 404.7,267.4 405.2,267.0 405.7,267.2 406.2,264.0 406.7,262.2 407.1,262.0 407.6,261.1 408.0,259.2 408.5,256.5 408.9,259.0 409.4,254.7 409.9,253.4 410.3,252.3 410.8,254.9 411.2,249.2 411.7,250.8 412.1,249.3 412.6,246.4 413.0,248.0 413.5,243.8 414.0,242.2 414.4,240.6 414.9,242.6 415.3,238.3 415.8,240.0 416.2,239.0 416.7,235.0 417.3,238.3 418.0,233.1 418.6,233.0 419.3,234.3 419.9,230.6 420.6,232.1 421.2,230.7 421.9,229.9 422.5,226.9 423.2,225.4 423.9,227.5 424.5,229.3 425.2,227.4 425.8,228.9 426.5,230.9 426.9,231.0 427.3,235.7 427.7,238.0 428.0,236.9 428.4,237.2 428.8,238.8 429.2,242.3 429.6,242.7 430.0,243.1 430.4,244.7 430.8,247.3 431.1,247.0 431.5,246.2 431.9,250.7 432.3,247.7 432.6,249.4 433.0,250.9 433.3,253.1 433.7,255.3 434.0,257.8 434.4,256.2 434.7,260.5 435.0,262.4 435.4,263.0 435.7,263.9 436.1,264.0 436.4,264.6 436.8,264.4 437.1,266.8 437.4,267.2 437.8,269.1 438.1,268.9 438.5,274.6 438.8,273.1 439.2,272.7 439.5,274.1 439.9,277.0 440.2,276.4 440.6,280.6 440.9,280.0 441.2,283.0 441.6,282.7 441.9,284.2 442.3,287.9 442.6,287.0 443.0,290.4 443.4,290.6 443.7,292.1 444.1,293.3 444.4,293.8 444.8,294.0 445.1,296.8 445.4,295.4 445.8,297.5 446.1,300.9 446.5,302.3 446.9,300.5 447.4,304.6 447.8,304.6 448.2,305.1 448.7,308.8 449.1,308.9 449.5,309.0 450.0,312.5 450.4,311.1 450.8,314.3 451.3,315.6 451.7,316.9 452.1,317.4 452.6,318.2 453.0,319.3 453.5,321.8 454.0,322.3 454.5,322.4 455.0,325.1 455.5,326.3 456.0,327.5 456.5,328.0 457.0,329.6 457.5,330.6 458.0,332.1 458.5,332.3 459.0,333.4 459.5,335.5 460.4,335.4 461.4,335.9 462.4,337.7 463.3,338.6 464.2,339.5 465.2,340.4 466.1,340.1 467.1,341.9 468.1,342.0 469.0,342.6" fill="none" stroke="#111" stroke-width="1.6" stroke-dasharray="2.2 3.3"/>
<polyline points="366.8,343.2 366.8,341.6 366.8,340.1 366.8,338.9 366.9,338.2 366.9,336.0 366.9,335.9 366.9,333.1 366.9,332.1 366.9,330.7 367.0,329.2 367.0,327.5 367.0,327.4 367.0,324.9 367.8,324.0 368.6,322.6 369.4,324.0 370.2,321.1 371.0,320.8 371.8,320.9 372.6,318.0 373.4,317.7 374.2,318.3 375.0,316.6 375.9,313.9 376.7,314.3 377.5,314.5 378.3,312.4 379.1,310.4 379.9,309.2 380.8,310.9 381.6,307.9 382.4,306.1 383.2,305.5 383.8,305.7 384.4,305.7 385.1,303.7 385.7,302.4 386.3,300.1 386.9,298.4 387.6,299.4 388.2,296.7 388.8,295.3 389.4,296.4 390.1,296.2 390.7,294.7 391.3,289.8 391.9,292.1 392.6,289.8 393.2,286.0 393.8,289.1 394.3,286.3 394.8,284.8 395.3,281.1 395.8,282.8 396.3,281.1 396.8,282.0 397.3,281.3 397.8,275.4 398.3,278.9 398.8,274.6 399.4,271.1 399.9,274.3 400.4,273.4 400.9,272.1 401.4,267.1 401.9,269.4 402.4,269.3 402.9,268.2 403.4,263.5 403.9,265.2 404.4,259.6 404.9,263.0 405.3,260.0 405.8,259.3 406.2,258.7 406.7,254.5 407.1,253.1 407.6,250.9 408.1,253.6 408.5,248.3 409.0,247.1 409.4,249.7 409.9,247.5 410.3,249.3 410.8,243.0 411.2,244.2 411.7,240.9 412.2,243.4 412.6,243.1 413.1,242.0 413.5,235.7 414.0,238.2 414.4,235.9 414.9,232.0 415.5,233.0 416.2,233.7 416.8,232.6 417.5,230.0 418.1,226.7 418.8,227.4 419.4,226.0 420.2,225.3 421.0,228.1 421.8,225.2 422.4,226.4 423.1,223.7 423.7,226.9 424.4,230.5 425.0,227.9 425.4,228.3 425.8,231.2 426.1,231.5 426.5,235.4 426.9,235.1 427.3,239.3 427.6,240.3 428.0,239.1 428.4,243.6 428.8,244.6 429.2,246.2 429.5,247.6 429.9,248.4 430.3,249.9 430.6,248.3 430.8,252.7 431.1,249.7 431.4,253.3 431.6,250.7 431.9,257.8 432.2,257.1 432.4,254.6 432.7,261.3 433.0,260.6 433.2,260.5 433.5,262.3 433.8,266.3 434.1,267.3 434.3,263.8 434.6,265.7 434.9,266.6 435.1,267.0 435.4,268.9 435.7,272.8 435.9,274.4 436.2,276.4 436.5,278.1 436.8,278.5 437.1,281.2 437.5,277.0 437.8,284.0 438.1,282.1 438.4,285.2 438.7,285.5 439.0,287.8 439.4,288.5 439.7,286.8 440.0,290.2 440.3,288.9 440.6,294.6 440.9,295.1 441.2,294.1 441.6,295.5 441.9,296.8 442.2,297.1 442.5,300.4 442.9,302.3 443.3,301.9 443.7,303.5 444.1,306.5 444.5,307.0 444.9,305.9 445.3,307.5 445.8,311.3 446.2,311.5 446.6,310.8 447.0,313.2 447.4,314.1 447.8,316.1 448.2,318.1 448.6,319.1 449.0,318.7 449.5,319.7 450.1,320.6 450.6,322.3 451.2,324.6 451.7,325.9 452.2,326.7 452.8,328.5 453.3,328.2 453.9,329.6 454.4,330.8 455.0,333.2 455.5,334.3 456.4,334.6 457.4,336.4 458.4,336.3 459.3,338.2 460.2,339.1 461.2,338.8 462.1,340.4 463.1,341.2 464.1,341.6 465.0,342.5" fill="none" stroke="#222" stroke-width="1.2" stroke-dasharray="1.1 2.7"/>
<polyline points="366.8,343.1 366.8,342.1 366.8,341.3 366.8,339.5 366.9,338.9 366.9,336.9 366.9,336.2 366.9,334.3 366.9,333.5 366.9,332.4 367.0,330.8 367.0,329.1 367.0,327.3 367.0,326.2 367.9,326.3 368.9,325.2 369.8,323.1 370.8,323.8 371.7,321.2 372.7,320.5 373.6,321.6 374.4,319.3 375.2,318.3 376.0,318.0 376.9,316.6 377.7,315.1 378.5,316.1 379.3,314.2 380.1,312.7 380.9,311.5 381.8,311.0 382.6,310.9 383.4,308.4 384.2,306.8 384.8,305.2 385.4,307.1 386.1,306.4 386.7,304.5 387.3,302.6 387.9,301.7 388.6,300.6 389.2,296.9 389.8,296.8 390.4,296.0 391.1,294.0 391.7,294.5 392.3,295.2 392.9,293.4 393.6,290.2 394.2,289.5 394.8,290.8 395.3,287.8 395.8,285.2 396.3,285.7 396.8,282.0 397.3,284.3 397.8,280.8 398.3,279.5 398.8,280.7 399.3,275.9 399.8,276.5 400.4,273.4 400.9,273.5 401.4,272.1 401.9,274.4 402.4,272.0 402.9,267.7 403.4,266.2 403.9,265.1 404.4,265.4 404.9,265.4 405.4,265.5 405.9,262.0 406.3,259.0 406.8,257.4 407.2,259.0 407.7,258.4 408.1,257.9 408.6,253.0 409.1,251.4 409.5,250.4 410.0,251.4 410.4,251.8 410.9,248.1 411.3,246.3 411.8,244.5 412.2,245.3 412.7,242.9 413.2,243.8 413.6,241.6 414.1,241.4 414.5,237.5 415.0,238.5 415.4,237.1 415.9,236.8 416.5,233.5 417.2,231.8 417.8,231.0 418.5,232.4 419.1,232.7 419.8,229.8 420.4,228.7 421.4,228.0 422.5,229.9 423.5,226.1 424.1,225.6 424.8,228.7 425.4,229.6 426.0,230.4 426.4,232.4 426.9,235.5 427.3,238.3 427.8,234.1 428.2,236.1 428.7,237.8 429.1,241.8 429.6,240.6 430.0,241.9 430.5,244.4 430.9,243.6 431.4,246.6 431.8,245.1 432.3,247.7 432.7,252.1 433.2,251.4 433.6,253.3 434.1,252.6 434.5,253.1 434.9,258.1 435.3,257.5 435.8,257.8 436.2,260.5 436.6,262.9 437.0,263.8 437.4,262.4 437.9,267.3 438.3,265.8 438.7,266.7 439.1,266.7 439.6,272.6 440.0,271.7 440.4,273.0 440.8,276.3 441.2,272.9 441.7,275.3 442.1,275.4 442.5,278.9 442.9,277.6 443.3,283.7 443.8,282.7 444.2,285.6 444.6,287.0 445.0,288.5 445.4,286.4 445.9,289.4 446.3,290.7 446.7,293.3 447.1,291.3 447.6,294.3 448.0,296.1 448.4,296.1 448.8,295.2 449.2,299.7 449.7,297.6 450.1,300.5 450.5,301.1 450.9,302.9 451.3,306.0 451.6,307.4 452.0,308.3 452.4,309.3 452.8,307.5 453.2,310.7 453.6,311.8 453.9,313.4 454.3,313.8 454.7,316.2 455.1,315.1 455.5,318.6 455.9,320.0 456.2,320.0 456.6,321.4 457.0,321.3 457.5,324.5 458.1,325.6 458.6,324.9 459.2,327.0 459.7,327.3 460.2,330.3 460.8,330.9 461.3,332.2 461.9,332.7 462.4,334.3 463.0,334.4 463.5,336.0 464.4,337.0 465.4,338.2 466.3,338.2 467.2,338.6 468.2,340.0 469.1,340.5 470.1,341.3 471.0,342.2 472.4,343.2 473.8,342.9 475.2,343.0 476.6,343.2 478.0,343.7" fill="none" stroke="#111" stroke-width="1.25" stroke-linejoin="round"/>
</g>
<path d="M458.9,334.4 H519.2" stroke="#333" stroke-width="0.9" fill="none"/>
<path d="M458.9,327.7 V341.4" stroke="#777" stroke-width="1.2" fill="none"/>
<text x="502.8" y="330.0" font-size="8.7" font-weight="bold" fill="#111" stroke="#111" stroke-width="0.3" textLength="10.8" lengthAdjust="spacingAndGlyphs">M1</text>
<rect x="356.6" y="211.2" width="162.60000000000002" height="133.10000000000002" fill="none" stroke="#2a2a2a" stroke-width="1.3"/>
<path d="M356.0,344.3 H519.8000000000001" stroke="#111" stroke-width="1.7"/>
<text x="508.4" y="225.5" font-size="12.3" font-weight="bold" text-anchor="end" fill="#111" >T435M</text>
<path d="M474,299.7 H460.3 M464.5,295.4 L459.8,299.7 L464.5,304.0" fill="none" stroke="#111" stroke-width="1.9" stroke-linejoin="miter"/>
<text x="416.5" y="358.8" font-size="10" fill="#111" stroke="#111" stroke-width="0.4" textLength="41.4" lengthAdjust="spacingAndGlyphs">Perforin-PE</text>
</g>
</g>
<g id="panelD">
<text x="4.6" y="396.4" font-size="25.3" font-weight="bold" fill="#000" stroke="#000" stroke-width="0.8">D</text>
<path d="M52.0,408.15 V669.6 M52.0,666.4 H403.2 V669.4" fill="none" stroke="#2a2a2a" stroke-width="1.3"/>
<path d="M48.8,666.40 H52.0 M48.8,640.57 H52.0 M48.8,614.75 H52.0 M48.8,588.92 H52.0 M48.8,563.10 H52.0 M48.8,537.27 H52.0 M48.8,511.45 H52.0 M48.8,485.62 H52.0 M48.8,459.80 H52.0 M48.8,433.97 H52.0 M48.8,408.15 H52.0 M140.5,666.4 v3 M228.6,666.4 v3 M315.8,666.4 v3 " fill="none" stroke="#2a2a2a" stroke-width="1.2"/>
<text x="46.3" y="670.1" font-size="10.2" font-weight="bold" text-anchor="end" fill="#111" stroke="#111" stroke-width="0.3" textLength="6.0" lengthAdjust="spacingAndGlyphs">0</text>
<text x="46.3" y="618.5" font-size="10.2" font-weight="bold" text-anchor="end" fill="#111" stroke="#111" stroke-width="0.3" textLength="11.9" lengthAdjust="spacingAndGlyphs">10</text>
<text x="46.3" y="566.8" font-size="10.2" font-weight="bold" text-anchor="end" fill="#111" stroke="#111" stroke-width="0.3" textLength="11.9" lengthAdjust="spacingAndGlyphs">20</text>
<text x="46.3" y="515.1" font-size="10.2" font-weight="bold" text-anchor="end" fill="#111" stroke="#111" stroke-width="0.3" textLength="11.9" lengthAdjust="spacingAndGlyphs">30</text>
<text x="46.3" y="463.5" font-size="10.2" font-weight="bold" text-anchor="end" fill="#111" stroke="#111" stroke-width="0.3" textLength="11.9" lengthAdjust="spacingAndGlyphs">40</text>
<text x="46.3" y="411.8" font-size="10.2" font-weight="bold" text-anchor="end" fill="#111" stroke="#111" stroke-width="0.3" textLength="11.9" lengthAdjust="spacingAndGlyphs">50</text>
<text transform="translate(22.7,541.6) rotate(-90)" font-size="10.6" text-anchor="middle" fill="#111" stroke="#111" stroke-width="0.6">% perforin + liposomes</text>
<rect x="62.3" y="664.1" width="12.4" height="2.3" fill="#000" stroke="#111" stroke-width="1"/>
<path d="M68.5,662.3 V665.6 M65.3,662.3 h6.4 M65.3,665.6 h6.4" fill="none" stroke="#111" stroke-width="1.15"/>
<rect x="76.2" y="656.1" width="12.1" height="10.3" fill="#fff" stroke="#111" stroke-width="1"/>
<path d="M82.2,649.9 V661.2 M79.0,649.9 h6.4 M79.0,661.2 h6.4" fill="none" stroke="#111" stroke-width="1.15"/>
<rect x="89.9" y="628.2" width="11.7" height="38.2" fill="#d6d6d6" stroke="#111" stroke-width="1"/>
<path d="M95.8,604.2 V666.4 M92.5,604.2 h6.4 M92.5,666.4 h6.4" fill="none" stroke="#111" stroke-width="1.15"/>
<rect x="103.0" y="574.5" width="11.7" height="91.9" fill="#a0a0a0" stroke="#111" stroke-width="1"/>
<path d="M108.8,530.3 V619.1 M105.6,530.3 h6.4 M105.6,619.1 h6.4" fill="none" stroke="#111" stroke-width="1.15"/>
<rect x="116.0" y="491.8" width="13.7" height="174.6" fill="#000" stroke="#111" stroke-width="1"/>
<path d="M122.8,435.0 V491.8 M119.6,435.0 h6.4" fill="none" stroke="#111" stroke-width="1.15"/>
<text x="100" y="685.2" font-size="10.5" font-weight="bold" text-anchor="middle" fill="#111" stroke="#111" stroke-width="0.25">WT</text>
<rect x="150.1" y="664.3" width="11.8" height="2.1" fill="#000" stroke="#111" stroke-width="1"/>
<path d="M156.0,663.6 V664.9 M152.8,663.6 h6.4 M152.8,664.9 h6.4" fill="none" stroke="#111" stroke-width="1.15"/>
<rect x="163.7" y="664.3" width="11.8" height="2.1" fill="#fff" stroke="#111" stroke-width="1"/>
<path d="M169.6,661.2 V667.4 M166.4,661.2 h6.4 M166.4,667.4 h6.4" fill="none" stroke="#111" stroke-width="1.15"/>
<rect x="177.3" y="663.8" width="11.6" height="2.6" fill="#d6d6d6" stroke="#111" stroke-width="1"/>
<path d="M183.1,660.5 V665.9 M179.9,660.5 h6.4 M179.9,665.9 h6.4" fill="none" stroke="#111" stroke-width="1.15"/>
<rect x="190.1" y="645.7" width="12.4" height="20.7" fill="#a0a0a0" stroke="#111" stroke-width="1"/>
<path d="M196.3,637.5 V654.3 M193.1,637.5 h6.4 M193.1,654.3 h6.4" fill="none" stroke="#111" stroke-width="1.15"/>
<rect x="203.7" y="584.3" width="13.4" height="82.1" fill="#000" stroke="#111" stroke-width="1"/>
<path d="M210.4,505.0 V584.3 M207.2,505.0 h6.4" fill="none" stroke="#111" stroke-width="1.15"/>
<text x="187.9" y="685.2" font-size="10.5" font-weight="bold" text-anchor="middle" fill="#111" stroke="#111" stroke-width="0.25">Y438C</text>
<rect x="237.5" y="663.8" width="13.8" height="2.6" fill="#000" stroke="#111" stroke-width="1"/>
<path d="M244.4,660.5 V665.4 M241.2,660.5 h6.4 M241.2,665.4 h6.4" fill="none" stroke="#111" stroke-width="1.15"/>
<rect x="252.9" y="664.6" width="11.2" height="1.8" fill="#fff" stroke="#111" stroke-width="1"/>
<path d="M258.5,663.3 V665.6 M255.3,663.3 h6.4 M255.3,665.6 h6.4" fill="none" stroke="#111" stroke-width="1.15"/>
<rect x="265.5" y="664.6" width="11.4" height="1.8" fill="#d6d6d6" stroke="#111" stroke-width="1"/>
<path d="M271.2,660.7 V666.1 M268.0,660.7 h6.4 M268.0,666.1 h6.4" fill="none" stroke="#111" stroke-width="1.15"/>
<rect x="278.1" y="662.5" width="11.8" height="3.9" fill="#a0a0a0" stroke="#111" stroke-width="1"/>
<path d="M284.0,657.9 V667.4 M280.8,657.9 h6.4 M280.8,667.4 h6.4" fill="none" stroke="#111" stroke-width="1.15"/>
<rect x="291.1" y="659.9" width="13.6" height="6.5" fill="#000" stroke="#111" stroke-width="1"/>
<path d="M297.9,651.9 V667.9 M294.7,651.9 h6.4 M294.7,667.9 h6.4" fill="none" stroke="#111" stroke-width="1.15"/>
<text x="275" y="685.2" font-size="10.5" font-weight="bold" text-anchor="middle" fill="#111" stroke="#111" stroke-width="0.25">T435M</text>
<rect x="324.9" y="663.8" width="12.6" height="2.6" fill="#000" stroke="#111" stroke-width="1"/>
<path d="M331.2,659.9 V667.9 M328.0,659.9 h6.4 M328.0,667.9 h6.4" fill="none" stroke="#111" stroke-width="1.15"/>
<rect x="338.7" y="664.6" width="11.8" height="1.8" fill="#fff" stroke="#111" stroke-width="1"/>
<path d="M344.6,662.5 V667.9 M341.4,662.5 h6.4 M341.4,667.9 h6.4" fill="none" stroke="#111" stroke-width="1.15"/>
<rect x="351.7" y="664.6" width="11.8" height="1.8" fill="#d6d6d6" stroke="#111" stroke-width="1"/>
<path d="M357.6,662.5 V666.1 M354.4,662.5 h6.4 M354.4,666.1 h6.4" fill="none" stroke="#111" stroke-width="1.15"/>
<rect x="364.7" y="664.3" width="11.8" height="2.1" fill="#a0a0a0" stroke="#111" stroke-width="1"/>
<path d="M370.6,662.3 V665.9 M367.4,662.3 h6.4 M367.4,665.9 h6.4" fill="none" stroke="#111" stroke-width="1.15"/>
<rect x="377.7" y="663.8" width="14.2" height="2.6" fill="#000" stroke="#111" stroke-width="1"/>
<path d="M384.8,661.2 V665.4 M381.6,661.2 h6.4 M381.6,665.4 h6.4" fill="none" stroke="#111" stroke-width="1.15"/>
<text x="361.6" y="685.2" font-size="10.5" font-weight="bold" text-anchor="middle" fill="#111" stroke="#111" stroke-width="0.25">50delt</text>
<text x="123.2" y="433.2" font-size="22" font-weight="bold" text-anchor="middle" fill="#111" >*</text>
<text x="108.8" y="525.3" font-size="22" font-weight="bold" text-anchor="middle" fill="#111" >*</text>
<text x="196.2" y="636.3" font-size="22" font-weight="bold" text-anchor="middle" fill="#111" >*</text>
<text x="216.6" y="430.2" font-size="10.5" font-weight="normal" text-anchor="start" fill="#111" stroke="#111" stroke-width="0.55">Calcium</text>
<text x="216.6" y="443.4" font-size="10.5" font-weight="normal" text-anchor="start" fill="#111" stroke="#111" stroke-width="0.55">Concentration:</text>
<rect x="302.3" y="424.2" width="4.6" height="4.6" fill="#000" stroke="#111" stroke-width="1"/>
<text x="313" y="430.1" font-size="10.6" fill="#111" stroke="#111" stroke-width="0.6" xml:space="preserve">0 <tspan x="330.8">mM</tspan></text>
<rect x="302.3" y="438.1" width="4.6" height="4.6" fill="#fff" stroke="#111" stroke-width="1"/>
<text x="313" y="444" font-size="10.6" fill="#111" stroke="#111" stroke-width="0.6" xml:space="preserve">0.2 <tspan x="330.8">mM</tspan></text>
<rect x="302.3" y="452.0" width="4.6" height="4.6" fill="#e6e6e6" stroke="#111" stroke-width="1"/>
<text x="313" y="457.9" font-size="10.6" fill="#111" stroke="#111" stroke-width="0.6" xml:space="preserve">0.5 <tspan x="330.8">mM</tspan></text>
<rect x="302.3" y="466.3" width="4.6" height="4.6" fill="#aaa" stroke="#111" stroke-width="1"/>
<text x="313" y="472.2" font-size="10.6" fill="#111" stroke="#111" stroke-width="0.6" xml:space="preserve">2.0 <tspan x="330.8">mM</tspan></text>
<rect x="302.3" y="480.4" width="4.6" height="4.6" fill="#000" stroke="#111" stroke-width="1"/>
<text x="313" y="486.3" font-size="10.6" fill="#111" stroke="#111" stroke-width="0.6" xml:space="preserve">5.0 <tspan x="330.8">mM</tspan></text>
</g>
</svg></body></html>
